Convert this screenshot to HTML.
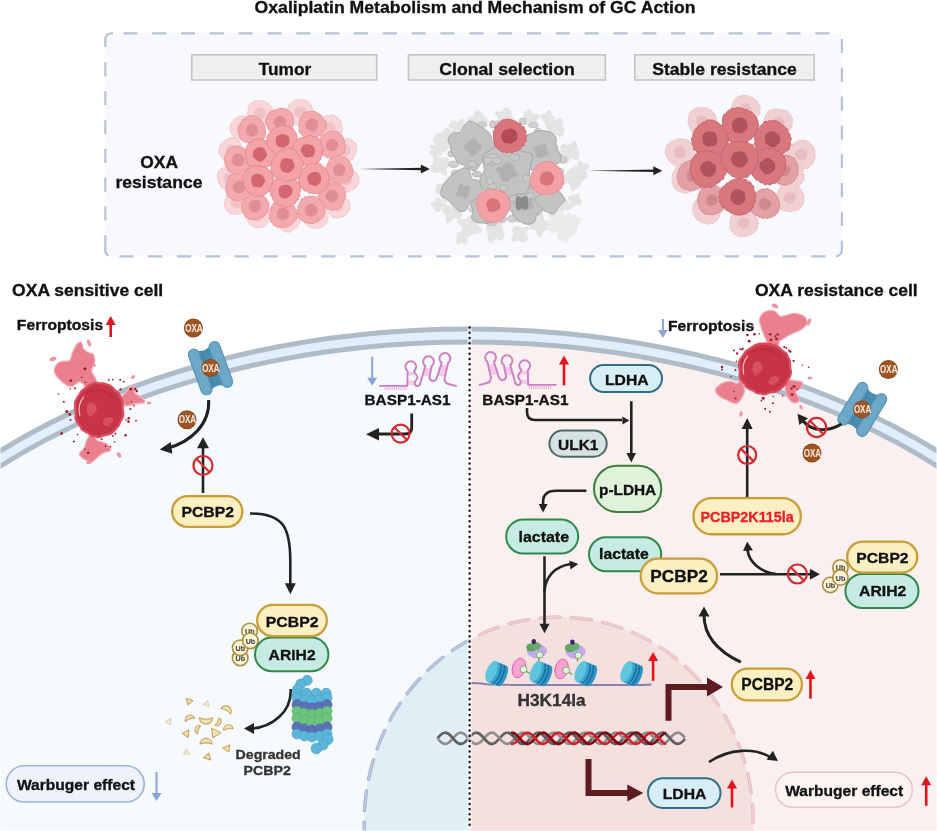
<!DOCTYPE html>
<html><head><meta charset="utf-8"><style>html,body{margin:0;padding:0;background:#fff;overflow:hidden}svg{display:block;filter:blur(0.4px)}</style></head><body>
<svg width="937" height="831" viewBox="0 0 937 831" font-family='"Liberation Sans", sans-serif'>
<defs>
<clipPath id="cell"><ellipse cx="468.7" cy="788.1" rx="683.4" ry="452.6"/></clipPath>
<clipPath id="L"><rect x="0" y="0" width="469.5" height="831"/></clipPath>
<clipPath id="R"><rect x="469.5" y="0" width="470" height="831"/></clipPath>
<linearGradient id="tap" x1="0" x2="1" y1="0" y2="0"><stop offset="0" stop-color="#222" stop-opacity="0"/><stop offset="0.35" stop-color="#222" stop-opacity="1"/></linearGradient>
</defs>
<rect width="937" height="831" fill="#ffffff"/>
<text x="254.60" y="12.7" font-size="17" fill="#111" stroke="#111" stroke-width="0.32" font-weight="bold" textLength="440.90" lengthAdjust="spacingAndGlyphs" >Oxaliplatin Metabolism and Mechanism of GC Action</text>
<rect x="105.3" y="33.3" width="736.6" height="223" rx="6" fill="#f8f9fd"/>
<line x1="123.3" y1="33.3" x2="830" y2="33.3" stroke="#b8c1da" stroke-width="2.2" fill="none" stroke-dasharray="14.1 14.73"/>
<line x1="119.4" y1="256.3" x2="826" y2="256.3" stroke="#b8c1da" stroke-width="2.2" fill="none" stroke-dasharray="14.1 14.73"/>
<line x1="841.9" y1="38.9" x2="841.9" y2="240" stroke="#b8c1da" stroke-width="2.2" fill="none" stroke-dasharray="14.1 14.73" transform=""/>
<line x1="105.3" y1="62.3" x2="105.3" y2="235" stroke="#b8c1da" stroke-width="2.2" fill="none" stroke-dasharray="14.1 14.73"/>
<path d="M105.3,235.3 L105.3,250.3 A6,6 0 0 0 108.5,255.6" stroke="#b8c1da" stroke-width="2.2" fill="none"/>
<path d="M841.9,240.7 L841.9,250.3 A6,6 0 0 1 835.9,256.3" stroke="#b8c1da" stroke-width="2.2" fill="none"/>
<path d="M105.3,47 L105.3,39.3 A6,6 0 0 1 111.3,33.3 L113,33.3" stroke="#b8c1da" stroke-width="2.2" fill="none"/>
<rect x="191.8" y="54.8" width="184.9" height="25.2" fill="#efefef" stroke="#c4c4c4" stroke-width="1.6"/>
<text x="258.83" y="74.6" font-size="17" fill="#111" stroke="#111" stroke-width="0.32" font-weight="bold" textLength="52.37" lengthAdjust="spacingAndGlyphs" >Tumor</text>
<rect x="408.5" y="54.8" width="196.90000000000006" height="25.2" fill="#efefef" stroke="#c4c4c4" stroke-width="1.6"/>
<text x="439.29" y="74.6" font-size="17" fill="#111" stroke="#111" stroke-width="0.32" font-weight="bold" textLength="135.44" lengthAdjust="spacingAndGlyphs" >Clonal selection</text>
<rect x="634.8" y="54.8" width="179.4" height="25.2" fill="#efefef" stroke="#c4c4c4" stroke-width="1.6"/>
<text x="652.27" y="74.6" font-size="17" fill="#111" stroke="#111" stroke-width="0.32" font-weight="bold" textLength="144.57" lengthAdjust="spacingAndGlyphs" >Stable resistance</text>
<text x="140.30" y="167.9" font-size="17" fill="#111" stroke="#111" stroke-width="0.32" font-weight="bold" textLength="37.67" lengthAdjust="spacingAndGlyphs" >OXA</text>
<text x="115.46" y="188.4" font-size="17" fill="#111" stroke="#111" stroke-width="0.32" font-weight="bold" textLength="87.01" lengthAdjust="spacingAndGlyphs" >resistance</text>
<path d="M358.5,169 L422,167.7 L422,170.3 Z" fill="#222"/>
<path d="M429.8,169.0 L420.8,173.5 L420.8,164.5 Z" fill="#222"/>
<path d="M587.6,170.7 L655,169.4 L655,172 Z" fill="#222"/>
<path d="M662.3,170.7 L653.3,175.2 L653.3,166.2 Z" fill="#222"/>
<path d="M273.1,113.0 L272.8,114.8 L272.3,116.6 L271.3,118.2 L270.6,119.8 L268.9,120.7 L268.2,122.5 L266.3,122.8 L265.2,124.5 L263.4,124.5 L261.8,125.6 L260.0,125.6 L258.1,126.5 L256.4,125.1 L254.5,125.0 L253.0,123.9 L251.1,123.3 L250.5,121.2 L249.3,119.9 L248.6,118.2 L248.3,116.4 L247.8,114.8 L247.6,113.0 L248.2,111.3 L247.9,109.5 L248.7,107.8 L248.6,105.7 L250.5,104.7 L251.1,102.8 L253.0,102.0 L254.5,101.0 L256.4,100.8 L258.2,100.5 L260.0,101.1 L261.8,100.7 L263.4,101.3 L265.2,101.6 L266.5,102.9 L268.4,103.3 L269.4,104.9 L270.9,106.0 L271.8,107.6 L273.0,109.2 L272.6,111.2 Z" fill="#f8d6d9" stroke="#f3c4c8" stroke-width="0.9" stroke-linejoin="round" opacity="1.0"/>
<path d="M265.9,113.0 L265.3,115.5 L263.9,117.8 L261.3,118.9 L258.7,118.5 L256.1,117.9 L255.1,115.4 L254.2,113.0 L254.5,110.4 L256.6,108.7 L258.7,107.3 L261.2,107.7 L263.7,108.3 L265.5,110.4 Z" fill="#efc2c6" opacity="1.0"/>
<path d="M313.1,112.0 L311.9,113.7 L312.2,115.6 L311.0,117.0 L310.7,118.9 L309.2,120.0 L308.7,122.0 L307.0,122.9 L305.5,124.1 L303.7,124.5 L301.9,125.0 L300.0,125.0 L298.1,125.3 L296.3,124.5 L294.5,124.0 L293.5,122.1 L291.8,121.5 L290.8,120.0 L289.7,118.6 L289.0,117.0 L287.9,115.5 L287.9,113.7 L287.1,112.0 L287.1,110.1 L287.4,108.3 L288.4,106.7 L288.8,104.8 L290.2,103.5 L291.7,102.4 L293.4,101.7 L294.7,100.4 L296.5,100.1 L298.2,99.3 L300.0,99.6 L301.8,99.6 L303.5,100.2 L305.4,100.2 L307.0,101.0 L309.0,101.6 L309.6,103.7 L311.1,104.9 L311.5,106.8 L312.4,108.3 L312.3,110.2 Z" fill="#f8d6d9" stroke="#f3c4c8" stroke-width="0.9" stroke-linejoin="round" opacity="1.0"/>
<path d="M305.9,112.0 L305.1,114.4 L303.4,116.2 L301.3,117.6 L298.7,117.6 L296.3,116.6 L294.3,114.7 L294.0,112.0 L294.7,109.5 L296.3,107.3 L298.7,106.1 L301.2,106.7 L303.9,107.1 L305.5,109.3 Z" fill="#efc2c6" opacity="1.0"/>
<path d="M342.9,128.0 L342.1,129.7 L342.4,131.6 L341.3,133.1 L341.3,135.3 L339.5,136.2 L338.6,137.9 L336.8,138.6 L335.4,139.8 L333.5,139.9 L331.8,140.4 L330.0,139.8 L328.2,140.2 L326.7,139.2 L324.8,139.4 L323.6,138.0 L321.4,138.0 L320.4,136.3 L319.1,135.0 L318.5,133.3 L317.2,131.8 L317.3,129.8 L317.0,128.0 L317.2,126.2 L317.2,124.2 L318.9,122.9 L319.4,121.2 L321.1,120.3 L322.0,118.7 L323.5,117.9 L324.8,116.5 L326.4,115.8 L328.2,115.2 L330.0,115.6 L332.0,114.4 L333.7,115.6 L335.5,116.1 L336.9,117.2 L338.3,118.4 L339.4,119.9 L341.0,120.9 L341.2,122.9 L342.2,124.4 L341.7,126.3 Z" fill="#f8d6d9" stroke="#f3c4c8" stroke-width="0.9" stroke-linejoin="round" opacity="1.0"/>
<path d="M335.7,128.0 L335.0,130.4 L333.8,132.8 L331.3,133.7 L328.6,134.0 L326.5,132.4 L325.0,130.4 L323.9,128.0 L324.3,125.3 L326.1,123.2 L328.6,122.0 L331.4,122.0 L333.8,123.3 L335.0,125.6 Z" fill="#efc2c6" opacity="1.0"/>
<path d="M356.9,150.0 L355.9,151.6 L355.9,153.2 L355.0,154.5 L354.6,156.2 L353.6,157.4 L353.0,159.2 L351.2,159.6 L350.2,161.3 L348.4,161.7 L346.8,162.6 L345.0,161.8 L343.3,162.0 L341.7,161.1 L340.1,160.8 L338.9,159.4 L337.3,158.9 L336.4,157.5 L335.1,156.4 L334.9,154.6 L333.7,153.3 L333.5,151.7 L333.3,150.0 L333.3,148.3 L332.9,146.4 L334.0,145.0 L334.4,143.2 L336.1,142.3 L337.2,141.0 L338.7,140.1 L340.1,139.3 L341.8,139.0 L343.3,138.2 L345.0,139.0 L346.6,138.5 L348.3,138.9 L350.0,139.0 L351.2,140.4 L352.9,140.9 L353.8,142.4 L355.7,143.1 L356.0,145.0 L356.5,146.6 L356.8,148.3 Z" fill="#f8d6d9" stroke="#f3c4c8" stroke-width="0.9" stroke-linejoin="round" opacity="1.0"/>
<path d="M350.8,150.0 L350.0,152.4 L348.3,154.1 L346.2,155.3 L343.9,155.0 L341.9,153.9 L339.8,152.5 L339.5,150.0 L340.1,147.6 L341.4,145.5 L343.8,144.8 L346.3,144.4 L348.5,145.6 L349.6,147.8 Z" fill="#efc2c6" opacity="1.0"/>
<path d="M359.3,180.0 L358.6,181.7 L358.8,183.5 L357.4,184.8 L357.0,186.4 L355.3,187.2 L354.8,189.0 L352.9,189.3 L351.8,190.5 L350.2,190.8 L348.7,192.0 L347.0,191.5 L345.2,192.4 L343.7,191.4 L341.8,191.3 L340.5,190.1 L339.1,189.1 L338.2,187.7 L337.1,186.4 L337.0,184.6 L335.5,183.4 L336.2,181.6 L335.4,180.0 L335.8,178.4 L335.7,176.7 L336.7,175.3 L336.8,173.5 L338.1,172.3 L338.8,170.5 L340.7,170.2 L341.8,168.7 L343.7,168.8 L345.3,168.1 L347.0,168.3 L348.7,168.3 L350.2,169.2 L351.9,169.3 L353.2,170.4 L354.6,171.2 L355.6,172.5 L357.1,173.5 L357.6,175.2 L358.9,176.5 L358.7,178.3 Z" fill="#f8d6d9" stroke="#f3c4c8" stroke-width="0.9" stroke-linejoin="round" opacity="1.0"/>
<path d="M352.4,180.0 L351.8,182.3 L350.6,184.5 L348.2,185.4 L345.7,185.6 L343.4,184.5 L342.3,182.3 L341.5,180.0 L341.8,177.5 L343.4,175.5 L345.9,175.0 L348.1,175.1 L350.3,175.8 L351.5,177.8 Z" fill="#efc2c6" opacity="1.0"/>
<path d="M350.1,206.0 L349.9,207.7 L350.0,209.5 L348.9,211.0 L347.9,212.3 L346.7,213.5 L345.7,214.9 L343.9,215.1 L342.9,216.8 L341.2,217.1 L339.7,217.5 L338.0,217.8 L336.3,218.0 L334.7,217.3 L332.7,217.6 L331.4,216.2 L330.1,215.2 L329.1,213.7 L327.8,212.5 L327.7,210.7 L326.9,209.2 L327.1,207.6 L326.3,206.0 L327.3,204.5 L326.7,202.7 L327.7,201.3 L328.2,199.7 L329.2,198.4 L329.9,196.6 L331.5,196.0 L333.0,195.0 L334.6,194.3 L336.2,193.7 L338.0,194.1 L339.6,194.6 L341.1,195.4 L342.7,195.7 L344.1,196.5 L345.5,197.3 L346.3,198.8 L348.0,199.6 L348.8,201.1 L350.0,202.5 L349.6,204.3 Z" fill="#f8d6d9" stroke="#f3c4c8" stroke-width="0.9" stroke-linejoin="round" opacity="1.0"/>
<path d="M343.1,206.0 L343.2,208.5 L341.4,210.3 L339.2,211.4 L336.9,210.9 L334.9,209.9 L333.0,208.4 L332.7,206.0 L333.5,203.8 L334.4,201.5 L336.8,200.6 L339.3,200.5 L341.1,202.1 L343.1,203.5 Z" fill="#efc2c6" opacity="1.0"/>
<path d="M328.4,217.0 L327.7,218.7 L327.8,220.5 L326.9,222.0 L326.7,223.8 L324.8,224.6 L323.7,225.9 L322.2,226.6 L320.8,227.5 L319.1,227.4 L317.6,228.2 L316.0,227.8 L314.4,228.4 L312.8,227.8 L311.1,227.8 L309.5,227.0 L308.0,226.2 L307.0,224.8 L305.8,223.6 L305.3,221.9 L304.6,220.3 L304.8,218.6 L304.5,217.0 L304.7,215.4 L304.8,213.7 L306.1,212.5 L306.2,210.7 L307.2,209.4 L308.4,208.2 L309.6,207.0 L310.9,205.9 L312.6,205.6 L314.2,204.5 L316.0,205.2 L317.7,204.8 L319.3,205.7 L321.1,205.8 L322.0,207.6 L323.8,208.0 L324.5,209.6 L325.8,210.7 L326.1,212.4 L327.2,213.7 L327.1,215.4 Z" fill="#f8d6d9" stroke="#f3c4c8" stroke-width="0.9" stroke-linejoin="round" opacity="1.0"/>
<path d="M321.1,217.0 L320.5,219.2 L319.5,221.4 L317.2,222.1 L314.9,222.0 L312.9,220.9 L310.9,219.5 L310.3,217.0 L311.0,214.6 L312.8,212.9 L314.8,212.0 L317.2,211.9 L319.3,212.8 L320.6,214.8 Z" fill="#efc2c6" opacity="1.0"/>
<path d="M300.0,220.0 L299.7,221.7 L299.6,223.4 L298.2,224.7 L297.6,226.2 L296.7,227.5 L295.6,228.7 L294.1,229.4 L292.8,230.6 L291.3,231.1 L289.7,232.2 L288.0,231.9 L286.3,232.1 L284.7,231.4 L283.1,230.8 L281.8,229.6 L280.4,228.8 L279.5,227.3 L278.5,226.1 L278.2,224.5 L277.0,223.2 L277.1,221.6 L276.1,220.0 L276.5,218.4 L276.1,216.5 L277.1,215.0 L277.4,213.2 L278.8,212.0 L280.0,210.7 L281.7,210.2 L282.9,208.7 L284.9,209.3 L286.3,208.3 L288.0,208.8 L289.6,208.9 L291.2,209.1 L293.0,209.1 L294.2,210.3 L296.0,210.7 L297.1,212.1 L298.2,213.5 L298.9,215.0 L299.9,216.5 L299.9,218.3 Z" fill="#f8d6d9" stroke="#f3c4c8" stroke-width="0.9" stroke-linejoin="round" opacity="1.0"/>
<path d="M293.7,220.0 L293.1,222.5 L291.4,224.3 L289.3,225.6 L286.8,225.4 L284.5,224.4 L283.3,222.2 L283.0,220.0 L283.4,217.8 L284.7,215.9 L286.9,215.1 L289.3,214.5 L291.4,215.7 L293.0,217.6 Z" fill="#efc2c6" opacity="1.0"/>
<path d="M269.8,216.0 L269.0,217.6 L268.8,219.2 L268.3,220.7 L268.0,222.4 L266.6,223.5 L265.9,225.2 L264.4,226.0 L263.0,227.0 L261.4,227.6 L259.7,228.1 L258.0,227.5 L256.3,227.9 L254.7,227.2 L253.2,226.5 L251.9,225.6 L250.2,225.0 L249.6,223.3 L248.3,222.3 L247.7,220.7 L246.4,219.4 L246.3,217.7 L245.6,216.0 L246.1,214.3 L246.4,212.6 L247.4,211.2 L247.8,209.5 L249.1,208.3 L250.3,207.1 L251.9,206.5 L253.3,205.7 L255.0,205.7 L256.4,204.7 L258.0,204.7 L259.7,204.1 L261.3,204.8 L263.0,205.0 L264.4,206.0 L266.1,206.6 L267.0,208.2 L268.1,209.5 L268.9,211.0 L269.3,212.7 L269.6,214.3 Z" fill="#f8d6d9" stroke="#f3c4c8" stroke-width="0.9" stroke-linejoin="round" opacity="1.0"/>
<path d="M263.8,216.0 L262.5,218.2 L261.3,220.2 L259.3,221.5 L256.7,221.7 L254.7,220.2 L253.3,218.3 L252.9,216.0 L252.8,213.5 L254.8,212.0 L256.8,210.7 L259.1,211.0 L261.4,211.8 L263.2,213.5 Z" fill="#efc2c6" opacity="1.0"/>
<path d="M248.5,203.0 L247.8,204.7 L248.2,206.6 L246.9,208.0 L246.1,209.5 L245.0,210.8 L243.8,212.0 L241.9,212.2 L240.7,213.2 L239.1,213.6 L237.6,214.5 L236.0,214.1 L234.3,214.5 L232.8,214.0 L231.0,214.0 L229.5,213.2 L228.1,212.1 L226.9,210.9 L225.4,209.8 L225.6,207.7 L224.2,206.5 L224.6,204.6 L224.0,203.0 L225.1,201.4 L225.0,199.8 L225.9,198.4 L225.8,196.4 L227.3,195.5 L228.1,193.9 L229.7,193.1 L230.9,191.9 L232.7,191.9 L234.3,191.0 L236.0,191.0 L237.7,191.1 L239.3,191.7 L240.8,192.4 L241.9,193.7 L243.6,194.2 L244.2,195.9 L245.7,196.7 L246.6,198.2 L247.8,199.5 L247.8,201.3 Z" fill="#f8d6d9" stroke="#f3c4c8" stroke-width="0.9" stroke-linejoin="round" opacity="1.0"/>
<path d="M241.5,203.0 L241.2,205.5 L239.6,207.5 L237.2,208.3 L234.8,208.4 L232.9,206.9 L231.0,205.4 L230.6,203.0 L230.9,200.6 L232.6,198.7 L234.8,197.9 L237.1,198.1 L239.6,198.5 L240.6,200.8 Z" fill="#efc2c6" opacity="1.0"/>
<path d="M241.0,178.0 L240.2,179.6 L240.4,181.4 L239.4,182.8 L238.6,184.2 L237.5,185.4 L236.6,186.7 L235.2,187.6 L234.0,188.9 L232.2,189.0 L230.7,190.0 L229.0,189.7 L227.2,190.6 L225.7,189.4 L224.0,188.9 L222.6,187.9 L221.0,187.2 L220.6,185.3 L219.5,184.1 L219.1,182.5 L218.1,181.2 L217.9,179.6 L217.4,178.0 L217.7,176.4 L217.4,174.6 L218.1,173.0 L218.3,171.1 L219.9,170.1 L221.0,168.8 L222.7,168.3 L224.0,167.1 L225.8,167.2 L227.4,166.6 L229.0,167.2 L230.6,166.7 L232.2,166.9 L233.8,167.5 L235.2,168.3 L237.0,168.7 L238.1,170.1 L239.3,171.4 L239.7,173.1 L240.7,174.6 L240.6,176.3 Z" fill="#f8d6d9" stroke="#f3c4c8" stroke-width="0.9" stroke-linejoin="round" opacity="1.0"/>
<path d="M234.4,178.0 L234.2,180.5 L232.6,182.5 L230.3,183.6 L227.9,182.9 L225.9,181.9 L224.0,180.4 L223.3,178.0 L224.2,175.7 L225.6,173.7 L227.9,173.2 L230.2,172.8 L232.6,173.5 L234.1,175.5 Z" fill="#efc2c6" opacity="1.0"/>
<path d="M243.0,150.0 L242.0,151.6 L242.2,153.3 L241.4,154.7 L241.4,156.7 L240.1,157.9 L239.3,159.6 L237.5,160.1 L236.1,161.2 L234.3,161.3 L232.7,161.8 L231.0,161.3 L229.4,161.2 L227.8,160.8 L226.3,160.4 L224.8,159.7 L223.2,159.0 L222.4,157.5 L221.0,156.5 L220.4,154.9 L219.0,153.5 L219.1,151.7 L218.9,150.0 L219.7,148.4 L219.4,146.6 L220.6,145.3 L221.2,143.7 L222.7,142.8 L223.4,141.2 L225.2,140.9 L226.2,139.4 L227.8,139.1 L229.2,137.7 L231.0,138.1 L232.8,137.5 L234.4,138.6 L236.1,138.9 L237.3,140.2 L239.2,140.6 L239.8,142.4 L240.8,143.7 L240.9,145.5 L242.1,146.7 L242.1,148.4 Z" fill="#f8d6d9" stroke="#f3c4c8" stroke-width="0.9" stroke-linejoin="round" opacity="1.0"/>
<path d="M236.3,150.0 L235.7,152.3 L234.5,154.3 L232.3,155.6 L229.9,155.0 L227.9,153.9 L226.3,152.3 L225.7,150.0 L226.0,147.6 L227.8,146.0 L229.7,144.5 L232.2,144.5 L234.4,145.8 L235.6,147.8 Z" fill="#efc2c6" opacity="1.0"/>
<path d="M253.8,128.0 L253.7,129.7 L253.6,131.4 L252.6,132.9 L252.6,134.8 L250.9,135.7 L250.3,137.5 L248.3,137.8 L246.9,138.7 L245.1,138.7 L243.7,139.5 L242.0,139.2 L240.3,139.8 L238.9,138.5 L237.1,138.7 L235.9,137.5 L233.8,137.4 L233.3,135.6 L231.8,134.5 L231.4,132.8 L230.2,131.5 L230.1,129.7 L229.6,128.0 L230.5,126.4 L230.4,124.6 L231.6,123.2 L232.4,121.8 L233.8,120.9 L234.1,118.9 L235.8,118.3 L237.1,117.4 L238.7,116.6 L240.3,115.9 L242.0,116.2 L243.7,115.8 L245.3,116.9 L246.9,117.2 L248.2,118.4 L249.7,119.1 L250.7,120.4 L251.5,121.9 L252.4,123.2 L253.0,124.8 L253.1,126.4 Z" fill="#f8d6d9" stroke="#f3c4c8" stroke-width="0.9" stroke-linejoin="round" opacity="1.0"/>
<path d="M247.7,128.0 L247.1,130.5 L245.3,132.2 L243.1,132.9 L240.8,133.2 L238.7,132.1 L236.8,130.5 L236.9,128.0 L237.2,125.7 L238.4,123.5 L240.9,123.1 L243.2,122.8 L245.5,123.6 L247.1,125.6 Z" fill="#efc2c6" opacity="1.0"/>
<path d="M265.7,130.0 L265.2,131.9 L266.2,134.2 L264.5,135.7 L264.3,137.9 L262.7,139.2 L261.2,140.6 L259.1,141.1 L257.9,142.9 L255.7,142.6 L253.9,143.2 L252.0,143.1 L250.1,143.3 L248.3,142.5 L246.4,142.3 L244.5,141.6 L242.4,141.1 L241.4,139.2 L239.5,138.0 L239.8,135.6 L238.5,134.0 L238.6,131.9 L237.7,130.0 L238.6,128.1 L239.1,126.2 L240.4,124.7 L240.7,122.7 L242.1,121.4 L242.7,119.3 L244.8,118.9 L246.0,116.8 L248.0,116.5 L249.9,115.4 L252.0,115.9 L254.1,115.7 L255.8,117.0 L257.8,117.4 L259.1,119.0 L261.1,119.5 L261.5,121.7 L263.2,122.8 L264.0,124.5 L265.0,126.2 L264.9,128.2 Z" fill="#f2aaae" stroke="#e89499" stroke-width="0.9" stroke-linejoin="round" opacity="1.0"/>
<path d="M257.8,130.0 L257.7,132.8 L255.8,134.8 L253.5,136.6 L250.5,136.5 L247.8,135.3 L246.5,132.6 L246.1,130.0 L246.7,127.4 L248.1,125.1 L250.6,123.7 L253.4,123.9 L255.8,125.3 L257.6,127.3 Z" fill="#e08e93" opacity="1.0"/>
<path d="M293.8,122.0 L293.1,123.9 L293.2,125.9 L292.0,127.5 L291.3,129.2 L290.3,130.9 L289.1,132.5 L287.4,133.6 L285.9,135.0 L284.0,135.6 L282.0,136.1 L280.0,135.6 L278.0,135.8 L276.3,134.6 L274.1,134.8 L272.9,133.0 L271.2,132.1 L270.3,130.4 L268.2,129.6 L268.0,127.5 L266.8,125.9 L266.3,124.0 L265.5,122.0 L265.8,120.0 L266.4,118.0 L267.4,116.2 L267.7,114.1 L269.5,112.9 L270.7,111.2 L273.1,111.3 L274.4,109.8 L276.4,109.9 L278.1,108.9 L280.0,108.5 L282.0,108.3 L283.9,108.7 L285.9,109.2 L287.6,110.1 L289.5,111.1 L290.4,113.0 L292.3,114.1 L292.8,116.2 L293.2,118.1 L293.2,120.1 Z" fill="#f2aaae" stroke="#e89499" stroke-width="0.9" stroke-linejoin="round" opacity="1.0"/>
<path d="M286.4,122.0 L285.4,124.6 L283.8,126.8 L281.3,127.8 L278.7,127.9 L276.2,126.7 L274.2,124.8 L273.5,122.0 L274.6,119.4 L276.4,117.5 L278.6,116.0 L281.4,115.7 L283.7,117.3 L285.5,119.3 Z" fill="#e08e93" opacity="1.0"/>
<path d="M326.7,125.0 L325.8,127.0 L325.5,129.0 L324.2,130.6 L323.8,132.6 L322.1,133.7 L321.0,135.4 L318.8,135.6 L317.5,137.0 L315.7,137.6 L313.9,138.5 L312.0,138.1 L310.0,138.8 L308.0,138.5 L306.1,138.0 L304.4,136.8 L302.6,135.8 L301.6,134.0 L299.8,132.8 L299.4,130.8 L298.9,128.9 L299.3,126.8 L298.3,125.0 L299.4,123.2 L299.4,121.3 L299.7,119.4 L300.3,117.5 L301.5,115.9 L302.7,114.2 L304.3,113.0 L306.0,111.8 L308.2,111.9 L310.0,111.2 L312.0,111.4 L314.0,111.1 L315.8,112.0 L317.5,113.0 L319.1,114.0 L320.8,114.9 L321.9,116.4 L323.4,117.7 L324.1,119.5 L325.6,121.0 L326.0,123.0 Z" fill="#f2aaae" stroke="#e89499" stroke-width="0.9" stroke-linejoin="round" opacity="1.0"/>
<path d="M317.9,125.0 L317.7,127.7 L316.1,130.2 L313.5,131.6 L310.7,130.8 L308.3,129.6 L305.9,127.9 L305.2,125.0 L306.3,122.3 L308.4,120.4 L310.5,118.4 L313.4,119.0 L316.2,119.8 L317.8,122.2 Z" fill="#e08e93" opacity="1.0"/>
<path d="M345.3,145.0 L345.2,146.9 L345.1,148.8 L344.2,150.6 L344.3,152.9 L342.7,154.3 L341.3,155.7 L339.4,156.5 L337.9,158.0 L335.8,158.1 L334.0,158.7 L332.0,157.9 L330.1,158.3 L328.3,157.6 L326.2,157.6 L325.2,155.6 L323.0,155.4 L321.7,153.9 L320.4,152.4 L319.2,150.8 L318.4,149.0 L318.1,147.0 L317.5,145.0 L318.3,143.0 L318.6,141.1 L319.9,139.5 L320.4,137.5 L322.2,136.5 L323.1,134.7 L325.0,134.1 L326.4,132.6 L328.4,132.7 L330.0,131.0 L332.0,131.3 L334.0,131.0 L336.0,131.4 L338.1,131.6 L339.5,133.4 L341.2,134.4 L342.2,136.2 L343.4,137.7 L343.6,139.7 L344.9,141.2 L344.5,143.2 Z" fill="#f2aaae" stroke="#e89499" stroke-width="0.9" stroke-linejoin="round" opacity="1.0"/>
<path d="M338.2,145.0 L337.7,147.7 L335.6,149.6 L333.4,151.3 L330.7,150.7 L327.9,150.1 L326.1,147.9 L325.7,145.0 L326.7,142.5 L328.1,140.1 L330.6,139.0 L333.5,138.4 L335.7,140.4 L338.0,142.1 Z" fill="#e08e93" opacity="1.0"/>
<path d="M353.2,170.0 L352.8,172.0 L352.5,174.0 L352.0,175.9 L351.2,177.8 L349.8,179.3 L348.6,181.1 L346.2,181.1 L344.9,182.8 L342.8,182.9 L340.9,183.1 L339.0,182.8 L337.0,183.6 L335.4,182.3 L333.1,182.9 L331.8,181.2 L329.5,181.0 L328.8,178.9 L326.8,177.8 L326.0,175.9 L325.4,174.0 L325.7,171.9 L325.0,170.0 L326.0,168.1 L326.3,166.3 L327.4,164.7 L327.9,162.8 L328.9,161.2 L329.9,159.5 L331.6,158.5 L333.2,157.4 L335.1,156.6 L337.0,156.0 L339.0,156.0 L341.1,155.6 L342.8,156.9 L345.0,156.8 L346.3,158.7 L348.0,159.6 L349.1,161.3 L350.1,162.9 L351.2,164.4 L352.2,166.1 L352.0,168.1 Z" fill="#f2aaae" stroke="#e89499" stroke-width="0.9" stroke-linejoin="round" opacity="1.0"/>
<path d="M345.6,170.0 L344.5,172.6 L343.2,175.3 L340.4,176.2 L337.6,176.0 L334.9,175.1 L333.4,172.7 L333.0,170.0 L333.1,167.2 L335.4,165.4 L337.5,163.5 L340.3,164.1 L343.0,165.0 L345.1,167.1 Z" fill="#e08e93" opacity="1.0"/>
<path d="M345.9,196.0 L344.7,197.8 L344.6,199.7 L343.4,201.2 L343.2,203.2 L342.1,204.7 L341.1,206.5 L339.4,207.5 L338.1,209.4 L335.8,209.0 L334.0,210.1 L332.0,210.0 L330.0,209.7 L328.3,208.6 L326.3,208.5 L325.1,206.8 L323.2,206.2 L322.4,204.3 L320.5,203.4 L320.0,201.5 L319.0,199.8 L318.5,197.9 L317.8,196.0 L318.6,194.1 L317.8,191.8 L319.5,190.3 L320.1,188.4 L321.9,187.3 L322.7,185.3 L324.7,184.6 L326.2,183.4 L328.4,183.6 L330.1,182.8 L332.0,183.4 L334.0,182.3 L335.8,183.1 L337.8,183.3 L339.5,184.3 L341.4,185.1 L342.8,186.6 L344.3,188.1 L344.3,190.4 L345.9,191.9 L344.9,194.1 Z" fill="#f2aaae" stroke="#e89499" stroke-width="0.9" stroke-linejoin="round" opacity="1.0"/>
<path d="M338.3,196.0 L337.6,198.7 L335.8,200.7 L333.3,201.7 L330.5,202.4 L328.4,200.5 L326.3,198.8 L325.3,196.0 L326.6,193.4 L328.3,191.3 L330.6,189.8 L333.4,189.9 L336.0,191.0 L338.0,193.1 Z" fill="#e08e93" opacity="1.0"/>
<path d="M325.3,210.0 L324.6,212.0 L324.5,214.0 L323.8,215.9 L323.1,217.8 L321.3,218.9 L319.7,220.1 L318.2,221.2 L316.7,222.5 L314.6,222.4 L313.0,223.7 L311.0,223.2 L309.0,223.6 L307.3,222.8 L305.1,222.9 L303.7,221.4 L301.6,220.8 L300.4,219.2 L298.8,217.8 L298.4,215.7 L297.5,214.0 L298.2,211.8 L297.4,210.0 L298.2,208.2 L297.8,206.1 L299.1,204.5 L299.5,202.6 L300.7,201.1 L301.4,198.9 L303.6,198.6 L304.9,196.5 L307.2,197.0 L309.0,196.0 L311.0,196.6 L313.0,195.9 L314.8,196.9 L316.8,197.4 L317.9,199.2 L320.1,199.5 L320.7,201.6 L322.4,202.7 L323.5,204.3 L324.6,206.0 L324.8,208.0 Z" fill="#f2aaae" stroke="#e89499" stroke-width="0.9" stroke-linejoin="round" opacity="1.0"/>
<path d="M317.5,210.0 L317.1,212.9 L314.9,214.9 L312.5,216.5 L309.6,216.3 L306.8,215.2 L305.4,212.7 L304.5,210.0 L305.3,207.2 L307.2,205.2 L309.7,204.1 L312.4,203.7 L314.7,205.4 L317.0,207.1 Z" fill="#e08e93" opacity="1.0"/>
<path d="M297.0,214.0 L296.4,215.9 L297.2,218.2 L295.5,219.7 L294.7,221.5 L292.9,222.6 L291.8,224.2 L290.2,225.2 L288.7,226.4 L286.7,226.6 L285.0,227.6 L283.0,226.8 L281.0,227.8 L279.2,226.9 L277.0,227.2 L275.4,225.9 L273.3,225.2 L272.8,222.9 L270.7,221.9 L270.3,219.8 L269.2,218.0 L270.2,215.8 L269.6,214.0 L270.5,212.2 L270.4,210.3 L270.9,208.5 L271.2,206.4 L272.8,205.2 L273.5,203.1 L275.5,202.3 L277.1,201.0 L279.2,201.0 L281.0,200.0 L283.0,200.0 L285.0,200.3 L286.7,201.3 L288.7,201.6 L289.8,203.4 L291.7,203.9 L292.7,205.6 L294.6,206.5 L295.0,208.5 L296.3,210.1 L296.9,212.0 Z" fill="#f2aaae" stroke="#e89499" stroke-width="0.9" stroke-linejoin="round" opacity="1.0"/>
<path d="M289.3,214.0 L289.0,216.9 L287.0,219.0 L284.3,219.7 L281.6,220.1 L279.1,218.9 L277.1,216.9 L276.9,214.0 L277.1,211.2 L279.0,209.0 L281.7,208.1 L284.5,207.5 L286.7,209.4 L289.0,211.1 Z" fill="#e08e93" opacity="1.0"/>
<path d="M269.0,206.0 L268.5,207.9 L269.1,210.1 L267.9,211.9 L266.6,213.4 L265.1,214.8 L264.0,216.4 L262.2,217.2 L260.5,218.1 L258.7,218.4 L256.9,219.3 L255.0,219.5 L253.0,219.6 L251.1,219.4 L249.1,218.9 L247.6,217.5 L245.4,217.1 L244.5,215.1 L243.3,213.6 L242.6,211.7 L242.0,209.8 L241.7,207.9 L241.3,206.0 L241.9,204.1 L241.9,202.2 L243.2,200.6 L243.4,198.6 L244.9,197.2 L245.5,195.0 L247.7,194.7 L248.8,192.5 L251.2,193.0 L253.0,192.0 L255.0,192.5 L257.0,191.8 L258.7,193.3 L260.6,193.7 L262.2,194.8 L263.7,196.0 L264.8,197.5 L266.6,198.6 L267.3,200.4 L268.7,202.0 L268.7,204.0 Z" fill="#f2aaae" stroke="#e89499" stroke-width="0.9" stroke-linejoin="round" opacity="1.0"/>
<path d="M261.1,206.0 L260.5,208.7 L258.7,210.7 L256.5,212.5 L253.6,212.3 L250.9,211.1 L249.6,208.6 L248.8,206.0 L249.1,203.1 L251.0,201.0 L253.7,200.2 L256.4,199.9 L259.2,200.8 L260.4,203.4 Z" fill="#e08e93" opacity="1.0"/>
<path d="M253.3,187.0 L253.0,189.0 L253.1,191.1 L251.2,192.6 L250.6,194.5 L248.9,195.6 L247.9,197.3 L246.0,198.0 L244.5,199.0 L242.6,199.3 L240.9,200.3 L239.0,200.7 L237.0,201.1 L235.2,199.8 L232.9,200.4 L231.7,198.4 L229.6,197.9 L228.2,196.3 L226.8,194.8 L226.6,192.7 L225.8,190.9 L226.3,188.8 L225.3,187.0 L226.5,185.2 L226.2,183.2 L227.1,181.6 L227.6,179.7 L228.8,178.2 L229.5,176.0 L231.4,175.2 L233.0,173.8 L235.1,173.6 L237.0,172.8 L239.0,173.7 L241.0,173.1 L242.7,174.4 L244.7,174.4 L246.2,175.8 L247.8,176.8 L248.9,178.4 L250.8,179.4 L251.1,181.5 L252.4,183.1 L252.8,185.0 Z" fill="#f2aaae" stroke="#e89499" stroke-width="0.9" stroke-linejoin="round" opacity="1.0"/>
<path d="M245.7,187.0 L244.9,189.9 L243.1,192.1 L240.5,193.5 L237.6,193.3 L235.0,192.0 L233.4,189.7 L232.9,187.0 L233.2,184.2 L235.3,182.4 L237.6,180.9 L240.5,180.6 L243.1,181.9 L244.8,184.2 Z" fill="#e08e93" opacity="1.0"/>
<path d="M252.4,160.0 L251.7,162.0 L251.8,164.1 L250.3,165.6 L249.8,167.6 L248.2,168.9 L246.7,170.1 L245.1,171.0 L243.7,172.5 L241.7,172.5 L240.0,173.6 L238.0,173.8 L236.0,173.7 L234.1,173.3 L232.1,172.9 L230.3,171.9 L228.3,171.2 L227.6,169.0 L226.4,167.4 L225.8,165.6 L224.8,163.9 L225.0,161.9 L224.5,160.0 L225.0,158.1 L224.6,156.1 L225.9,154.5 L226.2,152.4 L227.4,150.8 L228.7,149.3 L230.4,148.2 L232.0,146.9 L234.0,146.5 L236.0,146.3 L238.0,146.2 L239.9,146.5 L241.6,147.8 L243.5,147.9 L245.0,149.2 L246.6,150.0 L247.9,151.4 L249.7,152.5 L250.5,154.3 L251.6,156.0 L251.5,158.1 Z" fill="#f2aaae" stroke="#e89499" stroke-width="0.9" stroke-linejoin="round" opacity="1.0"/>
<path d="M244.0,160.0 L243.9,162.8 L242.2,165.3 L239.4,166.2 L236.7,165.9 L233.9,165.2 L232.4,162.7 L232.0,160.0 L232.7,157.4 L233.9,154.9 L236.5,153.6 L239.4,153.7 L241.9,155.1 L243.7,157.2 Z" fill="#e08e93" opacity="1.0"/>
<path d="M276.4,154.4 L275.0,156.6 L275.3,158.9 L273.9,160.8 L273.2,162.9 L271.0,164.0 L269.7,165.7 L267.7,166.5 L266.0,167.7 L264.1,168.5 L262.0,169.3 L259.9,169.5 L257.7,169.7 L255.6,168.9 L253.4,168.7 L251.6,167.3 L249.6,166.3 L248.7,164.1 L246.6,163.0 L246.6,160.5 L245.5,158.6 L245.8,156.4 L245.0,154.4 L245.8,152.4 L245.3,150.1 L246.4,148.3 L247.0,146.1 L248.2,144.2 L249.3,142.1 L251.8,141.8 L253.1,139.5 L255.5,139.3 L257.6,138.5 L259.9,139.8 L262.1,138.9 L264.0,140.3 L265.9,141.2 L267.4,142.7 L270.0,142.7 L271.0,144.8 L272.6,146.2 L273.2,148.3 L274.7,150.0 L274.8,152.3 Z" fill="#f4a3a7" stroke="#e3868c" stroke-width="0.9" stroke-linejoin="round" opacity="1.0"/>
<path d="M267.2,154.4 L266.1,157.4 L264.0,159.6 L261.6,161.7 L258.3,161.5 L255.8,159.6 L253.2,157.6 L252.8,154.4 L253.3,151.2 L255.4,148.8 L258.2,147.1 L261.5,147.3 L264.5,148.6 L265.9,151.5 Z" fill="#d2676f" opacity="1.0"/>
<path d="M297.5,140.8 L296.9,142.9 L296.9,145.0 L296.1,147.0 L295.5,149.1 L293.7,150.5 L292.7,152.6 L290.6,153.4 L289.2,155.4 L286.7,155.2 L284.8,156.5 L282.5,155.5 L280.3,156.1 L278.4,154.8 L276.2,154.5 L274.6,153.2 L273.0,151.8 L271.3,150.5 L269.7,149.0 L268.9,147.0 L267.3,145.3 L267.1,143.0 L266.6,140.8 L267.3,138.6 L266.8,136.2 L269.0,134.6 L269.3,132.3 L271.2,131.0 L272.8,129.7 L274.7,128.6 L276.2,127.0 L278.3,126.6 L280.4,126.0 L282.5,125.7 L284.7,125.4 L286.8,126.3 L289.3,126.0 L290.6,128.2 L293.1,128.5 L294.2,130.7 L295.6,132.4 L296.4,134.5 L297.1,136.5 L296.8,138.7 Z" fill="#f4a3a7" stroke="#e3868c" stroke-width="0.9" stroke-linejoin="round" opacity="1.0"/>
<path d="M289.5,140.8 L289.1,144.0 L286.7,146.0 L284.0,147.6 L281.0,147.5 L278.1,146.3 L275.9,144.0 L275.7,140.8 L275.9,137.6 L278.2,135.4 L280.9,134.0 L284.0,134.2 L286.9,135.3 L289.3,137.5 Z" fill="#d2676f" opacity="1.0"/>
<path d="M323.3,150.8 L322.0,152.8 L322.2,155.0 L321.0,156.7 L320.9,159.1 L319.3,160.6 L318.5,162.9 L316.0,163.3 L314.7,165.6 L312.4,165.9 L310.3,166.6 L308.0,165.6 L305.8,166.1 L304.0,164.5 L301.8,164.3 L300.0,163.2 L298.1,162.2 L297.0,160.3 L295.0,159.1 L294.3,157.1 L293.0,155.2 L292.9,153.0 L291.9,150.8 L292.6,148.6 L292.5,146.3 L293.9,144.4 L295.0,142.4 L296.6,140.9 L298.0,139.3 L300.0,138.4 L301.9,137.5 L304.0,137.3 L305.9,136.3 L308.0,136.0 L310.2,135.2 L312.3,136.3 L314.5,136.5 L316.5,137.6 L318.7,138.5 L319.7,140.7 L321.2,142.3 L321.5,144.6 L322.7,146.5 L322.3,148.7 Z" fill="#f4a3a7" stroke="#e3868c" stroke-width="0.9" stroke-linejoin="round" opacity="1.0"/>
<path d="M314.9,150.8 L314.4,153.9 L312.7,156.7 L309.4,157.1 L306.4,157.7 L304.0,155.9 L302.1,153.7 L300.7,150.8 L301.6,147.7 L303.3,145.0 L306.5,144.0 L309.4,144.5 L312.3,145.4 L314.4,147.7 Z" fill="#d2676f" opacity="1.0"/>
<path d="M330.0,178.9 L329.0,181.0 L329.3,183.3 L327.9,185.1 L327.9,187.6 L325.7,188.8 L324.5,190.7 L322.3,191.3 L320.6,192.6 L318.5,193.2 L316.4,193.5 L314.3,193.7 L312.2,193.3 L310.1,193.0 L308.1,192.4 L306.6,190.9 L304.0,190.8 L303.0,188.7 L300.7,187.6 L300.5,185.2 L299.3,183.3 L298.9,181.1 L298.4,178.9 L299.3,176.7 L299.5,174.5 L301.5,173.1 L301.6,170.7 L303.3,169.4 L304.5,167.6 L306.2,166.3 L308.0,165.1 L309.9,164.0 L312.0,163.0 L314.3,164.0 L316.5,163.5 L318.7,164.0 L321.0,164.2 L322.2,166.6 L324.3,167.4 L325.5,169.2 L326.7,170.9 L327.7,172.8 L328.7,174.7 L328.2,176.9 Z" fill="#f4a3a7" stroke="#e3868c" stroke-width="0.9" stroke-linejoin="round" opacity="1.0"/>
<path d="M321.2,178.9 L320.7,182.0 L318.6,184.3 L315.9,185.9 L312.8,185.3 L309.7,184.6 L308.1,181.9 L307.1,178.9 L307.9,175.8 L310.0,173.5 L312.8,172.2 L315.9,171.8 L319.0,173.0 L320.9,175.7 Z" fill="#d2676f" opacity="1.0"/>
<path d="M300.4,191.6 L299.2,193.6 L300.1,195.9 L298.5,197.6 L298.2,199.9 L296.2,201.0 L295.5,203.3 L293.7,204.6 L292.0,206.3 L289.7,206.4 L287.6,207.3 L285.3,206.9 L283.0,207.7 L281.1,205.9 L278.8,205.8 L277.4,204.0 L275.2,203.2 L274.2,201.2 L272.9,199.6 L272.6,197.4 L270.9,195.8 L270.6,193.7 L269.5,191.6 L269.9,189.4 L269.6,187.0 L271.7,185.4 L271.6,182.8 L273.6,181.5 L274.9,179.6 L277.3,179.1 L279.1,178.0 L281.2,177.5 L283.1,176.5 L285.3,177.0 L287.5,176.2 L289.4,177.6 L291.6,177.8 L293.5,178.8 L295.9,179.3 L296.7,181.7 L299.0,182.8 L299.6,185.1 L300.2,187.2 L300.1,189.5 Z" fill="#f4a3a7" stroke="#e3868c" stroke-width="0.9" stroke-linejoin="round" opacity="1.0"/>
<path d="M292.5,191.6 L291.6,194.6 L289.5,196.8 L286.8,198.2 L283.7,198.7 L280.7,197.3 L279.0,194.6 L278.8,191.6 L278.7,188.4 L280.7,185.9 L283.8,185.1 L286.9,184.7 L289.9,185.8 L292.0,188.4 Z" fill="#d2676f" opacity="1.0"/>
<path d="M273.4,180.7 L272.5,182.8 L272.2,184.9 L270.8,186.5 L270.4,188.6 L269.1,190.3 L267.9,192.1 L266.1,193.3 L264.5,194.9 L262.3,195.4 L260.2,196.2 L258.0,195.7 L255.7,197.0 L253.8,195.1 L251.7,194.5 L250.0,193.2 L247.9,192.3 L247.4,189.9 L245.3,188.8 L245.0,186.6 L243.5,185.0 L243.9,182.7 L242.9,180.7 L242.5,178.5 L242.4,176.1 L244.0,174.3 L244.5,172.0 L246.6,170.8 L247.5,168.6 L250.0,168.2 L251.5,166.4 L253.9,166.6 L255.8,165.6 L258.0,165.9 L260.1,166.0 L262.0,167.1 L264.3,166.9 L266.0,168.3 L268.1,169.0 L269.3,170.9 L271.5,172.0 L272.3,174.2 L273.2,176.2 L273.3,178.5 Z" fill="#f4a3a7" stroke="#e3868c" stroke-width="0.9" stroke-linejoin="round" opacity="1.0"/>
<path d="M265.5,180.7 L263.9,183.5 L262.4,186.3 L259.5,187.4 L256.5,187.1 L253.3,186.6 L251.9,183.6 L250.9,180.7 L251.6,177.6 L253.3,174.8 L256.4,173.7 L259.5,174.0 L262.3,175.3 L264.0,177.8 Z" fill="#d2676f" opacity="1.0"/>
<path d="M303.9,165.3 L302.5,167.5 L302.7,169.9 L301.6,172.0 L301.2,174.5 L299.7,176.3 L298.3,178.4 L295.9,179.1 L293.7,179.9 L291.5,180.5 L289.3,181.4 L287.0,180.7 L284.7,181.5 L282.8,179.6 L280.4,179.7 L278.3,178.8 L275.8,178.2 L274.6,176.1 L272.8,174.4 L272.0,172.2 L270.4,170.2 L271.4,167.5 L270.5,165.3 L271.7,163.1 L271.9,160.9 L273.1,158.9 L273.9,156.9 L275.6,155.5 L276.7,153.4 L278.5,152.0 L280.3,150.7 L282.4,149.6 L284.6,148.8 L287.0,149.4 L289.5,148.0 L291.5,149.9 L294.1,149.6 L295.8,151.6 L297.9,152.7 L298.4,155.4 L300.4,156.7 L300.5,159.1 L302.8,160.7 L302.7,163.0 Z" fill="#f4a3a7" stroke="#e3868c" stroke-width="0.9" stroke-linejoin="round" opacity="1.0"/>
<path d="M294.7,165.3 L293.7,168.5 L291.6,171.0 L288.8,173.0 L285.3,172.6 L282.2,171.3 L280.6,168.4 L279.8,165.3 L280.7,162.3 L282.2,159.2 L285.3,157.9 L288.6,158.4 L292.0,159.1 L293.5,162.2 Z" fill="#d2676f" opacity="1.0"/>
<path d="M457.8,140.0 C457.8,141.1 456.7,142.3 456.1,143.3 C455.5,144.2 454.8,145.1 454.0,145.8 C453.2,146.4 452.1,146.8 451.2,147.2 C450.4,147.6 449.6,147.8 448.8,148.3 C448.0,148.8 447.4,149.5 446.5,150.2 C445.5,150.9 444.3,152.3 443.2,152.5 C442.1,152.7 440.5,152.2 439.9,151.2 C439.3,150.1 440.2,147.1 439.8,146.0 C439.5,144.9 438.9,145.0 437.9,144.6 C436.9,144.1 434.8,144.0 433.9,143.3 C433.1,142.5 432.7,141.1 432.7,140.0 C432.8,138.9 433.8,137.8 434.4,136.9 C434.9,135.9 435.2,134.8 436.0,134.2 C436.8,133.6 438.0,133.3 439.0,133.0 C439.9,132.7 440.8,132.9 441.6,132.5 C442.3,132.0 442.7,131.1 443.6,130.2 C444.5,129.4 445.7,127.4 446.8,127.2 C447.9,126.9 449.5,127.6 450.2,128.6 C450.9,129.6 450.7,131.9 450.9,133.2 C451.1,134.4 450.5,135.3 451.3,135.9 C452.2,136.5 455.0,136.1 456.1,136.7 C457.2,137.4 457.8,138.9 457.8,140.0 Z" fill="#e4e4e4" opacity="1.0"/>
<path d="M449.9,165.0 C449.7,165.9 448.5,166.6 447.9,167.3 C447.3,168.0 446.7,168.2 446.6,169.2 C446.5,170.2 447.5,172.3 447.2,173.4 C447.0,174.4 445.9,175.7 444.9,175.7 C443.9,175.8 442.2,174.5 441.3,173.8 C440.3,173.1 439.9,171.8 439.0,171.7 C438.2,171.5 437.3,172.8 436.4,172.9 C435.4,173.1 434.3,173.0 433.3,172.7 C432.4,172.4 431.1,171.8 430.7,171.0 C430.3,170.2 430.7,168.7 430.8,167.7 C430.8,166.7 430.6,165.8 430.9,165.0 C431.3,164.2 432.6,163.7 433.0,162.9 C433.4,162.2 433.1,161.6 433.1,160.6 C433.1,159.6 432.7,158.0 433.0,156.9 C433.3,155.8 434.0,154.1 435.0,154.0 C435.9,153.8 437.7,155.4 438.7,156.1 C439.7,156.7 440.2,157.7 441.0,158.0 C441.8,158.2 442.5,157.5 443.5,157.3 C444.4,157.2 445.8,157.0 446.7,157.3 C447.6,157.6 448.3,158.5 448.8,159.3 C449.3,160.2 449.3,161.3 449.5,162.2 C449.7,163.2 450.2,164.1 449.9,165.0 Z" fill="#e4e4e4" opacity="1.0"/>
<path d="M458.1,190.0 C458.2,191.1 458.7,192.3 458.4,193.4 C458.2,194.4 457.5,195.6 456.6,196.1 C455.6,196.7 453.8,196.4 452.8,196.7 C451.7,196.9 451.1,196.7 450.4,197.4 C449.7,198.2 449.5,200.2 448.6,201.1 C447.7,202.0 446.2,203.1 445.1,202.9 C444.1,202.8 442.9,201.4 442.3,200.3 C441.7,199.2 442.0,197.3 441.5,196.3 C441.0,195.4 440.4,195.3 439.5,194.8 C438.6,194.3 436.8,194.0 436.0,193.2 C435.3,192.4 435.2,191.1 435.2,190.0 C435.2,188.9 435.5,187.7 436.0,186.8 C436.4,185.8 436.9,184.6 437.8,184.1 C438.8,183.6 440.5,183.9 441.4,183.6 C442.4,183.3 442.9,183.2 443.5,182.4 C444.2,181.6 444.5,179.8 445.4,178.8 C446.3,177.8 447.9,176.2 449.0,176.4 C450.0,176.5 451.1,178.5 451.7,179.8 C452.3,181.0 452.0,182.8 452.4,183.8 C452.8,184.7 453.3,184.9 454.2,185.4 C455.0,185.9 456.9,186.1 457.5,186.9 C458.2,187.7 457.9,188.9 458.1,190.0 Z" fill="#e4e4e4" opacity="1.0"/>
<path d="M461.7,212.0 C462.0,212.9 462.1,214.0 462.0,214.9 C461.8,215.9 461.6,217.1 461.0,217.8 C460.4,218.5 459.3,219.1 458.3,219.3 C457.3,219.4 456.0,218.9 455.1,218.8 C454.2,218.7 453.8,218.2 453.0,218.9 C452.2,219.5 451.5,221.8 450.5,222.5 C449.5,223.3 447.6,223.9 446.8,223.4 C446.0,222.9 445.7,220.7 445.5,219.5 C445.3,218.3 446.1,216.8 445.9,215.9 C445.7,215.1 444.8,214.9 444.3,214.3 C443.8,213.6 443.3,212.9 442.9,212.0 C442.5,211.1 441.9,210.0 441.9,209.0 C442.0,208.1 442.6,207.1 443.2,206.3 C443.8,205.6 444.6,204.7 445.6,204.6 C446.6,204.5 448.2,205.6 449.1,205.7 C450.0,205.8 450.3,205.9 451.0,205.1 C451.7,204.4 452.6,201.9 453.5,201.3 C454.5,200.7 456.1,200.8 456.9,201.4 C457.6,202.0 457.8,203.8 458.2,204.9 C458.5,206.0 458.3,206.9 458.7,207.7 C459.1,208.5 459.9,208.8 460.4,209.5 C460.9,210.3 461.4,211.1 461.7,212.0 Z" fill="#e4e4e4" opacity="1.0"/>
<path d="M479.5,226.0 C480.3,226.9 481.9,228.4 482.1,229.6 C482.3,230.7 481.6,232.2 480.7,232.9 C479.7,233.5 477.5,233.2 476.4,233.4 C475.2,233.5 474.5,233.6 473.6,233.9 C472.8,234.2 472.2,234.9 471.3,235.3 C470.5,235.7 469.5,236.3 468.5,236.6 C467.4,236.9 466.0,237.3 465.0,237.0 C464.0,236.6 463.1,235.5 462.5,234.6 C461.9,233.8 461.2,232.7 461.2,231.6 C461.3,230.6 462.8,229.1 462.7,228.1 C462.6,227.2 461.5,227.0 460.6,226.0 C459.7,225.0 457.4,223.4 457.1,222.2 C456.9,221.0 457.9,219.5 459.1,219.0 C460.2,218.4 462.6,219.0 463.9,219.0 C465.2,218.9 465.9,219.1 466.6,218.6 C467.4,218.1 467.7,216.6 468.6,215.9 C469.4,215.3 470.6,214.9 471.6,214.9 C472.6,214.8 473.7,215.2 474.8,215.6 C475.8,216.0 477.1,216.2 477.8,217.0 C478.4,217.8 478.8,219.3 478.7,220.4 C478.6,221.6 477.1,223.0 477.2,223.9 C477.4,224.8 478.7,225.1 479.5,226.0 Z" fill="#e4e4e4" opacity="1.0"/>
<path d="M504.2,232.0 C504.5,232.9 504.7,233.9 504.6,234.8 C504.5,235.8 504.2,236.7 503.9,237.7 C503.5,238.7 503.4,240.3 502.5,240.7 C501.6,241.0 499.6,240.1 498.5,239.7 C497.4,239.3 496.7,238.1 495.9,238.2 C495.1,238.4 494.7,239.9 493.7,240.7 C492.7,241.5 490.9,243.2 489.9,243.1 C489.0,243.0 488.5,241.0 488.1,239.9 C487.8,238.9 487.9,237.6 487.8,236.6 C487.7,235.7 487.6,235.0 487.4,234.2 C487.2,233.5 486.7,232.8 486.5,232.0 C486.2,231.2 486.0,230.3 486.0,229.3 C485.9,228.4 485.8,227.2 486.1,226.3 C486.4,225.3 486.9,224.0 487.7,223.6 C488.6,223.2 490.2,223.5 491.2,223.7 C492.3,224.0 493.1,225.0 494.0,224.9 C494.8,224.8 495.2,224.1 496.2,223.4 C497.3,222.7 499.2,220.6 500.2,220.6 C501.2,220.7 501.8,222.6 502.2,223.7 C502.6,224.7 502.3,226.2 502.5,227.2 C502.6,228.2 502.8,228.8 503.1,229.6 C503.4,230.4 504.0,231.1 504.2,232.0 Z" fill="#e4e4e4" opacity="1.0"/>
<path d="M525.8,234.0 C526.0,234.7 527.8,235.5 528.2,236.4 C528.6,237.3 528.6,238.6 528.2,239.3 C527.8,240.0 526.5,240.1 525.8,240.7 C525.0,241.2 524.6,242.2 523.9,242.5 C523.1,242.7 522.0,242.7 521.2,242.3 C520.4,241.9 519.9,240.4 519.1,240.2 C518.4,240.0 517.7,241.0 516.7,241.2 C515.8,241.4 514.3,241.9 513.4,241.7 C512.5,241.4 511.4,240.5 511.3,239.6 C511.1,238.7 512.3,237.1 512.7,236.2 C513.0,235.2 513.6,234.8 513.5,234.0 C513.4,233.2 512.2,232.5 512.0,231.7 C511.8,230.8 511.9,229.8 512.3,229.0 C512.6,228.2 513.3,227.5 513.9,227.0 C514.6,226.5 515.6,226.3 516.4,226.1 C517.2,226.0 518.1,226.0 518.9,226.2 C519.6,226.4 520.3,227.2 520.9,227.5 C521.6,227.7 522.0,227.8 522.9,227.6 C523.9,227.4 525.6,226.3 526.6,226.4 C527.6,226.5 529.0,227.2 529.1,228.2 C529.1,229.1 527.4,231.0 526.9,232.0 C526.3,232.9 525.6,233.3 525.8,234.0 Z" fill="#e4e4e4" opacity="1.0"/>
<path d="M551.4,225.0 C551.2,226.0 550.0,226.9 549.3,227.7 C548.7,228.5 548.2,229.3 547.5,229.8 C546.8,230.4 545.9,230.6 545.2,231.0 C544.5,231.4 543.9,231.3 543.3,232.2 C542.7,233.0 542.4,235.3 541.6,236.1 C540.8,237.0 539.1,237.6 538.3,237.2 C537.4,236.7 536.7,234.4 536.3,233.2 C535.8,232.0 536.1,230.7 535.5,230.1 C535.0,229.6 533.8,230.0 532.7,229.7 C531.6,229.3 529.5,229.0 528.9,228.3 C528.4,227.5 529.0,226.0 529.4,225.0 C529.7,224.0 530.5,223.1 531.1,222.4 C531.6,221.6 532.2,221.0 532.8,220.4 C533.4,219.8 534.0,219.3 534.6,218.7 C535.2,218.2 535.7,217.8 536.4,217.0 C537.0,216.2 537.6,214.7 538.4,214.2 C539.3,213.6 540.8,213.1 541.6,213.5 C542.5,214.0 543.4,215.6 543.8,216.7 C544.2,217.8 543.6,219.6 544.1,220.3 C544.6,221.0 545.6,220.4 546.7,220.7 C547.8,220.9 549.8,221.2 550.6,221.9 C551.4,222.6 551.6,224.0 551.4,225.0 Z" fill="#e4e4e4" opacity="1.0"/>
<path d="M570.4,205.0 C570.8,206.0 571.4,207.4 571.1,208.3 C570.8,209.2 569.5,210.1 568.4,210.4 C567.3,210.7 565.3,209.9 564.4,210.1 C563.5,210.2 563.4,210.5 562.9,211.3 C562.4,212.2 562.2,214.5 561.5,215.3 C560.7,216.1 559.3,216.3 558.4,216.1 C557.5,215.9 556.5,214.9 555.8,214.1 C555.2,213.3 555.1,211.9 554.7,211.1 C554.2,210.4 553.7,210.0 553.1,209.4 C552.6,208.8 551.9,208.3 551.3,207.6 C550.7,206.8 549.9,206.0 549.6,205.0 C549.2,204.0 548.9,202.7 549.2,201.8 C549.5,200.9 550.6,200.0 551.5,199.6 C552.5,199.1 554.1,199.5 555.0,199.2 C555.9,199.0 556.4,199.2 557.0,198.3 C557.5,197.5 557.7,195.0 558.4,194.2 C559.2,193.4 560.7,193.0 561.7,193.3 C562.6,193.6 563.5,195.2 564.1,196.1 C564.6,197.1 564.7,198.3 565.2,199.0 C565.8,199.7 566.8,199.7 567.4,200.3 C567.9,200.8 568.1,201.7 568.6,202.5 C569.1,203.3 570.0,204.0 570.4,205.0 Z" fill="#e4e4e4" opacity="1.0"/>
<path d="M586.9,178.0 C586.3,179.1 584.0,179.9 583.1,180.7 C582.2,181.5 581.9,182.0 581.5,182.8 C581.1,183.7 581.2,185.0 580.7,185.7 C580.2,186.5 579.1,186.8 578.3,187.4 C577.5,188.0 576.7,188.8 575.6,189.4 C574.6,190.0 573.2,191.2 572.2,190.9 C571.1,190.5 570.1,188.8 569.6,187.6 C569.1,186.4 569.8,184.3 569.2,183.5 C568.6,182.8 567.3,183.4 566.2,183.0 C565.0,182.7 563.2,182.3 562.2,181.5 C561.3,180.6 560.4,179.1 560.7,178.0 C561.0,176.9 563.0,175.9 564.0,175.1 C564.9,174.3 565.9,173.9 566.5,173.2 C567.1,172.4 567.1,171.3 567.7,170.7 C568.2,170.0 569.2,169.8 570.0,169.2 C570.8,168.6 571.4,167.7 572.4,167.0 C573.4,166.4 574.8,165.0 575.8,165.2 C576.9,165.3 578.0,166.9 578.5,168.1 C579.1,169.3 578.6,171.3 579.1,172.1 C579.5,173.0 579.9,173.1 581.1,173.4 C582.3,173.8 585.5,173.6 586.4,174.3 C587.4,175.1 587.5,176.9 586.9,178.0 Z" fill="#e4e4e4" opacity="1.0"/>
<path d="M579.7,152.0 C579.8,152.9 579.3,153.7 579.2,154.7 C579.1,155.7 579.5,157.0 579.1,157.9 C578.7,158.7 577.7,159.6 576.8,159.8 C575.8,160.1 574.3,159.5 573.3,159.3 C572.4,159.1 571.7,158.0 570.9,158.4 C570.1,158.8 569.6,160.9 568.6,161.7 C567.6,162.4 565.9,163.3 565.0,162.9 C564.2,162.5 563.9,160.4 563.6,159.4 C563.3,158.3 563.4,157.3 563.1,156.4 C562.8,155.6 562.0,155.2 561.7,154.4 C561.4,153.7 561.3,152.9 561.1,152.0 C560.9,151.1 560.4,150.1 560.4,149.2 C560.3,148.2 560.4,147.0 560.8,146.1 C561.3,145.3 562.1,144.3 563.1,144.0 C564.1,143.8 565.7,144.5 566.6,144.7 C567.6,144.8 568.2,145.3 569.0,145.0 C569.8,144.6 570.4,143.1 571.4,142.5 C572.4,141.8 574.1,140.8 575.0,141.1 C575.9,141.4 576.4,143.2 576.7,144.2 C577.1,145.3 576.8,146.6 577.1,147.5 C577.3,148.3 577.9,148.8 578.3,149.6 C578.8,150.3 579.5,151.1 579.7,152.0 Z" fill="#e4e4e4" opacity="1.0"/>
<path d="M564.2,128.0 C564.5,128.8 564.4,129.8 564.2,130.7 C564.1,131.6 563.9,132.5 563.5,133.5 C563.2,134.4 563.1,135.9 562.3,136.4 C561.5,136.9 559.9,136.8 558.9,136.5 C557.8,136.2 556.8,134.9 556.0,134.7 C555.1,134.6 554.8,135.0 553.9,135.6 C553.0,136.1 551.6,137.7 550.5,137.9 C549.3,138.2 547.6,138.0 547.1,137.1 C546.6,136.3 547.3,134.0 547.5,132.8 C547.6,131.7 548.0,130.9 547.8,130.1 C547.7,129.3 546.9,128.8 546.6,128.0 C546.3,127.2 546.1,126.3 546.1,125.4 C546.0,124.4 545.9,123.3 546.2,122.3 C546.4,121.3 546.7,119.8 547.5,119.3 C548.3,118.8 550.0,119.1 551.0,119.3 C552.1,119.5 553.1,120.4 553.9,120.6 C554.8,120.8 555.1,121.1 556.1,120.5 C557.0,120.0 558.7,117.8 559.8,117.5 C560.9,117.3 562.1,118.3 562.6,119.2 C563.1,120.2 562.8,122.0 562.7,123.1 C562.6,124.2 561.9,125.1 562.2,125.9 C562.5,126.7 563.9,127.2 564.2,128.0 Z" fill="#e4e4e4" opacity="1.0"/>
<path d="M538.0,119.0 C537.4,119.8 536.8,120.2 536.6,120.9 C536.4,121.7 537.0,122.6 536.9,123.4 C536.8,124.3 536.4,125.2 535.9,125.8 C535.4,126.4 534.4,126.6 533.7,127.0 C532.9,127.4 532.1,128.2 531.3,128.2 C530.5,128.3 529.5,127.9 528.8,127.3 C528.1,126.7 528.0,125.1 527.4,124.7 C526.8,124.2 526.1,124.7 525.1,124.7 C524.1,124.7 522.2,125.0 521.3,124.6 C520.4,124.1 519.8,122.9 519.9,122.0 C520.1,121.0 521.6,119.8 522.3,119.0 C522.9,118.2 523.7,117.9 523.9,117.2 C524.1,116.5 523.3,115.6 523.3,114.7 C523.3,113.9 523.5,112.7 524.0,112.1 C524.5,111.4 525.5,111.4 526.3,111.0 C527.1,110.5 527.8,109.5 528.6,109.5 C529.4,109.5 530.5,110.2 531.2,110.8 C531.9,111.4 532.1,112.6 532.7,113.1 C533.2,113.6 533.5,113.8 534.5,113.9 C535.4,114.0 537.2,113.4 538.1,113.8 C539.1,114.1 540.3,115.1 540.3,116.0 C540.2,116.9 538.6,118.2 538.0,119.0 Z" fill="#e4e4e4" opacity="1.0"/>
<path d="M513.3,117.0 C513.9,117.8 514.8,119.0 514.8,119.9 C514.8,120.8 514.3,122.0 513.3,122.4 C512.4,122.7 510.2,121.8 509.3,122.0 C508.4,122.1 508.4,122.6 507.9,123.3 C507.4,123.9 507.0,125.4 506.3,125.9 C505.6,126.4 504.5,126.3 503.7,126.2 C502.8,126.2 501.9,125.9 501.2,125.4 C500.4,125.0 499.6,124.4 499.2,123.7 C498.8,122.9 498.8,121.8 498.7,121.0 C498.6,120.2 499.1,119.5 498.8,118.8 C498.5,118.2 497.7,117.8 497.0,117.0 C496.3,116.2 494.9,114.9 494.8,114.0 C494.7,113.1 495.4,111.8 496.3,111.4 C497.2,111.0 499.3,111.6 500.4,111.6 C501.4,111.7 501.9,112.0 502.5,111.5 C503.1,111.0 503.1,109.4 503.8,108.6 C504.5,107.9 505.6,107.1 506.4,107.1 C507.3,107.1 508.2,107.9 508.9,108.4 C509.6,109.0 510.4,109.5 510.8,110.3 C511.3,111.0 511.5,112.0 511.6,112.8 C511.7,113.6 511.2,114.4 511.5,115.1 C511.8,115.8 512.8,116.2 513.3,117.0 Z" fill="#e4e4e4" opacity="1.0"/>
<path d="M488.7,120.0 C488.9,120.8 488.0,122.1 487.2,122.7 C486.3,123.3 484.6,123.4 483.8,123.7 C482.9,124.0 482.2,123.7 481.9,124.5 C481.6,125.3 482.3,127.6 481.9,128.5 C481.5,129.4 480.3,130.0 479.4,130.0 C478.6,130.1 477.5,129.2 476.7,128.7 C476.0,128.2 475.4,127.6 474.7,127.1 C474.1,126.7 473.3,126.6 472.8,126.0 C472.3,125.5 472.2,124.6 471.8,124.0 C471.4,123.4 470.9,122.9 470.2,122.3 C469.6,121.6 468.2,120.9 467.8,120.0 C467.5,119.1 467.4,117.7 468.1,117.1 C468.8,116.5 471.1,116.5 472.0,116.2 C473.0,115.8 473.5,115.9 473.9,115.2 C474.3,114.6 474.0,113.2 474.5,112.3 C474.9,111.4 475.7,110.2 476.5,109.9 C477.4,109.6 478.5,110.1 479.4,110.6 C480.2,111.1 480.8,112.0 481.4,112.6 C482.0,113.3 482.5,113.8 482.9,114.3 C483.4,114.9 483.6,115.5 484.2,116.0 C484.7,116.6 485.4,116.9 486.2,117.6 C486.9,118.3 488.6,119.2 488.7,120.0 Z" fill="#e4e4e4" opacity="1.0"/>
<path d="M465.8,128.0 C466.1,128.7 466.6,129.7 466.6,130.5 C466.6,131.4 466.4,132.4 466.0,133.1 C465.6,133.9 464.9,134.7 464.2,135.1 C463.4,135.6 462.4,135.9 461.5,135.8 C460.7,135.7 459.7,134.6 459.0,134.6 C458.2,134.6 457.8,135.1 456.9,135.6 C456.0,136.1 454.6,137.6 453.6,137.6 C452.7,137.7 451.6,136.7 451.2,135.8 C450.9,134.9 451.6,133.0 451.7,132.0 C451.9,131.0 452.5,130.4 452.2,129.7 C452.0,129.0 450.9,128.7 450.3,128.0 C449.7,127.3 448.7,126.1 448.7,125.3 C448.6,124.4 449.5,123.6 450.0,122.8 C450.5,122.1 451.0,121.2 451.7,120.8 C452.5,120.4 453.7,120.3 454.6,120.5 C455.4,120.6 456.3,121.4 457.1,121.5 C457.8,121.5 458.1,121.4 459.0,120.9 C459.9,120.3 461.5,118.3 462.5,118.2 C463.4,118.1 464.4,119.2 464.8,120.2 C465.1,121.1 464.6,122.8 464.5,123.8 C464.5,124.8 464.2,125.4 464.4,126.1 C464.6,126.8 465.4,127.3 465.8,128.0 Z" fill="#e4e4e4" opacity="1.0"/>
<path d="M441.0,150.0 C440.9,150.5 441.0,150.8 441.3,151.5 C441.6,152.3 442.8,153.6 442.8,154.4 C442.7,155.1 441.8,155.8 441.1,155.8 C440.3,155.9 438.9,155.0 438.2,154.8 C437.5,154.7 437.2,154.6 436.7,154.8 C436.2,155.0 435.7,155.8 435.1,156.0 C434.5,156.2 433.8,156.4 433.1,156.3 C432.5,156.2 431.9,155.7 431.4,155.3 C430.9,154.9 430.2,154.5 430.0,153.8 C429.8,153.2 430.1,152.3 430.3,151.7 C430.5,151.0 431.2,150.5 431.2,150.0 C431.3,149.5 430.9,149.1 430.5,148.4 C430.2,147.7 429.0,146.3 429.1,145.6 C429.3,144.9 430.3,144.4 431.1,144.4 C431.9,144.4 433.2,145.3 433.9,145.4 C434.6,145.6 434.8,145.4 435.3,145.1 C435.8,144.8 436.3,144.1 436.9,143.8 C437.5,143.5 438.4,143.3 439.0,143.4 C439.6,143.6 440.0,144.3 440.5,144.8 C441.0,145.3 441.7,145.6 441.9,146.2 C442.0,146.8 441.7,147.7 441.6,148.4 C441.4,149.0 441.0,149.5 441.0,150.0 Z" fill="#e4e4e4" opacity="1.0"/>
<path d="M446.0,205.0 C446.1,205.6 445.3,206.5 444.6,206.9 C443.9,207.4 442.7,207.4 442.1,207.6 C441.5,207.9 441.3,208.0 441.1,208.6 C440.9,209.1 441.1,210.5 440.8,211.1 C440.4,211.7 439.7,212.1 439.0,212.2 C438.4,212.3 437.7,211.8 437.0,211.6 C436.4,211.4 435.6,211.5 435.2,211.1 C434.8,210.7 434.8,209.5 434.5,209.0 C434.3,208.5 433.9,208.3 433.5,207.9 C433.1,207.5 432.5,207.3 432.0,206.8 C431.4,206.3 430.3,205.6 430.2,205.0 C430.0,204.4 430.6,203.5 431.2,203.0 C431.9,202.6 433.3,202.6 433.9,202.4 C434.5,202.1 434.8,202.1 435.0,201.5 C435.2,200.9 434.8,199.4 435.2,198.8 C435.5,198.2 436.3,197.9 437.0,197.8 C437.6,197.7 438.3,198.0 439.0,198.2 C439.6,198.4 440.2,198.6 440.7,199.0 C441.2,199.4 441.6,200.0 441.9,200.5 C442.1,201.1 441.8,201.9 442.2,202.3 C442.6,202.8 443.5,202.8 444.1,203.2 C444.8,203.6 445.9,204.4 446.0,205.0 Z" fill="#e4e4e4" opacity="1.0"/>
<path d="M467.3,238.0 C467.3,238.5 467.3,239.0 467.4,239.6 C467.4,240.2 467.5,240.8 467.4,241.5 C467.3,242.2 467.2,243.0 466.9,243.6 C466.5,244.2 465.9,245.1 465.2,245.0 C464.5,244.9 463.4,243.7 462.8,243.3 C462.1,242.9 461.9,242.4 461.4,242.5 C460.8,242.6 460.0,243.7 459.3,244.0 C458.5,244.2 457.3,244.4 456.8,244.0 C456.3,243.6 456.3,242.4 456.2,241.7 C456.1,241.0 456.3,240.3 456.3,239.7 C456.3,239.1 456.2,238.5 456.2,238.0 C456.3,237.5 456.4,236.9 456.5,236.4 C456.7,235.9 457.0,235.5 457.1,234.8 C457.2,234.2 456.9,233.0 457.2,232.5 C457.5,231.9 458.4,231.5 459.0,231.5 C459.7,231.5 460.6,232.2 461.2,232.5 C461.8,232.8 462.1,233.2 462.7,233.2 C463.3,233.1 463.9,232.4 464.7,232.2 C465.4,232.0 466.8,231.5 467.3,231.9 C467.7,232.3 467.4,233.7 467.5,234.5 C467.6,235.2 467.8,235.7 467.8,236.3 C467.7,236.9 467.4,237.5 467.3,238.0 Z" fill="#e4e4e4" opacity="1.0"/>
<path d="M581.5,200.0 C581.9,200.6 582.1,201.4 582.0,202.1 C581.9,202.7 581.6,203.4 581.1,203.9 C580.7,204.4 579.9,204.7 579.3,205.0 C578.7,205.2 578.0,205.4 577.4,205.3 C576.8,205.3 576.2,204.6 575.7,204.7 C575.1,204.8 574.9,205.3 574.2,205.7 C573.5,206.2 572.3,207.4 571.6,207.4 C570.9,207.5 569.9,206.8 569.8,206.1 C569.6,205.3 570.6,203.6 570.7,202.8 C570.7,202.0 570.6,201.9 570.3,201.4 C570.0,200.9 569.3,200.6 568.9,200.0 C568.5,199.4 567.9,198.5 568.0,197.9 C568.0,197.3 568.8,196.8 569.3,196.3 C569.7,195.9 570.3,195.5 570.9,195.2 C571.4,194.9 572.0,194.8 572.6,194.7 C573.1,194.6 573.7,194.9 574.3,194.8 C574.8,194.7 575.2,194.4 575.9,194.1 C576.5,193.8 577.5,192.9 578.2,193.0 C578.9,193.1 579.7,193.7 579.8,194.4 C580.0,195.2 579.2,196.6 579.2,197.3 C579.2,198.0 579.4,198.1 579.8,198.6 C580.2,199.0 581.2,199.4 581.5,200.0 Z" fill="#e4e4e4" opacity="1.0"/>
<path d="M589.1,168.0 C588.8,168.6 587.6,169.1 587.1,169.5 C586.6,170.0 586.2,170.0 586.1,170.6 C586.0,171.3 586.8,172.6 586.7,173.4 C586.5,174.1 585.9,174.9 585.3,175.2 C584.7,175.4 583.6,175.2 583.0,174.8 C582.3,174.4 581.9,173.0 581.3,172.7 C580.8,172.4 580.4,172.8 579.8,172.8 C579.2,172.8 578.4,173.0 577.8,172.8 C577.2,172.7 576.6,172.2 576.1,171.8 C575.6,171.3 575.1,170.7 574.9,170.1 C574.7,169.5 574.7,168.6 575.1,168.0 C575.4,167.4 576.6,167.0 577.1,166.6 C577.6,166.1 578.1,166.2 578.2,165.6 C578.3,165.0 577.6,163.8 577.7,163.0 C577.7,162.2 578.1,161.0 578.7,160.8 C579.3,160.5 580.4,161.0 581.0,161.4 C581.7,161.8 582.2,162.8 582.7,163.1 C583.2,163.4 583.6,163.3 584.1,163.3 C584.7,163.3 585.5,163.1 586.1,163.2 C586.8,163.4 587.5,163.7 588.0,164.2 C588.5,164.6 588.7,165.3 588.9,166.0 C589.1,166.6 589.4,167.4 589.1,168.0 Z" fill="#e4e4e4" opacity="1.0"/>
<path d="M554.6,118.0 C554.8,118.6 555.2,119.4 555.1,120.1 C555.0,120.7 554.6,121.5 554.1,121.9 C553.5,122.3 552.4,122.3 551.8,122.3 C551.1,122.4 550.5,122.2 550.0,122.5 C549.6,122.7 549.4,123.2 548.8,123.8 C548.3,124.5 547.5,126.1 546.8,126.2 C546.2,126.4 545.4,125.3 545.0,124.6 C544.6,123.9 544.7,122.7 544.4,122.1 C544.1,121.5 543.7,121.4 543.3,121.0 C542.9,120.6 542.2,120.3 541.8,119.8 C541.5,119.3 541.4,118.6 541.3,118.0 C541.1,117.4 540.8,116.6 541.0,115.9 C541.2,115.3 541.8,114.7 542.3,114.3 C542.8,114.0 543.7,113.8 544.3,113.7 C544.9,113.6 545.5,113.9 546.0,113.6 C546.5,113.3 546.6,112.4 547.1,111.8 C547.6,111.2 548.5,110.1 549.1,110.1 C549.8,110.0 550.6,110.9 550.9,111.5 C551.3,112.2 551.2,113.4 551.4,114.0 C551.7,114.7 552.0,114.8 552.3,115.2 C552.7,115.6 553.3,115.9 553.7,116.3 C554.0,116.8 554.3,117.4 554.6,118.0 Z" fill="#e4e4e4" opacity="1.0"/>
<path d="M579.6,221.7 C580.1,222.3 579.6,223.3 579.3,224.0 C579.0,224.6 578.2,225.1 577.6,225.5 C577.0,225.8 576.1,225.9 575.5,226.1 C574.9,226.3 574.5,226.5 574.0,226.7 C573.6,227.0 573.1,227.2 572.6,227.5 C572.1,227.8 571.5,228.2 570.8,228.5 C570.1,228.7 569.0,229.3 568.4,229.0 C567.9,228.8 567.4,227.8 567.3,227.0 C567.2,226.2 567.9,224.9 567.9,224.3 C567.8,223.6 567.7,223.6 567.0,223.1 C566.3,222.7 564.3,222.4 563.8,221.7 C563.3,221.1 563.7,220.1 564.1,219.5 C564.5,218.9 565.4,218.4 566.0,218.1 C566.7,217.7 567.4,217.6 568.0,217.4 C568.6,217.1 569.0,216.9 569.5,216.7 C570.0,216.5 570.4,216.3 570.9,216.0 C571.5,215.6 572.1,214.9 572.8,214.6 C573.5,214.3 574.6,213.8 575.2,214.1 C575.9,214.4 576.4,215.4 576.5,216.3 C576.5,217.2 575.4,218.7 575.4,219.4 C575.4,220.1 575.8,220.0 576.5,220.4 C577.2,220.8 579.2,221.1 579.6,221.7 Z" fill="#ebebeb" opacity="1.0"/>
<path d="M576.9,229.7 C577.2,230.4 576.9,231.4 576.6,232.1 C576.3,232.8 575.6,233.4 575.0,233.9 C574.5,234.5 573.8,235.0 573.2,235.2 C572.5,235.5 571.7,235.3 571.0,235.5 C570.4,235.7 570.0,235.9 569.3,236.4 C568.7,236.9 568.0,237.9 567.1,238.3 C566.3,238.7 564.8,239.4 564.2,238.9 C563.6,238.4 563.5,236.4 563.5,235.3 C563.5,234.2 564.6,232.9 564.3,232.3 C564.0,231.7 562.7,232.0 561.8,231.6 C561.0,231.1 559.7,230.4 559.4,229.7 C559.1,228.9 559.5,227.9 559.9,227.2 C560.4,226.5 561.5,226.2 562.1,225.7 C562.7,225.1 563.0,224.4 563.6,224.1 C564.2,223.9 565.2,224.2 565.8,224.1 C566.5,224.0 566.8,223.8 567.5,223.4 C568.1,222.9 568.8,221.6 569.6,221.2 C570.4,220.8 571.8,220.4 572.4,220.9 C572.9,221.4 572.9,223.4 573.0,224.4 C573.1,225.3 572.6,226.2 572.9,226.7 C573.2,227.3 574.3,227.2 575.0,227.7 C575.7,228.2 576.7,228.9 576.9,229.7 Z" fill="#ebebeb" opacity="1.0"/>
<path d="M574.9,226.4 C574.8,226.9 575.2,227.0 575.5,227.7 C575.9,228.3 576.9,229.4 577.0,230.0 C577.0,230.7 576.4,231.4 575.8,231.5 C575.1,231.6 573.9,230.8 573.3,230.7 C572.7,230.6 572.4,230.8 572.0,230.8 C571.5,230.9 571.2,230.9 570.7,231.0 C570.2,231.0 569.6,231.3 569.1,231.3 C568.6,231.2 568.1,230.9 567.6,230.7 C567.1,230.5 566.3,230.3 566.1,229.8 C565.9,229.3 566.2,228.4 566.4,227.9 C566.6,227.3 567.4,226.9 567.5,226.4 C567.6,226.0 567.3,225.7 567.0,225.1 C566.6,224.5 565.6,223.3 565.6,222.7 C565.6,222.1 566.6,221.7 567.2,221.6 C567.8,221.6 568.9,222.2 569.5,222.3 C570.1,222.4 570.3,222.4 570.7,222.2 C571.2,222.1 571.6,221.6 572.1,221.5 C572.5,221.3 573.1,221.3 573.6,221.5 C574.1,221.6 574.5,221.9 575.0,222.2 C575.5,222.5 576.3,222.7 576.5,223.1 C576.6,223.6 576.3,224.5 576.1,225.0 C575.8,225.6 575.0,226.0 574.9,226.4 Z" fill="#ebebeb" opacity="1.0"/>
<path d="M559.0,227.0 C559.4,227.6 560.0,228.4 560.0,229.0 C559.9,229.7 559.4,230.5 558.7,230.7 C558.0,230.9 556.5,230.2 555.8,230.3 C555.2,230.4 555.2,230.7 554.9,231.2 C554.6,231.7 554.4,232.9 553.9,233.4 C553.4,233.9 552.5,234.2 551.9,234.1 C551.4,234.0 550.8,233.3 550.3,232.8 C549.9,232.2 549.7,231.6 549.4,231.1 C549.2,230.6 549.1,230.1 548.9,229.6 C548.6,229.2 548.3,228.9 548.1,228.4 C547.8,228.0 547.7,227.6 547.3,227.0 C546.9,226.4 545.8,225.5 545.7,224.9 C545.7,224.2 546.4,223.4 547.1,223.2 C547.9,223.1 549.5,223.8 550.2,223.8 C550.9,223.8 550.9,223.7 551.2,223.2 C551.5,222.6 551.6,221.2 552.1,220.7 C552.5,220.2 553.4,220.1 554.0,220.2 C554.5,220.3 555.2,220.8 555.6,221.2 C556.0,221.7 556.3,222.4 556.5,222.9 C556.8,223.4 556.9,223.9 557.1,224.4 C557.3,224.8 557.4,225.2 557.7,225.6 C558.0,226.0 558.6,226.4 559.0,227.0 Z" fill="#ebebeb" opacity="1.0"/>
<path d="M569.9,227.3 C569.8,227.8 568.9,228.3 568.4,228.7 C567.9,229.0 567.1,228.9 566.8,229.2 C566.5,229.5 566.7,229.9 566.6,230.5 C566.6,231.2 566.9,232.7 566.5,233.2 C566.2,233.7 565.3,233.5 564.7,233.3 C564.2,233.1 563.6,232.6 563.2,232.1 C562.8,231.7 562.7,231.0 562.3,230.8 C561.9,230.5 561.4,230.8 561.0,230.7 C560.5,230.6 559.9,230.4 559.5,230.2 C559.0,229.9 558.5,229.5 558.2,229.0 C557.9,228.5 557.5,227.8 557.6,227.3 C557.8,226.8 558.3,226.2 558.9,225.9 C559.5,225.6 560.7,225.8 561.1,225.5 C561.4,225.2 561.1,224.8 561.1,224.2 C561.2,223.5 561.0,222.2 561.3,221.7 C561.6,221.2 562.5,221.1 563.0,221.3 C563.5,221.5 564.1,222.6 564.5,223.0 C564.9,223.4 565.1,223.6 565.5,223.7 C565.9,223.9 566.5,223.7 566.9,223.8 C567.3,224.0 567.7,224.3 568.1,224.6 C568.5,224.9 569.1,225.2 569.4,225.7 C569.7,226.1 570.1,226.8 569.9,227.3 Z" fill="#ebebeb" opacity="1.0"/>
<path d="M571.3,223.5 C570.9,224.1 570.5,224.5 570.2,225.1 C570.0,225.6 570.3,226.3 570.1,226.8 C569.8,227.3 569.1,227.4 568.8,228.0 C568.4,228.6 568.5,229.7 568.0,230.3 C567.5,230.9 566.7,231.6 566.0,231.6 C565.4,231.5 564.5,230.6 563.9,230.0 C563.4,229.4 563.3,228.3 562.9,227.9 C562.5,227.4 562.4,227.3 561.6,227.3 C560.8,227.3 558.8,228.2 558.0,227.9 C557.2,227.7 556.7,226.6 556.8,225.9 C557.0,225.1 558.3,224.2 558.7,223.5 C559.1,222.8 558.9,222.3 559.2,221.8 C559.4,221.3 559.8,220.9 560.0,220.4 C560.3,219.8 560.3,219.0 560.6,218.5 C560.9,218.0 561.6,217.9 562.1,217.4 C562.6,216.9 563.1,215.7 563.7,215.6 C564.4,215.5 565.4,215.9 565.9,216.6 C566.4,217.2 566.3,218.9 566.7,219.4 C567.1,219.9 567.5,219.6 568.2,219.6 C569.0,219.6 570.4,219.2 571.2,219.4 C572.0,219.7 572.8,220.5 572.9,221.2 C572.9,221.8 571.8,222.8 571.3,223.5 Z" fill="#ebebeb" opacity="1.0"/>
<path d="M574.3,221.7 C574.8,222.4 574.5,223.4 574.3,224.1 C574.1,224.8 573.4,225.4 572.9,226.0 C572.3,226.5 571.8,227.2 571.1,227.4 C570.4,227.5 569.3,227.0 568.6,226.9 C567.9,226.9 567.6,226.7 567.0,227.1 C566.5,227.5 566.0,228.8 565.2,229.3 C564.4,229.9 563.0,230.7 562.4,230.3 C561.8,229.9 561.6,228.1 561.6,227.2 C561.5,226.2 562.0,225.2 561.9,224.6 C561.8,223.9 561.5,223.8 560.9,223.3 C560.3,222.9 558.7,222.4 558.3,221.7 C557.9,221.1 558.1,220.1 558.4,219.4 C558.7,218.8 559.5,218.3 560.1,217.8 C560.6,217.3 561.1,216.7 561.7,216.5 C562.3,216.2 563.1,216.2 563.7,216.2 C564.4,216.1 564.9,216.5 565.5,216.2 C566.1,215.9 566.5,214.9 567.3,214.3 C568.1,213.8 569.7,212.7 570.3,213.0 C570.9,213.3 571.0,215.2 571.0,216.2 C571.1,217.3 570.3,218.5 570.4,219.1 C570.4,219.8 570.9,219.8 571.5,220.2 C572.2,220.6 573.8,221.1 574.3,221.7 Z" fill="#ebebeb" opacity="1.0"/>
<path d="M579.1,222.1 C578.5,222.8 577.6,223.0 577.4,223.5 C577.2,224.1 577.9,224.8 577.9,225.5 C577.9,226.3 578.0,227.3 577.6,227.9 C577.3,228.5 576.4,228.7 575.7,229.1 C575.1,229.4 574.4,230.1 573.7,230.1 C573.0,230.2 572.1,229.8 571.6,229.2 C571.0,228.6 571.1,226.9 570.6,226.4 C570.1,226.0 569.6,226.5 568.7,226.6 C567.9,226.6 566.2,227.0 565.5,226.7 C564.7,226.4 564.2,225.3 564.2,224.6 C564.3,223.8 565.4,222.8 565.9,222.1 C566.5,221.5 567.5,221.3 567.7,220.7 C567.9,220.1 567.1,219.3 567.1,218.6 C567.1,217.9 567.4,217.1 567.8,216.6 C568.2,216.1 568.9,215.7 569.5,215.3 C570.1,215.0 570.8,214.5 571.5,214.6 C572.2,214.6 572.9,215.3 573.5,215.7 C574.0,216.2 574.3,216.9 574.8,217.2 C575.3,217.5 575.8,217.4 576.6,217.5 C577.4,217.5 579.0,217.1 579.8,217.5 C580.6,217.8 581.4,218.8 581.3,219.6 C581.2,220.3 579.8,221.4 579.1,222.1 Z" fill="#ebebeb" opacity="1.0"/>
<path d="M574.3,223.5 C574.3,224.2 574.8,225.1 574.5,225.7 C574.1,226.2 572.9,226.6 572.2,226.9 C571.5,227.1 570.8,227.0 570.4,227.4 C569.9,227.9 570.1,228.8 569.7,229.6 C569.4,230.4 568.9,231.8 568.2,232.2 C567.5,232.6 566.4,232.5 565.7,232.0 C565.1,231.5 564.8,229.8 564.4,229.1 C564.0,228.3 564.0,227.9 563.4,227.5 C562.9,227.2 561.8,227.5 561.2,227.2 C560.6,226.8 560.1,226.2 559.7,225.6 C559.3,225.0 558.8,224.2 558.8,223.5 C558.8,222.8 559.4,222.0 559.8,221.4 C560.2,220.8 560.6,220.1 561.3,219.8 C561.9,219.5 563.0,219.9 563.5,219.5 C564.1,219.2 564.0,218.7 564.4,217.9 C564.7,217.0 565.1,215.1 565.7,214.7 C566.3,214.2 567.5,214.6 568.1,215.2 C568.7,215.8 569.0,217.4 569.4,218.1 C569.7,218.9 569.7,219.4 570.2,219.7 C570.8,219.9 572.1,219.4 572.8,219.7 C573.5,220.0 574.2,220.6 574.5,221.3 C574.7,221.9 574.3,222.7 574.3,223.5 Z" fill="#ebebeb" opacity="1.0"/>
<path d="M570.5,235.9 C570.3,236.5 569.7,236.9 569.4,237.4 C569.1,237.9 568.9,238.3 568.8,238.9 C568.6,239.4 568.5,240.0 568.3,240.8 C568.1,241.5 568.0,242.9 567.5,243.3 C566.9,243.7 565.8,243.6 565.1,243.2 C564.4,242.8 563.8,241.4 563.3,240.9 C562.8,240.4 562.7,240.2 562.1,240.2 C561.4,240.3 560.2,241.2 559.5,241.2 C558.7,241.1 558.0,240.5 557.7,240.0 C557.4,239.4 557.5,238.5 557.6,237.8 C557.7,237.1 557.9,236.4 558.1,235.9 C558.4,235.3 558.7,234.8 558.9,234.4 C559.2,233.9 559.6,233.7 559.7,233.1 C559.8,232.5 559.5,231.6 559.6,230.8 C559.8,230.0 560.0,228.6 560.6,228.2 C561.1,227.8 562.3,228.1 563.0,228.6 C563.7,229.1 564.3,230.5 564.8,231.0 C565.3,231.5 565.4,231.6 566.0,231.6 C566.7,231.5 567.8,230.6 568.6,230.6 C569.4,230.6 570.5,231.0 570.8,231.5 C571.2,232.1 570.7,233.2 570.6,233.9 C570.6,234.7 570.7,235.3 570.5,235.9 Z" fill="#ebebeb" opacity="1.0"/>
<path d="M569.3,224.7 C568.9,225.2 568.3,225.6 568.0,226.0 C567.7,226.4 567.6,226.8 567.3,227.1 C567.1,227.5 566.8,227.7 566.5,228.1 C566.2,228.5 566.1,229.1 565.8,229.6 C565.4,230.0 565.0,230.8 564.5,230.9 C563.9,231.1 563.2,230.9 562.7,230.4 C562.3,230.0 562.2,228.8 561.9,228.4 C561.6,227.9 561.6,227.7 561.0,227.6 C560.4,227.6 559.0,228.2 558.4,228.0 C557.8,227.8 557.3,227.1 557.3,226.5 C557.3,226.0 557.9,225.2 558.3,224.7 C558.6,224.2 559.1,223.9 559.3,223.5 C559.5,223.0 559.4,222.5 559.6,222.2 C559.8,221.8 560.3,221.7 560.6,221.2 C560.8,220.8 560.9,220.1 561.2,219.6 C561.5,219.0 562.1,218.3 562.6,218.1 C563.2,217.9 564.0,217.9 564.5,218.4 C564.9,218.9 564.9,220.6 565.2,221.2 C565.5,221.7 565.7,221.5 566.3,221.6 C566.8,221.6 567.8,221.4 568.4,221.6 C569.1,221.8 570.1,222.2 570.2,222.7 C570.3,223.3 569.6,224.2 569.3,224.7 Z" fill="#ebebeb" opacity="1.0"/>
<path d="M570.5,221.8 C570.2,222.4 570.7,222.6 570.8,223.2 C571.0,223.7 571.3,224.5 571.2,225.1 C571.2,225.7 570.8,226.3 570.4,226.8 C570.1,227.3 569.5,227.8 568.9,228.1 C568.4,228.3 567.6,228.3 567.0,228.2 C566.4,228.0 565.7,227.7 565.3,227.3 C564.8,226.9 564.7,226.0 564.2,225.8 C563.8,225.6 563.3,225.9 562.5,226.0 C561.6,226.0 559.9,226.5 559.4,226.1 C558.9,225.7 559.0,224.5 559.3,223.8 C559.6,223.0 560.7,222.3 561.1,221.8 C561.4,221.2 561.4,220.9 561.3,220.4 C561.3,219.8 560.9,219.1 560.9,218.5 C561.0,217.9 561.4,217.3 561.7,216.8 C562.1,216.3 562.6,215.7 563.2,215.5 C563.8,215.3 564.6,215.3 565.2,215.5 C565.8,215.7 566.3,216.4 566.8,216.8 C567.3,217.1 567.4,217.7 567.9,217.8 C568.4,217.9 569.1,217.4 570.0,217.3 C570.8,217.2 572.4,217.0 572.9,217.4 C573.4,217.8 573.3,219.0 572.9,219.8 C572.5,220.5 570.9,221.2 570.5,221.8 Z" fill="#ebebeb" opacity="1.0"/>
<path d="M558.8,222.1 C558.7,222.6 558.0,223.2 557.6,223.6 C557.1,223.9 556.5,224.1 556.1,224.4 C555.8,224.6 555.5,224.7 555.4,225.3 C555.2,225.8 555.5,227.1 555.2,227.7 C554.9,228.4 554.2,229.3 553.7,229.2 C553.1,229.2 552.3,228.0 551.9,227.5 C551.4,226.9 551.4,226.0 551.0,225.7 C550.6,225.5 549.9,226.0 549.3,225.9 C548.8,225.8 548.3,225.5 547.9,225.2 C547.5,224.8 547.4,224.2 547.2,223.7 C547.0,223.2 546.6,222.6 546.7,222.1 C546.8,221.6 547.3,221.1 547.7,220.7 C548.1,220.3 548.7,220.1 549.0,219.8 C549.4,219.5 549.7,219.6 549.9,219.0 C550.1,218.4 549.7,216.8 550.0,216.2 C550.3,215.7 551.1,215.3 551.7,215.5 C552.2,215.7 552.9,216.8 553.3,217.3 C553.8,217.8 553.8,218.4 554.2,218.6 C554.7,218.8 555.3,218.3 555.9,218.4 C556.4,218.5 557.0,218.7 557.5,219.0 C557.9,219.4 558.2,219.9 558.4,220.4 C558.6,220.9 558.9,221.6 558.8,222.1 Z" fill="#ebebeb" opacity="1.0"/>
<path d="M570.5,223.7 C570.8,224.4 570.5,225.4 569.9,226.0 C569.4,226.5 567.9,226.6 567.2,226.9 C566.5,227.2 566.2,227.3 565.8,227.7 C565.4,228.2 565.3,228.9 564.9,229.4 C564.5,229.9 563.9,230.3 563.3,230.5 C562.7,230.8 562.0,231.0 561.3,231.0 C560.6,231.0 559.6,231.2 559.1,230.8 C558.6,230.4 558.4,229.2 558.3,228.4 C558.2,227.7 558.8,226.7 558.5,226.2 C558.1,225.7 557.0,225.9 556.2,225.5 C555.4,225.1 553.8,224.4 553.5,223.7 C553.2,223.0 553.9,222.0 554.5,221.4 C555.2,220.9 556.7,220.8 557.4,220.6 C558.1,220.3 558.5,220.2 558.9,219.7 C559.2,219.3 559.2,218.3 559.6,217.8 C560.0,217.3 560.7,217.0 561.3,216.8 C562.0,216.5 562.7,216.4 563.4,216.4 C564.1,216.4 565.0,216.3 565.5,216.8 C566.0,217.2 566.3,218.3 566.4,219.1 C566.5,219.8 565.8,220.8 566.1,221.3 C566.4,221.8 567.4,221.6 568.1,222.0 C568.9,222.4 570.3,223.1 570.5,223.7 Z" fill="#ebebeb" opacity="1.0"/>
<path d="M566.2,228.8 C565.8,229.2 564.7,229.4 564.4,229.8 C564.1,230.1 564.2,230.3 564.2,230.9 C564.3,231.5 564.8,232.6 564.7,233.2 C564.6,233.7 563.9,234.2 563.4,234.3 C562.9,234.4 562.1,233.7 561.6,233.6 C561.0,233.4 560.7,233.4 560.2,233.3 C559.8,233.2 559.3,233.3 558.9,233.1 C558.5,233.0 558.1,232.7 557.7,232.4 C557.3,232.2 556.9,232.0 556.4,231.6 C555.9,231.3 555.0,231.0 554.8,230.5 C554.6,230.1 554.9,229.2 555.3,228.8 C555.7,228.3 556.8,228.0 557.2,227.7 C557.7,227.4 557.8,227.4 557.8,226.7 C557.7,226.1 556.7,224.7 556.8,224.0 C556.8,223.3 557.6,222.8 558.2,222.8 C558.7,222.7 559.6,223.5 560.2,223.7 C560.7,223.9 561.1,224.0 561.5,224.2 C562.0,224.4 562.3,224.7 562.7,224.9 C563.1,225.0 563.4,225.2 563.9,225.3 C564.4,225.5 565.1,225.5 565.6,225.7 C566.1,226.0 566.8,226.5 566.9,227.0 C567.0,227.5 566.6,228.3 566.2,228.8 Z" fill="#ebebeb" opacity="1.0"/>
<path d="M565.1,218.4 C565.8,219.1 567.3,220.4 567.3,221.1 C567.2,221.9 565.8,222.7 564.8,222.9 C563.9,223.1 562.2,222.4 561.4,222.5 C560.6,222.6 560.7,223.1 560.3,223.7 C559.9,224.4 559.6,225.8 559.0,226.4 C558.4,227.0 557.3,227.2 556.6,227.2 C555.8,227.1 555.0,226.5 554.3,226.1 C553.6,225.7 552.6,225.4 552.3,224.7 C552.0,224.0 552.3,222.7 552.4,221.9 C552.4,221.1 553.1,220.5 552.7,219.9 C552.3,219.3 550.7,219.1 549.9,218.4 C549.1,217.6 547.8,216.2 547.9,215.4 C548.0,214.7 549.5,213.9 550.5,213.7 C551.6,213.5 553.4,214.3 554.2,214.1 C555.0,214.0 554.9,213.6 555.3,212.9 C555.8,212.3 556.1,210.9 556.7,210.4 C557.3,209.9 558.3,209.9 559.0,209.9 C559.8,210.0 560.6,210.4 561.3,210.8 C562.0,211.1 562.8,211.5 563.2,212.1 C563.6,212.7 563.7,213.8 563.7,214.6 C563.7,215.4 563.0,216.1 563.3,216.8 C563.5,217.4 564.5,217.6 565.1,218.4 Z" fill="#ebebeb" opacity="1.0"/>
<path d="M568.8,225.7 C569.0,226.3 569.7,226.8 570.1,227.6 C570.5,228.4 571.3,229.8 571.1,230.4 C570.8,231.1 569.7,231.6 568.8,231.6 C567.9,231.6 566.5,230.3 565.8,230.3 C565.0,230.2 565.0,230.9 564.5,231.3 C563.9,231.7 563.3,232.4 562.6,232.7 C562.0,232.9 561.0,233.1 560.4,232.9 C559.7,232.6 559.3,231.8 558.8,231.3 C558.3,230.8 557.5,230.4 557.3,229.7 C557.2,229.1 557.7,228.0 557.9,227.4 C558.2,226.7 559.1,226.3 559.0,225.7 C558.8,225.1 557.5,224.6 557.0,223.7 C556.5,222.9 555.6,221.3 555.8,220.7 C556.1,220.0 557.6,219.7 558.5,219.7 C559.4,219.7 560.7,220.6 561.4,220.7 C562.1,220.9 562.4,220.8 562.9,220.5 C563.4,220.2 564.0,219.2 564.6,218.9 C565.3,218.6 566.1,218.7 566.7,218.9 C567.4,219.1 568.1,219.5 568.6,219.9 C569.2,220.4 570.0,220.9 570.1,221.6 C570.1,222.2 569.3,223.4 569.1,224.1 C568.9,224.8 568.7,225.1 568.8,225.7 Z" fill="#ebebeb" opacity="1.0"/>
<path d="M570.7,227.6 C571.2,228.2 571.4,229.3 571.2,230.0 C571.1,230.8 570.3,231.5 569.8,232.0 C569.2,232.6 568.6,233.1 567.9,233.4 C567.2,233.7 566.3,233.7 565.6,233.7 C564.9,233.8 564.3,233.5 563.7,233.7 C563.1,234.0 562.6,234.6 561.7,235.1 C560.9,235.6 559.4,236.9 558.6,236.8 C557.8,236.7 556.9,235.6 556.8,234.5 C556.7,233.5 557.9,231.6 558.0,230.7 C558.2,229.8 558.2,229.6 557.6,229.1 C557.0,228.6 554.9,228.2 554.4,227.6 C553.9,226.9 554.1,225.8 554.4,225.1 C554.6,224.4 555.5,223.8 556.1,223.2 C556.6,222.6 556.9,221.9 557.6,221.5 C558.2,221.2 559.1,221.0 559.8,221.0 C560.5,221.0 561.2,221.4 561.9,221.3 C562.6,221.2 563.0,220.9 563.8,220.4 C564.7,220.0 566.1,218.5 566.9,218.6 C567.7,218.7 568.4,220.0 568.6,220.9 C568.8,221.8 568.2,223.3 568.1,224.2 C568.0,225.0 567.7,225.4 568.1,226.0 C568.6,226.6 570.2,226.9 570.7,227.6 Z" fill="#ebebeb" opacity="1.0"/>
<ellipse cx="559.1" cy="171.9" rx="4.9" ry="3.8" fill="#d0d0d0" stroke="#b7b7b7" stroke-width="0.7"/>
<ellipse cx="559.6" cy="181.5" rx="3.8" ry="3.4" fill="#d0d0d0" stroke="#b7b7b7" stroke-width="0.7"/>
<ellipse cx="553.6" cy="189.5" rx="4.6" ry="2.5" fill="#d0d0d0" stroke="#b7b7b7" stroke-width="0.7"/>
<ellipse cx="552.2" cy="200.8" rx="3.3" ry="2.5" fill="#d0d0d0" stroke="#b7b7b7" stroke-width="0.7"/>
<ellipse cx="545.2" cy="203.2" rx="4.0" ry="3.1" fill="#d0d0d0" stroke="#b7b7b7" stroke-width="0.7"/>
<ellipse cx="537.4" cy="211.6" rx="4.8" ry="3.6" fill="#d0d0d0" stroke="#b7b7b7" stroke-width="0.7"/>
<ellipse cx="528.6" cy="210.9" rx="4.5" ry="3.7" fill="#d0d0d0" stroke="#b7b7b7" stroke-width="0.7"/>
<ellipse cx="518.9" cy="219.3" rx="3.6" ry="2.7" fill="#d0d0d0" stroke="#b7b7b7" stroke-width="0.7"/>
<ellipse cx="512.1" cy="218.8" rx="4.6" ry="3.3" fill="#d0d0d0" stroke="#b7b7b7" stroke-width="0.7"/>
<ellipse cx="502.7" cy="219.4" rx="3.7" ry="3.1" fill="#d0d0d0" stroke="#b7b7b7" stroke-width="0.7"/>
<ellipse cx="491.7" cy="223.1" rx="5.0" ry="2.6" fill="#d0d0d0" stroke="#b7b7b7" stroke-width="0.7"/>
<ellipse cx="482.8" cy="216.2" rx="4.0" ry="3.4" fill="#d0d0d0" stroke="#b7b7b7" stroke-width="0.7"/>
<ellipse cx="473.3" cy="209.2" rx="4.3" ry="2.8" fill="#d0d0d0" stroke="#b7b7b7" stroke-width="0.7"/>
<ellipse cx="462.5" cy="207.2" rx="4.9" ry="3.6" fill="#d0d0d0" stroke="#b7b7b7" stroke-width="0.7"/>
<ellipse cx="461.6" cy="198.7" rx="4.2" ry="2.6" fill="#d0d0d0" stroke="#b7b7b7" stroke-width="0.7"/>
<ellipse cx="455.7" cy="190.7" rx="4.7" ry="3.9" fill="#d0d0d0" stroke="#b7b7b7" stroke-width="0.7"/>
<ellipse cx="455.4" cy="180.7" rx="4.1" ry="3.1" fill="#d0d0d0" stroke="#b7b7b7" stroke-width="0.7"/>
<ellipse cx="455.1" cy="173.4" rx="3.6" ry="3.5" fill="#d0d0d0" stroke="#b7b7b7" stroke-width="0.7"/>
<ellipse cx="453.6" cy="164.3" rx="4.8" ry="3.2" fill="#d0d0d0" stroke="#b7b7b7" stroke-width="0.7"/>
<ellipse cx="451.8" cy="153.7" rx="4.0" ry="3.2" fill="#d0d0d0" stroke="#b7b7b7" stroke-width="0.7"/>
<ellipse cx="463.7" cy="149.8" rx="4.2" ry="3.5" fill="#d0d0d0" stroke="#b7b7b7" stroke-width="0.7"/>
<ellipse cx="467.0" cy="141.2" rx="3.2" ry="3.5" fill="#d0d0d0" stroke="#b7b7b7" stroke-width="0.7"/>
<ellipse cx="474.6" cy="135.8" rx="4.3" ry="3.2" fill="#d0d0d0" stroke="#b7b7b7" stroke-width="0.7"/>
<ellipse cx="482.0" cy="124.7" rx="4.8" ry="2.6" fill="#d0d0d0" stroke="#b7b7b7" stroke-width="0.7"/>
<ellipse cx="492.7" cy="124.3" rx="3.2" ry="3.6" fill="#d0d0d0" stroke="#b7b7b7" stroke-width="0.7"/>
<ellipse cx="498.4" cy="123.4" rx="3.8" ry="2.7" fill="#d0d0d0" stroke="#b7b7b7" stroke-width="0.7"/>
<ellipse cx="511.2" cy="126.2" rx="4.8" ry="3.2" fill="#d0d0d0" stroke="#b7b7b7" stroke-width="0.7"/>
<ellipse cx="522.7" cy="121.3" rx="3.6" ry="3.4" fill="#d0d0d0" stroke="#b7b7b7" stroke-width="0.7"/>
<ellipse cx="533.5" cy="125.1" rx="4.7" ry="2.6" fill="#d0d0d0" stroke="#b7b7b7" stroke-width="0.7"/>
<ellipse cx="538.0" cy="131.9" rx="3.4" ry="3.8" fill="#d0d0d0" stroke="#b7b7b7" stroke-width="0.7"/>
<ellipse cx="546.0" cy="142.2" rx="4.8" ry="3.0" fill="#d0d0d0" stroke="#b7b7b7" stroke-width="0.7"/>
<ellipse cx="553.8" cy="147.5" rx="4.0" ry="3.2" fill="#d0d0d0" stroke="#b7b7b7" stroke-width="0.7"/>
<ellipse cx="557.4" cy="155.7" rx="4.2" ry="2.8" fill="#d0d0d0" stroke="#b7b7b7" stroke-width="0.7"/>
<ellipse cx="563.1" cy="159.8" rx="3.9" ry="3.6" fill="#d0d0d0" stroke="#b7b7b7" stroke-width="0.7"/>
<path d="M495.5,146.0 C496.1,148.1 496.1,150.8 495.4,152.9 C494.7,154.9 493.0,157.1 491.2,158.3 C489.3,159.5 486.0,159.1 484.2,160.1 C482.4,161.1 481.8,162.6 480.3,164.3 C478.9,166.0 477.4,169.5 475.5,170.3 C473.6,171.2 470.7,170.1 468.7,169.2 C466.6,168.3 465.2,166.1 463.3,165.0 C461.5,163.9 459.1,163.8 457.7,162.5 C456.3,161.2 455.7,158.9 454.7,157.1 C453.6,155.4 452.1,153.9 451.4,152.0 C450.7,150.2 451.1,148.2 450.5,146.0 C449.9,143.8 447.8,141.1 448.1,139.0 C448.4,136.9 450.3,134.5 452.3,133.4 C454.3,132.3 458.3,133.4 460.2,132.4 C462.0,131.3 462.0,128.9 463.3,127.0 C464.7,125.2 466.5,122.0 468.5,121.4 C470.5,120.7 473.3,122.0 475.3,123.0 C477.3,123.9 478.9,125.8 480.7,127.0 C482.4,128.2 484.2,128.9 485.8,130.1 C487.4,131.3 489.5,132.5 490.4,134.2 C491.4,135.8 490.8,138.3 491.6,140.2 C492.4,142.2 494.9,143.9 495.5,146.0 Z" fill="#c3c3c3" stroke="#a6a6a6" stroke-width="1.0" opacity="1.0"/>
<path d="M558.0,150.0 C558.8,151.8 560.7,154.1 560.9,156.1 C561.1,158.2 560.6,160.9 559.2,162.4 C557.9,163.8 554.7,163.9 552.7,164.7 C550.8,165.5 549.4,166.3 547.8,167.0 C546.1,167.6 544.5,168.2 542.7,168.7 C540.9,169.2 539.0,170.0 537.1,170.1 C535.2,170.3 533.0,170.2 531.0,169.6 C529.1,169.1 526.6,168.3 525.5,166.8 C524.4,165.2 524.6,162.1 524.3,160.1 C524.1,158.1 524.5,156.4 524.0,154.7 C523.5,153.0 522.3,151.9 521.2,150.0 C520.2,148.1 517.8,145.5 517.7,143.4 C517.5,141.3 518.9,138.9 520.5,137.4 C522.0,136.0 524.9,135.6 526.9,134.9 C528.9,134.2 530.6,134.0 532.4,133.3 C534.1,132.6 535.5,131.4 537.3,131.0 C539.0,130.5 540.9,130.6 542.8,130.7 C544.6,130.8 546.6,131.0 548.4,131.6 C550.2,132.2 552.3,132.9 553.6,134.2 C555.0,135.6 555.9,137.7 556.3,139.5 C556.6,141.4 555.5,143.6 555.7,145.4 C556.0,147.1 557.1,148.2 558.0,150.0 Z" fill="#c3c3c3" stroke="#a6a6a6" stroke-width="1.0" opacity="1.0"/>
<path d="M482.5,190.0 C482.2,191.9 481.3,193.8 480.5,195.4 C479.7,197.1 478.9,198.9 477.6,200.1 C476.4,201.3 474.4,201.8 473.0,202.7 C471.5,203.5 470.3,203.8 468.9,205.1 C467.6,206.5 466.6,209.7 465.0,210.7 C463.3,211.6 460.8,211.6 459.0,211.0 C457.2,210.4 455.7,208.2 454.3,206.9 C452.9,205.5 451.9,204.2 450.8,203.0 C449.6,201.7 448.9,200.6 447.3,199.4 C445.8,198.3 442.4,197.6 441.3,196.1 C440.3,194.5 440.9,191.9 441.3,190.0 C441.6,188.1 442.4,186.1 443.4,184.5 C444.4,183.0 446.1,181.9 447.3,180.5 C448.4,179.2 449.0,177.6 450.2,176.4 C451.3,175.1 452.8,174.1 454.3,173.1 C455.8,172.0 457.3,170.9 459.1,170.1 C461.0,169.2 463.3,167.5 465.2,167.9 C467.0,168.3 469.0,170.4 470.1,172.2 C471.2,174.0 470.7,177.3 471.8,178.6 C473.0,180.0 475.5,179.3 477.2,180.2 C478.9,181.1 481.2,182.5 482.1,184.1 C483.0,185.7 482.8,188.1 482.5,190.0 Z" fill="#c3c3c3" stroke="#a6a6a6" stroke-width="1.0" opacity="1.0"/>
<path d="M547.5,203.0 C547.5,204.9 546.5,207.2 545.2,208.6 C543.8,210.1 540.8,210.5 539.4,211.6 C538.0,212.7 537.4,213.6 536.6,215.3 C535.8,216.9 535.8,220.1 534.5,221.6 C533.2,223.1 531.0,224.1 529.1,224.3 C527.2,224.6 524.9,224.0 523.1,223.2 C521.3,222.4 519.9,220.8 518.4,219.7 C516.9,218.6 515.2,218.0 514.1,216.7 C513.0,215.4 512.9,213.4 512.0,212.0 C511.1,210.5 509.8,209.6 508.7,208.1 C507.6,206.6 505.5,204.8 505.2,203.0 C504.9,201.2 505.7,198.9 506.7,197.3 C507.7,195.7 509.6,194.5 510.9,193.3 C512.3,192.1 513.6,191.4 514.7,190.0 C515.8,188.5 516.2,186.0 517.6,184.6 C519.0,183.2 521.1,181.8 522.9,181.7 C524.8,181.6 526.9,183.3 528.7,184.1 C530.5,184.8 532.1,185.3 533.7,186.1 C535.2,187.0 536.8,187.9 538.0,189.1 C539.2,190.3 539.7,192.1 540.9,193.5 C542.0,194.8 543.7,195.9 544.8,197.5 C545.9,199.1 547.4,201.1 547.5,203.0 Z" fill="#c3c3c3" stroke="#a6a6a6" stroke-width="1.0" opacity="1.0"/>
<path d="M529.5,171.0 C529.3,173.4 529.8,175.5 529.8,178.0 C529.8,180.5 530.2,183.6 529.5,186.1 C528.7,188.6 527.3,191.8 525.2,193.1 C523.0,194.5 519.2,193.7 516.6,194.3 C514.1,194.9 512.1,196.6 509.7,196.9 C507.3,197.3 504.6,197.1 502.4,196.3 C500.1,195.6 498.7,193.1 496.2,192.4 C493.8,191.7 490.2,193.1 487.7,192.1 C485.3,191.1 482.9,188.9 481.6,186.7 C480.3,184.4 479.4,181.3 479.9,178.7 C480.3,176.1 483.6,173.4 484.2,171.0 C484.8,168.6 483.6,166.8 483.4,164.4 C483.2,161.9 482.1,158.4 483.0,156.2 C483.9,154.0 486.7,152.5 488.7,151.0 C490.7,149.5 492.8,148.1 495.1,147.2 C497.4,146.3 499.9,145.9 502.4,145.6 C504.8,145.4 507.4,145.2 509.6,145.8 C511.9,146.4 513.7,148.3 515.9,149.2 C518.1,150.2 520.1,150.8 522.8,151.6 C525.5,152.5 530.8,152.2 532.2,154.2 C533.6,156.2 531.6,160.8 531.1,163.6 C530.7,166.4 529.7,168.6 529.5,171.0 Z" fill="#c3c3c3" stroke="#a6a6a6" stroke-width="1.0" opacity="1.0"/>
<path d="M496.8,210.0 C497.0,211.2 498.1,212.5 498.2,213.9 C498.4,215.2 498.2,216.9 497.6,218.1 C497.1,219.4 496.0,220.7 494.8,221.3 C493.6,222.0 491.9,221.8 490.5,222.1 C489.2,222.5 488.2,223.4 486.9,223.5 C485.7,223.6 484.5,222.9 483.2,222.8 C481.8,222.7 480.4,223.2 479.1,223.0 C477.7,222.8 476.3,222.2 475.1,221.5 C473.8,220.7 472.0,219.9 471.6,218.6 C471.2,217.3 472.1,215.1 472.4,213.7 C472.7,212.3 473.5,211.3 473.3,210.0 C473.1,208.7 471.6,207.4 471.3,206.0 C471.0,204.5 470.7,202.4 471.4,201.3 C472.1,200.1 474.4,199.9 475.7,199.3 C477.0,198.7 478.2,198.2 479.4,197.7 C480.6,197.2 481.8,196.5 483.0,196.4 C484.3,196.3 485.5,197.3 486.8,197.3 C488.1,197.4 489.5,196.8 491.0,196.9 C492.4,197.0 494.1,197.3 495.4,198.0 C496.6,198.7 498.2,199.9 498.5,201.3 C498.7,202.8 497.3,205.0 497.0,206.5 C496.7,207.9 496.6,208.8 496.8,210.0 Z" fill="#c3c3c3" stroke="#a6a6a6" stroke-width="1.0" opacity="1.0"/>
<path d="M565.1,200.0 C565.0,201.2 563.1,202.6 562.1,203.6 C561.1,204.6 560.1,205.1 559.3,206.0 C558.6,206.8 558.2,207.7 557.6,208.8 C557.0,209.8 556.5,211.3 555.6,212.3 C554.7,213.2 553.3,214.2 552.0,214.2 C550.8,214.2 549.4,212.7 548.2,212.2 C547.1,211.7 545.8,211.8 544.9,211.2 C543.9,210.7 543.2,209.6 542.4,208.7 C541.7,207.9 541.2,207.1 540.3,206.3 C539.4,205.4 538.0,204.8 537.0,203.8 C536.1,202.8 534.5,201.2 534.6,200.0 C534.8,198.8 536.7,197.4 537.8,196.4 C538.9,195.5 540.4,195.2 541.1,194.3 C541.8,193.4 541.7,192.2 542.1,190.9 C542.6,189.6 542.9,187.4 543.8,186.5 C544.8,185.6 546.6,185.5 547.9,185.7 C549.3,185.8 550.6,186.9 551.8,187.3 C553.1,187.6 554.5,187.3 555.5,188.0 C556.4,188.7 556.7,190.5 557.5,191.3 C558.4,192.2 559.9,192.3 560.7,193.1 C561.6,193.9 562.0,195.1 562.8,196.3 C563.5,197.4 565.2,198.8 565.1,200.0 Z" fill="#c3c3c3" stroke="#a6a6a6" stroke-width="1.0" opacity="1.0"/>
<path d="M481.5,147.0 C481.4,147.8 481.1,148.6 480.6,149.2 C480.2,149.9 479.3,150.2 478.8,150.7 C478.3,151.3 478.1,151.9 477.7,152.4 C477.2,152.9 476.7,153.4 476.1,153.9 C475.6,154.3 474.9,154.6 474.2,155.0 C473.4,155.5 472.4,156.6 471.6,156.5 C470.9,156.4 470.1,155.2 469.6,154.4 C469.2,153.6 469.4,152.2 469.0,151.6 C468.6,151.0 468.0,151.1 467.2,150.7 C466.5,150.4 465.1,150.1 464.6,149.5 C464.1,148.9 464.2,147.8 464.3,147.0 C464.4,146.2 464.8,145.4 465.2,144.7 C465.7,144.1 466.6,143.8 467.1,143.2 C467.5,142.6 467.6,141.8 468.1,141.3 C468.5,140.8 469.2,140.5 469.9,140.2 C470.5,139.8 471.2,139.6 471.9,139.3 C472.6,139.0 473.5,138.1 474.3,138.2 C475.0,138.3 475.8,139.2 476.3,139.8 C476.8,140.5 476.8,141.6 477.2,142.2 C477.5,142.8 477.7,143.1 478.4,143.5 C479.1,143.9 480.9,143.9 481.5,144.5 C482.0,145.1 481.7,146.2 481.5,147.0 Z" fill="#b1b1b1" opacity="1.0"/>
<path d="M548.2,151.0 C548.6,151.7 549.1,152.6 549.0,153.3 C548.9,154.1 548.3,154.9 547.7,155.3 C547.0,155.7 545.8,155.5 545.2,155.8 C544.5,156.1 544.4,156.9 543.8,157.1 C543.3,157.4 542.5,157.0 541.9,157.2 C541.3,157.4 540.6,158.1 540.0,158.3 C539.3,158.4 538.4,158.4 537.7,158.1 C537.1,157.9 536.3,157.4 536.0,156.8 C535.6,156.2 535.9,155.0 535.8,154.3 C535.8,153.6 535.9,153.1 535.6,152.6 C535.4,152.0 534.8,151.7 534.4,151.0 C533.9,150.3 533.0,149.3 533.1,148.7 C533.2,148.0 534.3,147.5 535.0,147.1 C535.6,146.7 536.4,146.7 537.0,146.4 C537.6,146.1 537.9,145.7 538.5,145.4 C539.0,145.1 539.5,144.9 540.1,144.7 C540.7,144.5 541.2,144.5 542.0,144.3 C542.7,144.1 543.7,143.5 544.4,143.6 C545.1,143.7 545.8,144.4 546.2,145.0 C546.5,145.7 546.5,146.7 546.5,147.4 C546.6,148.2 546.3,148.8 546.6,149.4 C546.9,150.0 547.8,150.3 548.2,151.0 Z" fill="#b1b1b1" opacity="1.0"/>
<path d="M468.6,191.0 C468.5,191.6 469.0,192.1 469.0,192.8 C469.1,193.4 469.2,194.2 469.0,194.8 C468.7,195.4 468.1,195.8 467.6,196.3 C467.1,196.8 466.8,197.6 466.2,197.9 C465.6,198.2 464.7,198.3 464.0,198.1 C463.4,197.9 462.7,197.2 462.2,196.8 C461.6,196.4 461.5,195.8 460.9,195.7 C460.2,195.6 459.2,196.3 458.4,196.3 C457.6,196.3 456.2,196.1 455.9,195.6 C455.5,195.0 456.1,193.7 456.4,192.9 C456.6,192.2 457.4,191.6 457.5,191.0 C457.6,190.4 456.9,189.8 456.9,189.2 C456.9,188.6 457.3,188.1 457.6,187.5 C457.8,186.9 458.1,186.3 458.5,185.8 C458.9,185.2 459.3,184.5 459.9,184.3 C460.5,184.0 461.4,184.1 462.0,184.3 C462.7,184.5 463.2,185.5 463.8,185.7 C464.3,186.0 464.6,186.0 465.3,186.0 C466.0,185.9 467.1,185.3 467.9,185.4 C468.6,185.5 469.4,186.1 469.7,186.7 C469.9,187.3 469.7,188.4 469.6,189.1 C469.4,189.8 468.7,190.4 468.6,191.0 Z" fill="#b1b1b1" opacity="1.0"/>
<path d="M533.6,204.0 C533.9,204.6 534.2,205.4 534.2,206.1 C534.1,206.8 533.8,207.6 533.3,208.1 C532.9,208.6 532.0,208.8 531.4,209.0 C530.8,209.3 530.2,209.6 529.6,209.8 C529.0,209.9 528.4,209.7 527.8,209.8 C527.2,209.8 526.8,209.8 526.1,210.0 C525.4,210.3 524.4,211.3 523.7,211.3 C522.9,211.3 522.0,210.8 521.7,210.2 C521.3,209.5 521.6,208.2 521.7,207.4 C521.8,206.6 522.5,206.0 522.3,205.4 C522.0,204.8 520.5,204.6 520.1,204.0 C519.7,203.4 519.7,202.5 519.8,201.9 C519.9,201.2 520.4,200.6 520.9,200.1 C521.4,199.6 522.0,199.2 522.5,198.9 C523.1,198.5 523.7,198.3 524.3,198.2 C524.9,198.0 525.5,198.0 526.1,198.0 C526.7,197.9 527.2,198.2 527.9,198.1 C528.5,197.9 529.3,197.3 530.1,197.2 C530.8,197.2 532.1,197.2 532.4,197.8 C532.7,198.4 532.0,200.0 531.9,200.8 C531.9,201.6 531.6,202.0 531.9,202.6 C532.2,203.1 533.2,203.4 533.6,204.0 Z" fill="#b1b1b1" opacity="1.0"/>
<path d="M516.2,172.0 C516.8,172.9 518.1,174.3 517.9,175.2 C517.8,176.1 516.3,176.9 515.3,177.3 C514.3,177.8 512.9,177.5 512.0,177.8 C511.2,178.1 510.9,178.5 510.2,179.1 C509.6,179.7 509.1,181.0 508.4,181.5 C507.6,182.0 506.5,182.2 505.5,182.1 C504.6,182.1 503.6,181.7 502.8,181.2 C502.0,180.7 501.3,179.9 500.8,179.1 C500.4,178.3 500.3,177.2 500.1,176.4 C499.9,175.6 500.1,174.9 499.7,174.1 C499.2,173.4 498.1,172.9 497.5,172.0 C496.9,171.1 495.8,169.6 496.1,168.8 C496.4,167.9 498.1,167.3 499.1,166.9 C500.1,166.5 501.4,166.8 502.1,166.4 C502.9,166.0 503.0,165.3 503.6,164.6 C504.2,163.9 504.8,162.6 505.6,162.2 C506.4,161.9 507.5,162.4 508.3,162.6 C509.2,162.8 510.1,163.2 510.9,163.5 C511.7,163.9 512.7,164.2 513.2,164.9 C513.7,165.5 513.6,166.8 513.9,167.6 C514.2,168.4 514.4,169.0 514.8,169.7 C515.2,170.5 515.7,171.1 516.2,172.0 Z" fill="#b1b1b1" opacity="1.0"/>
<ellipse cx="526.8" cy="178.5" rx="4.3" ry="3.6" fill="#c9c9c9" stroke="#a8a8a8" stroke-width="0.7"/>
<ellipse cx="518.6" cy="203.9" rx="4.0" ry="3.0" fill="#c9c9c9" stroke="#a8a8a8" stroke-width="0.7"/>
<ellipse cx="514.8" cy="157.3" rx="5.3" ry="3.0" fill="#c9c9c9" stroke="#a8a8a8" stroke-width="0.7"/>
<ellipse cx="492.2" cy="186.7" rx="4.2" ry="3.8" fill="#c9c9c9" stroke="#a8a8a8" stroke-width="0.7"/>
<ellipse cx="511.6" cy="199.9" rx="4.1" ry="3.0" fill="#c9c9c9" stroke="#a8a8a8" stroke-width="0.7"/>
<ellipse cx="530.2" cy="195.5" rx="4.0" ry="3.2" fill="#c9c9c9" stroke="#a8a8a8" stroke-width="0.7"/>
<ellipse cx="491.3" cy="161.9" rx="5.0" ry="3.8" fill="#c9c9c9" stroke="#a8a8a8" stroke-width="0.7"/>
<ellipse cx="505.0" cy="207.2" rx="4.7" ry="2.9" fill="#c9c9c9" stroke="#a8a8a8" stroke-width="0.7"/>
<ellipse cx="503.8" cy="188.1" rx="4.0" ry="3.2" fill="#c9c9c9" stroke="#a8a8a8" stroke-width="0.7"/>
<ellipse cx="476.9" cy="174.2" rx="4.4" ry="2.7" fill="#c9c9c9" stroke="#a8a8a8" stroke-width="0.7"/>
<ellipse cx="511.0" cy="200.2" rx="4.2" ry="2.8" fill="#c9c9c9" stroke="#a8a8a8" stroke-width="0.7"/>
<ellipse cx="498.7" cy="210.9" rx="5.0" ry="3.6" fill="#c9c9c9" stroke="#a8a8a8" stroke-width="0.7"/>
<ellipse cx="489.2" cy="191.6" rx="4.8" ry="3.3" fill="#c9c9c9" stroke="#a8a8a8" stroke-width="0.7"/>
<ellipse cx="495.6" cy="160.5" rx="4.8" ry="2.8" fill="#c9c9c9" stroke="#a8a8a8" stroke-width="0.7"/>
<ellipse cx="491.7" cy="196.6" rx="5.4" ry="3.1" fill="#c9c9c9" stroke="#a8a8a8" stroke-width="0.7"/>
<ellipse cx="493.0" cy="156.6" rx="5.3" ry="2.9" fill="#c9c9c9" stroke="#a8a8a8" stroke-width="0.7"/>
<ellipse cx="472.3" cy="164.0" rx="4.7" ry="3.2" fill="#c9c9c9" stroke="#a8a8a8" stroke-width="0.7"/>
<ellipse cx="496.5" cy="160.6" rx="5.5" ry="3.3" fill="#c9c9c9" stroke="#a8a8a8" stroke-width="0.7"/>
<ellipse cx="487.3" cy="160.4" rx="4.2" ry="3.5" fill="#c9c9c9" stroke="#a8a8a8" stroke-width="0.7"/>
<ellipse cx="489.9" cy="181.0" rx="3.5" ry="3.8" fill="#c9c9c9" stroke="#a8a8a8" stroke-width="0.7"/>
<ellipse cx="514.3" cy="198.3" rx="4.8" ry="2.8" fill="#c9c9c9" stroke="#a8a8a8" stroke-width="0.7"/>
<ellipse cx="516.3" cy="147.3" rx="5.4" ry="2.8" fill="#c9c9c9" stroke="#a8a8a8" stroke-width="0.7"/>
<path d="M528.2,203.0 C528.3,203.6 528.6,204.3 528.6,204.9 C528.5,205.6 528.2,206.2 528.0,206.9 C527.9,207.6 527.9,208.8 527.4,209.2 C526.9,209.7 525.7,209.6 525.0,209.5 C524.2,209.4 523.4,208.6 522.8,208.5 C522.2,208.4 521.9,208.5 521.2,208.8 C520.5,209.2 519.4,210.3 518.6,210.4 C517.9,210.4 517.2,209.6 516.7,209.1 C516.3,208.5 516.0,207.6 515.9,206.9 C515.9,206.2 516.3,205.4 516.2,204.7 C516.0,204.1 515.2,203.6 515.2,203.0 C515.1,202.4 515.9,201.9 516.0,201.2 C516.0,200.5 515.4,199.5 515.5,198.8 C515.6,198.0 516.0,197.2 516.6,196.7 C517.2,196.3 518.2,196.1 518.9,196.3 C519.7,196.5 520.6,197.7 521.3,197.8 C521.9,197.9 522.2,197.3 522.9,197.0 C523.5,196.7 524.4,196.1 525.2,196.1 C525.9,196.0 527.0,196.2 527.4,196.8 C527.9,197.3 527.7,198.5 527.8,199.3 C527.9,200.0 527.9,200.6 528.0,201.2 C528.0,201.9 528.1,202.4 528.2,203.0 Z" fill="#8a8a8a" opacity="1.0"/>
<path d="M526.6,136.2 L525.9,138.6 L526.4,141.2 L524.6,143.1 L524.1,145.6 L521.4,146.5 L520.6,149.0 L518.3,149.9 L516.4,151.3 L514.0,151.6 L511.9,153.0 L509.5,151.9 L507.1,153.0 L504.9,151.7 L502.1,152.4 L500.3,150.4 L498.2,149.2 L496.8,147.2 L494.7,145.7 L494.6,143.0 L493.8,140.8 L493.3,138.5 L493.5,136.2 L493.6,133.9 L493.2,131.4 L494.8,129.5 L494.9,126.8 L497.1,125.4 L498.3,123.3 L500.4,122.1 L502.1,120.0 L504.7,119.7 L507.0,119.1 L509.5,119.2 L511.8,119.9 L514.0,120.8 L516.2,121.6 L517.9,123.1 L520.6,123.4 L521.2,126.1 L524.0,126.9 L524.7,129.3 L526.2,131.3 L525.6,133.9 Z" fill="#d9767c" stroke="#c9626a" stroke-width="0.9" stroke-linejoin="round" opacity="1.0"/>
<path d="M517.5,136.2 L516.9,139.8 L514.2,142.0 L511.2,143.7 L507.8,143.5 L504.2,142.8 L501.8,139.9 L501.0,136.2 L502.0,132.6 L504.5,129.9 L507.8,128.9 L511.3,128.4 L514.7,129.7 L517.0,132.6 Z" fill="#b44a55" opacity="1.0"/>
<path d="M563.6,178.6 L563.1,180.9 L564.2,183.7 L562.0,185.5 L561.7,188.0 L559.6,189.6 L558.5,191.9 L555.6,192.0 L553.9,193.6 L551.5,194.1 L549.3,194.4 L547.0,194.0 L544.7,194.5 L542.4,194.4 L540.1,193.8 L538.1,192.5 L535.7,191.7 L533.9,190.0 L532.0,188.2 L531.6,185.6 L530.3,183.5 L530.9,180.9 L529.8,178.6 L531.6,176.4 L531.1,173.9 L532.9,172.2 L533.4,169.8 L535.0,168.2 L536.2,166.2 L538.1,164.8 L540.0,163.3 L542.4,163.0 L544.6,161.6 L547.0,162.1 L549.5,160.9 L551.7,162.6 L554.2,162.9 L555.9,164.8 L557.6,166.3 L559.3,168.0 L560.7,169.8 L561.3,172.1 L562.9,173.9 L563.2,176.3 Z" fill="#f4a1a5" stroke="#e58a90" stroke-width="0.9" stroke-linejoin="round" opacity="1.0"/>
<path d="M554.3,178.6 L553.0,181.5 L551.6,184.4 L548.5,185.3 L545.5,185.2 L542.4,184.4 L540.3,181.8 L539.6,178.6 L540.9,175.6 L542.3,172.8 L545.4,171.5 L548.7,171.3 L551.5,172.9 L553.8,175.3 Z" fill="#d8747a" opacity="1.0"/>
<path d="M510.5,205.5 L509.5,207.8 L509.2,210.2 L507.6,212.1 L506.9,214.3 L505.4,216.1 L504.0,218.0 L502.1,219.3 L500.3,221.1 L497.9,221.7 L495.7,222.6 L493.2,222.0 L490.7,223.1 L488.6,221.2 L486.1,221.1 L484.2,219.5 L482.5,217.8 L480.9,216.2 L479.3,214.4 L478.8,212.1 L477.2,210.2 L477.8,207.7 L476.8,205.5 L476.7,203.1 L476.4,200.6 L477.7,198.4 L478.1,195.8 L480.6,194.6 L482.0,192.6 L484.0,191.2 L486.4,190.5 L488.7,190.1 L490.8,189.0 L493.2,189.3 L495.5,189.7 L497.7,190.1 L500.0,190.7 L502.0,191.8 L504.6,192.4 L506.1,194.3 L507.6,196.2 L508.8,198.4 L509.6,200.7 L509.6,203.1 Z" fill="#f4a1a5" stroke="#e58a90" stroke-width="0.9" stroke-linejoin="round" opacity="1.0"/>
<path d="M500.7,205.5 L499.9,208.7 L497.3,210.6 L494.6,211.8 L491.8,211.8 L488.6,211.2 L487.4,208.3 L485.9,205.5 L486.6,202.3 L488.6,199.7 L491.5,198.2 L494.8,198.5 L497.8,199.7 L499.6,202.4 Z" fill="#d8747a" opacity="1.0"/>
<path d="M716.7,121.5 L716.1,123.5 L715.6,125.5 L714.3,127.1 L713.8,129.1 L711.9,130.1 L711.2,132.2 L709.5,133.1 L708.1,134.9 L705.9,134.7 L704.1,136.1 L702.0,135.5 L699.8,136.6 L697.9,135.4 L696.0,134.6 L694.2,133.6 L692.3,132.7 L691.6,130.5 L690.1,129.1 L690.1,126.9 L688.9,125.3 L688.5,123.4 L688.0,121.5 L688.4,119.5 L688.0,117.4 L689.3,115.7 L689.4,113.4 L691.1,112.1 L692.1,110.0 L694.3,109.6 L695.9,108.2 L698.1,108.3 L700.0,107.4 L702.0,108.1 L704.0,107.8 L705.9,108.1 L708.1,108.2 L709.6,109.6 L711.7,110.3 L712.6,112.3 L714.4,113.5 L715.0,115.6 L716.0,117.4 L716.3,119.4 Z" fill="#f1d0d3" stroke="#ecc2c6" stroke-width="0.9" stroke-linejoin="round" opacity="1.0"/>
<path d="M707.9,121.5 L707.7,124.2 L705.7,126.1 L703.4,127.8 L700.6,127.7 L698.6,125.8 L696.8,124.0 L695.6,121.5 L696.6,118.9 L698.0,116.4 L700.7,115.7 L703.2,116.1 L705.8,116.7 L707.6,118.8 Z" fill="#e7bdc1" opacity="1.0"/>
<path d="M760.1,109.5 L759.6,111.5 L760.1,113.8 L758.4,115.4 L757.3,117.1 L755.6,118.3 L754.5,119.9 L752.5,120.5 L751.4,122.5 L749.2,122.3 L747.5,123.8 L745.5,123.4 L743.4,123.8 L741.4,123.5 L739.4,122.9 L737.6,121.7 L736.0,120.5 L734.9,118.7 L733.5,117.2 L733.2,115.1 L731.6,113.6 L731.9,111.4 L731.7,109.5 L731.8,107.5 L732.1,105.6 L733.0,103.8 L732.9,101.4 L734.6,100.1 L735.9,98.5 L737.5,97.0 L739.4,96.1 L741.5,96.0 L743.4,94.8 L745.5,95.8 L747.5,95.6 L749.2,96.9 L751.2,97.1 L752.8,98.1 L754.6,99.0 L755.9,100.5 L757.6,101.7 L758.3,103.7 L760.2,105.2 L759.7,107.5 Z" fill="#f1d0d3" stroke="#ecc2c6" stroke-width="0.9" stroke-linejoin="round" opacity="1.0"/>
<path d="M751.6,109.5 L751.2,112.3 L749.1,114.0 L746.8,115.0 L744.1,115.7 L741.6,114.4 L740.3,112.0 L739.8,109.5 L739.9,106.8 L741.5,104.5 L744.2,103.9 L746.9,103.2 L749.5,104.5 L751.0,106.9 Z" fill="#e7bdc1" opacity="1.0"/>
<path d="M792.6,122.7 L791.6,124.6 L792.3,126.8 L790.3,128.2 L790.1,130.4 L788.2,131.3 L787.6,133.5 L785.6,134.2 L784.1,135.6 L782.1,135.9 L780.3,137.5 L778.2,136.7 L776.1,137.3 L774.1,136.6 L771.9,136.5 L770.5,134.6 L768.9,133.5 L767.6,131.9 L766.6,130.2 L766.4,128.1 L765.0,126.6 L764.9,124.6 L764.3,122.7 L764.7,120.8 L764.2,118.6 L765.2,116.7 L765.9,114.8 L767.4,113.3 L768.2,111.1 L770.3,110.4 L772.1,109.3 L774.3,109.3 L776.2,108.6 L778.2,109.5 L780.1,109.2 L781.9,110.2 L784.2,109.5 L785.7,111.0 L788.0,111.4 L788.6,113.7 L790.8,114.6 L791.3,116.7 L792.8,118.4 L792.2,120.7 Z" fill="#f1d0d3" stroke="#ecc2c6" stroke-width="0.9" stroke-linejoin="round" opacity="1.0"/>
<path d="M784.7,122.7 L783.2,125.1 L782.0,127.4 L779.6,128.8 L776.8,128.9 L774.3,127.6 L772.6,125.4 L771.9,122.7 L772.4,119.9 L774.5,118.1 L776.8,116.7 L779.6,116.5 L782.2,117.7 L783.5,120.1 Z" fill="#e7bdc1" opacity="1.0"/>
<path d="M815.6,154.5 L814.8,156.4 L815.1,158.6 L813.9,160.2 L813.7,162.5 L812.2,163.9 L810.9,165.5 L809.2,166.7 L807.7,168.5 L805.4,168.4 L803.4,169.1 L801.3,168.2 L799.3,168.7 L797.5,167.5 L795.5,167.2 L793.9,166.1 L792.3,164.9 L790.7,163.7 L789.4,162.1 L788.3,160.4 L787.0,158.7 L787.3,156.5 L786.1,154.5 L787.1,152.5 L787.1,150.3 L788.3,148.6 L789.4,146.9 L791.4,145.9 L792.2,144.0 L794.0,143.1 L795.6,141.9 L797.5,141.7 L799.2,139.9 L801.3,140.3 L803.4,139.9 L805.4,140.4 L807.5,141.0 L809.2,142.3 L810.8,143.5 L811.9,145.3 L813.7,146.5 L814.1,148.7 L815.1,150.4 L814.5,152.6 Z" fill="#f1d0d3" stroke="#ecc2c6" stroke-width="0.9" stroke-linejoin="round" opacity="1.0"/>
<path d="M807.4,154.5 L806.5,157.0 L804.8,158.9 L802.6,160.3 L799.9,160.7 L797.4,159.5 L795.7,157.2 L794.9,154.5 L796.1,152.0 L797.8,150.1 L800.0,148.7 L802.6,148.9 L804.9,150.0 L806.6,151.9 Z" fill="#e7bdc1" opacity="1.0"/>
<path d="M694.1,152.6 L693.1,154.5 L693.7,156.6 L692.6,158.4 L691.9,160.3 L690.2,161.4 L689.3,163.3 L687.9,164.8 L686.0,165.8 L684.1,166.6 L682.1,167.5 L680.0,166.7 L677.9,167.4 L676.2,165.5 L674.2,165.3 L672.7,163.9 L671.1,162.9 L669.6,161.6 L668.3,160.1 L667.8,158.2 L666.5,156.6 L665.9,154.6 L665.2,152.6 L665.6,150.5 L665.5,148.3 L666.7,146.5 L667.2,144.4 L669.3,143.3 L670.7,141.9 L672.7,141.2 L674.3,140.1 L676.3,140.1 L678.0,138.7 L680.0,138.9 L682.0,138.7 L683.9,139.4 L686.1,139.3 L687.8,140.4 L689.8,141.3 L691.0,143.1 L692.7,144.4 L692.8,146.8 L694.2,148.4 L694.0,150.6 Z" fill="#f1d0d3" stroke="#ecc2c6" stroke-width="0.9" stroke-linejoin="round" opacity="1.0"/>
<path d="M685.6,152.6 L685.8,155.4 L683.9,157.5 L681.3,158.1 L678.7,158.4 L676.2,157.4 L674.2,155.4 L674.1,152.6 L674.5,150.0 L676.0,147.6 L678.6,146.5 L681.4,146.3 L683.7,147.9 L685.5,149.9 Z" fill="#e7bdc1" opacity="1.0"/>
<path d="M701.0,178.6 L700.3,180.7 L700.2,182.8 L698.9,184.6 L697.8,186.3 L696.5,187.8 L695.4,189.6 L693.3,190.3 L691.6,191.4 L689.7,191.8 L687.8,192.5 L685.8,192.7 L683.7,193.3 L681.8,192.1 L679.7,191.8 L678.0,190.7 L676.0,190.0 L674.8,188.1 L673.4,186.5 L673.5,184.2 L671.8,182.7 L672.8,180.5 L671.5,178.6 L672.8,176.7 L672.4,174.7 L673.2,172.8 L673.9,171.0 L675.4,169.6 L676.1,167.4 L677.9,166.3 L679.4,164.7 L681.7,164.6 L683.6,163.5 L685.8,164.5 L687.9,163.9 L689.5,165.9 L691.5,166.0 L693.1,167.3 L694.9,168.1 L696.2,169.6 L697.9,170.8 L698.5,172.8 L700.2,174.4 L700.0,176.6 Z" fill="#f1d0d3" stroke="#ecc2c6" stroke-width="0.9" stroke-linejoin="round" opacity="1.0"/>
<path d="M691.6,178.6 L691.1,181.2 L689.7,183.6 L687.2,184.8 L684.5,184.2 L681.8,183.6 L680.0,181.4 L679.8,178.6 L680.3,176.0 L682.2,174.1 L684.5,172.7 L687.1,172.7 L689.6,173.8 L690.8,176.2 Z" fill="#e7bdc1" opacity="1.0"/>
<path d="M804.2,174.7 L803.6,176.7 L804.3,178.9 L802.9,180.7 L802.4,182.8 L800.8,184.2 L799.3,185.6 L797.4,186.6 L795.8,187.8 L793.8,188.2 L791.9,189.0 L789.8,187.9 L787.8,188.5 L786.1,187.4 L783.9,187.6 L782.1,186.6 L780.0,186.1 L779.0,184.0 L777.3,182.7 L776.9,180.6 L775.4,178.9 L775.4,176.8 L775.5,174.7 L775.9,172.7 L776.6,170.8 L777.8,169.2 L778.2,167.3 L779.5,165.8 L780.6,164.1 L782.4,163.2 L783.7,161.4 L785.9,161.4 L787.6,159.7 L789.8,160.6 L791.9,159.8 L793.8,161.2 L795.8,161.5 L797.4,162.9 L799.1,163.9 L800.0,165.9 L801.5,167.2 L802.0,169.1 L803.0,170.8 L803.0,172.8 Z" fill="#f1d0d3" stroke="#ecc2c6" stroke-width="0.9" stroke-linejoin="round" opacity="1.0"/>
<path d="M795.9,174.7 L795.3,177.4 L793.6,179.4 L791.2,180.9 L788.4,180.7 L785.8,179.7 L784.6,177.2 L783.6,174.7 L784.1,172.0 L785.8,169.7 L788.5,169.0 L791.1,169.0 L793.8,169.7 L795.0,172.2 Z" fill="#e7bdc1" opacity="1.0"/>
<path d="M804.6,197.8 L803.5,199.8 L803.9,201.9 L803.1,203.9 L802.2,205.8 L800.4,207.0 L799.7,209.2 L797.3,209.5 L795.9,211.1 L793.5,210.5 L791.8,211.6 L789.8,211.4 L787.9,211.3 L786.0,210.6 L783.8,211.0 L782.0,209.9 L779.9,209.3 L779.2,207.0 L777.2,205.9 L776.5,203.9 L775.5,202.0 L775.6,199.8 L775.6,197.8 L776.6,195.9 L776.6,193.9 L777.9,192.4 L778.0,190.2 L779.6,189.0 L780.4,187.0 L782.5,186.4 L783.8,184.7 L785.9,184.4 L787.6,182.7 L789.8,182.9 L792.0,182.6 L793.7,184.5 L795.7,184.8 L797.5,185.8 L799.1,187.1 L800.2,188.8 L801.4,190.3 L802.0,192.2 L803.4,193.8 L803.3,195.9 Z" fill="#f1d0d3" stroke="#ecc2c6" stroke-width="0.9" stroke-linejoin="round" opacity="1.0"/>
<path d="M795.9,197.8 L794.8,200.2 L793.7,202.6 L791.2,204.0 L788.5,203.4 L786.1,202.5 L784.2,200.5 L783.9,197.8 L784.7,195.3 L786.3,193.4 L788.5,191.9 L791.0,192.4 L793.8,192.8 L795.5,195.1 Z" fill="#e7bdc1" opacity="1.0"/>
<path d="M721.3,209.4 L720.4,211.3 L720.4,213.3 L719.5,215.1 L719.1,217.2 L717.9,218.9 L716.9,220.8 L714.7,221.3 L713.4,223.4 L711.1,223.4 L709.1,224.3 L707.0,223.7 L705.0,223.6 L703.1,222.8 L701.0,222.5 L699.7,220.8 L697.7,220.2 L696.6,218.4 L695.0,217.1 L694.2,215.3 L693.2,213.4 L693.0,211.4 L692.0,209.4 L693.1,207.4 L692.8,205.2 L694.0,203.5 L694.6,201.5 L696.8,200.5 L697.5,198.4 L699.6,198.0 L701.2,196.8 L703.2,196.4 L705.0,195.3 L707.0,195.6 L709.1,195.1 L711.1,195.4 L713.3,195.7 L714.9,197.1 L717.0,197.9 L718.1,199.8 L719.0,201.7 L719.8,203.6 L720.9,205.3 L720.2,207.5 Z" fill="#f1d0d3" stroke="#ecc2c6" stroke-width="0.9" stroke-linejoin="round" opacity="1.0"/>
<path d="M712.9,209.4 L712.0,211.8 L710.6,213.9 L708.3,215.1 L705.8,214.9 L703.4,213.9 L701.2,212.2 L701.0,209.4 L701.6,206.8 L703.0,204.4 L705.7,203.5 L708.4,203.1 L710.8,204.6 L712.7,206.7 Z" fill="#e7bdc1" opacity="1.0"/>
<path d="M758.4,222.8 L758.0,224.9 L757.6,226.9 L757.1,228.9 L755.9,230.7 L754.3,232.1 L752.9,233.6 L751.0,234.4 L749.5,235.8 L747.3,235.3 L745.6,237.0 L743.6,236.2 L741.6,236.9 L739.7,236.1 L737.6,236.0 L736.0,234.6 L733.7,234.2 L732.7,232.3 L731.2,230.8 L730.4,228.8 L729.7,226.9 L730.3,224.7 L729.6,222.8 L730.6,220.9 L730.4,218.9 L731.2,217.1 L731.8,215.2 L733.0,213.6 L734.0,211.7 L736.2,211.3 L737.3,208.9 L739.4,208.6 L741.5,208.3 L743.6,208.1 L745.7,208.2 L747.5,209.3 L749.8,209.3 L750.8,211.5 L752.8,212.2 L754.0,213.8 L755.6,215.1 L755.9,217.2 L757.7,218.7 L757.7,220.8 Z" fill="#f1d0d3" stroke="#ecc2c6" stroke-width="0.9" stroke-linejoin="round" opacity="1.0"/>
<path d="M749.7,222.8 L748.7,225.2 L747.4,227.6 L744.9,228.6 L742.3,228.4 L740.1,227.2 L738.2,225.4 L738.0,222.8 L738.2,220.2 L739.8,218.0 L742.3,217.0 L744.9,217.2 L747.4,218.0 L748.9,220.2 Z" fill="#e7bdc1" opacity="1.0"/>
<path d="M778.7,203.6 L778.5,205.6 L778.7,207.7 L777.5,209.4 L776.8,211.4 L775.2,212.7 L774.7,215.2 L772.6,215.9 L771.0,217.3 L768.7,217.1 L766.8,217.9 L764.7,217.6 L762.7,217.7 L760.9,216.6 L758.8,216.4 L757.3,215.1 L755.6,214.1 L754.5,212.4 L752.1,211.7 L751.5,209.6 L750.1,207.9 L750.8,205.6 L750.1,203.6 L750.7,201.6 L750.6,199.5 L751.9,197.7 L752.9,196.0 L754.4,194.7 L755.8,193.3 L757.6,192.6 L758.8,190.7 L760.9,190.5 L762.6,189.3 L764.7,189.7 L766.8,189.0 L768.7,190.1 L770.9,190.1 L772.6,191.3 L774.6,192.1 L775.1,194.6 L776.6,195.9 L777.4,197.8 L778.3,199.6 L778.2,201.7 Z" fill="#f1d0d3" stroke="#ecc2c6" stroke-width="0.9" stroke-linejoin="round" opacity="1.0"/>
<path d="M770.4,203.6 L770.0,206.2 L768.3,208.1 L766.1,209.7 L763.4,209.3 L760.9,208.4 L758.9,206.4 L758.9,203.6 L759.3,201.0 L760.8,198.7 L763.3,197.4 L766.0,197.8 L768.4,199.0 L769.8,201.2 Z" fill="#e7bdc1" opacity="1.0"/>
<path d="M726.6,199.7 L726.0,201.6 L726.8,203.8 L725.7,205.6 L725.5,207.8 L723.6,209.0 L722.8,211.2 L720.3,211.4 L718.8,212.9 L716.8,213.2 L714.8,213.5 L712.8,213.1 L710.8,213.8 L709.0,212.7 L707.0,212.3 L705.6,210.9 L703.5,210.5 L702.1,209.0 L700.4,207.6 L700.0,205.5 L698.2,204.0 L698.5,201.8 L697.6,199.7 L698.5,197.6 L698.6,195.5 L700.4,194.0 L700.7,191.9 L702.8,191.0 L703.7,189.2 L705.5,188.4 L706.7,186.4 L708.8,186.0 L710.7,185.4 L712.8,185.5 L714.9,185.0 L716.8,186.0 L719.0,186.2 L720.4,187.8 L722.2,188.9 L723.3,190.6 L725.0,191.9 L725.1,194.1 L726.5,195.7 L726.2,197.8 Z" fill="#f1d0d3" stroke="#ecc2c6" stroke-width="0.9" stroke-linejoin="round" opacity="1.0"/>
<path d="M718.5,199.7 L718.4,202.4 L716.8,204.7 L714.1,205.3 L711.6,205.1 L709.0,204.4 L707.4,202.3 L706.7,199.7 L707.0,196.9 L709.0,194.9 L711.4,193.6 L714.0,194.3 L716.6,195.0 L718.5,197.0 Z" fill="#e7bdc1" opacity="1.0"/>
<path d="M706.9,176.0 L706.9,178.1 L707.2,180.5 L705.2,182.0 L705.1,184.4 L702.8,185.4 L702.0,187.5 L699.8,188.1 L698.0,189.1 L695.8,189.1 L694.1,190.6 L692.0,190.0 L689.9,190.8 L688.0,189.6 L685.8,189.6 L683.8,188.7 L681.8,187.8 L680.7,185.8 L678.9,184.4 L678.4,182.2 L677.3,180.3 L677.4,178.1 L677.3,176.0 L677.9,174.0 L678.0,171.9 L679.1,170.1 L679.5,168.0 L681.1,166.5 L682.0,164.4 L683.9,163.4 L685.6,161.9 L687.8,161.7 L689.8,160.4 L692.0,160.9 L694.2,160.9 L696.1,162.2 L698.0,162.8 L699.7,164.0 L701.8,164.7 L702.4,167.0 L704.0,168.3 L704.5,170.3 L706.2,171.8 L706.1,174.0 Z" fill="#e3a0a5" stroke="#d58b91" stroke-width="0.9" stroke-linejoin="round" opacity="1.0"/>
<path d="M698.5,176.0 L697.0,178.4 L695.6,180.5 L693.3,181.5 L690.6,182.0 L688.1,180.9 L686.9,178.5 L686.4,176.0 L686.6,173.4 L688.2,171.2 L690.6,169.8 L693.2,170.6 L695.5,171.6 L697.1,173.5 Z" fill="#d0888e" opacity="1.0"/>
<path d="M727.3,200.0 L727.0,202.2 L726.9,204.4 L725.1,206.0 L724.4,208.0 L722.6,209.2 L721.4,210.8 L719.6,211.9 L717.9,213.0 L715.9,213.4 L714.1,214.8 L712.0,214.3 L709.9,214.7 L707.8,214.5 L705.4,214.4 L704.0,212.4 L701.8,211.7 L700.5,209.9 L699.2,208.2 L699.2,205.9 L698.2,204.0 L697.8,202.0 L697.2,200.0 L698.4,198.0 L698.0,195.9 L699.1,194.1 L699.6,192.0 L700.6,190.2 L701.8,188.3 L704.1,187.7 L705.7,186.3 L707.8,185.8 L709.8,185.0 L712.0,185.2 L714.1,185.1 L716.0,186.4 L717.9,187.1 L719.3,188.6 L721.4,189.2 L722.4,191.0 L724.7,191.8 L725.1,194.0 L726.8,195.7 L727.1,197.8 Z" fill="#e3a0a5" stroke="#d58b91" stroke-width="0.9" stroke-linejoin="round" opacity="1.0"/>
<path d="M717.8,200.0 L717.4,202.6 L715.5,204.4 L713.4,206.1 L710.8,205.4 L708.1,204.9 L706.3,202.7 L705.7,200.0 L707.0,197.6 L708.4,195.5 L710.6,193.9 L713.2,194.5 L715.7,195.3 L717.4,197.4 Z" fill="#d0888e" opacity="1.0"/>
<path d="M779.9,204.0 L779.6,206.1 L779.5,208.3 L778.7,210.3 L778.0,212.4 L776.5,214.0 L774.8,215.4 L773.1,216.5 L771.1,217.4 L769.0,217.6 L767.1,218.5 L765.0,217.6 L762.9,218.6 L761.1,217.2 L759.0,217.2 L757.5,215.7 L755.2,215.3 L753.9,213.6 L751.8,212.5 L751.5,210.1 L750.0,208.4 L750.8,206.0 L749.9,204.0 L750.9,202.0 L750.5,199.7 L752.0,198.1 L752.7,196.1 L754.8,195.2 L755.5,193.0 L757.2,191.9 L758.9,190.6 L760.9,189.9 L762.8,188.8 L765.0,189.5 L767.3,188.2 L769.3,189.5 L771.2,190.3 L772.9,191.7 L774.6,192.9 L775.5,194.9 L777.2,196.1 L777.5,198.3 L778.8,199.9 L778.8,202.0 Z" fill="#e3a0a5" stroke="#d58b91" stroke-width="0.9" stroke-linejoin="round" opacity="1.0"/>
<path d="M771.2,204.0 L770.2,206.5 L768.6,208.5 L766.4,210.1 L763.7,209.7 L761.0,209.0 L759.5,206.6 L758.8,204.0 L759.7,201.5 L761.1,199.1 L763.8,198.5 L766.3,198.5 L768.5,199.6 L770.6,201.3 Z" fill="#d0888e" opacity="1.0"/>
<path d="M798.2,170.0 L797.7,172.0 L798.3,174.2 L796.9,175.9 L796.3,177.9 L794.8,179.4 L793.9,181.4 L791.9,182.2 L790.4,184.0 L788.1,183.9 L786.2,185.6 L784.0,184.5 L781.9,184.8 L780.0,183.7 L777.9,183.5 L776.3,181.9 L774.6,180.9 L773.5,179.1 L771.6,178.0 L771.3,175.8 L769.5,174.3 L769.2,172.1 L768.1,170.0 L769.0,167.8 L769.1,165.6 L770.6,163.9 L771.7,162.1 L773.4,160.8 L774.5,159.0 L776.4,158.2 L778.1,157.2 L780.1,156.7 L781.9,155.5 L784.0,155.5 L786.2,154.8 L788.2,155.8 L790.3,156.2 L792.2,157.2 L794.4,158.0 L795.2,160.3 L796.7,161.8 L797.1,164.0 L797.9,165.9 L798.0,168.0 Z" fill="#e3a0a5" stroke="#d58b91" stroke-width="0.9" stroke-linejoin="round" opacity="1.0"/>
<path d="M790.5,170.0 L789.4,172.6 L787.9,174.9 L785.4,176.2 L782.7,175.6 L780.0,175.0 L778.5,172.7 L778.3,170.0 L779.0,167.6 L780.4,165.5 L782.6,164.1 L785.4,164.0 L787.6,165.4 L789.8,167.2 Z" fill="#d0888e" opacity="1.0"/>
<path d="M758.7,125.6 L757.1,128.1 L758.0,131.0 L755.3,132.7 L755.2,135.6 L752.7,136.9 L751.4,139.1 L749.0,140.1 L747.1,141.9 L744.8,143.0 L742.4,144.6 L739.7,144.1 L737.0,144.6 L734.6,142.9 L731.6,143.3 L730.0,140.7 L727.2,140.1 L726.6,137.0 L724.4,135.5 L723.7,132.9 L722.9,130.5 L722.7,128.0 L722.2,125.6 L722.9,123.2 L722.3,120.5 L722.8,117.9 L723.3,115.1 L725.7,113.4 L727.3,111.3 L729.7,110.0 L731.8,108.2 L734.7,108.6 L737.1,107.4 L739.7,107.9 L742.2,108.4 L744.4,109.5 L747.1,109.3 L748.9,111.4 L751.6,111.9 L753.2,113.9 L755.2,115.6 L756.4,118.0 L757.8,120.3 L758.0,123.0 Z" fill="#d8787d" stroke="#c2616a" stroke-width="0.9" stroke-linejoin="round" opacity="1.0"/>
<path d="M747.5,125.6 L747.1,129.1 L744.3,131.4 L741.5,133.6 L738.0,133.0 L734.3,132.3 L732.4,129.1 L731.7,125.6 L732.6,122.2 L734.6,119.2 L737.9,117.6 L741.6,117.5 L744.9,119.1 L746.9,122.1 Z" fill="#b0535d" opacity="1.0"/>
<path d="M728.8,139.1 L728.1,141.7 L728.0,144.4 L726.5,146.7 L726.1,149.5 L724.1,151.4 L722.3,153.4 L719.6,154.2 L717.5,155.7 L714.9,156.2 L712.4,156.6 L709.9,155.7 L707.3,157.1 L704.9,156.1 L702.2,156.0 L700.2,154.2 L697.4,153.5 L696.2,150.9 L693.7,149.5 L693.6,146.5 L692.1,144.3 L692.1,141.7 L691.4,139.1 L692.7,136.6 L693.1,134.2 L694.1,131.9 L694.9,129.4 L697.1,128.0 L698.2,125.6 L700.4,124.4 L702.3,122.4 L704.9,122.1 L707.1,119.8 L709.9,120.2 L712.6,120.0 L715.1,121.2 L717.6,122.2 L719.6,123.9 L721.6,125.6 L723.1,127.6 L725.0,129.4 L725.9,131.8 L726.7,134.2 L727.5,136.6 Z" fill="#d8787d" stroke="#c2616a" stroke-width="0.9" stroke-linejoin="round" opacity="1.0"/>
<path d="M717.4,139.1 L717.2,142.6 L715.2,145.8 L711.5,146.3 L708.2,146.6 L705.1,145.2 L702.9,142.5 L702.5,139.1 L702.2,135.4 L704.7,132.5 L708.1,131.4 L711.6,131.5 L715.0,132.8 L716.6,135.9 Z" fill="#b0535d" opacity="1.0"/>
<path d="M791.5,139.1 L790.1,141.7 L790.7,144.5 L789.6,146.9 L788.9,149.7 L786.2,151.0 L784.5,153.0 L781.9,153.8 L780.2,156.1 L777.4,156.1 L774.9,156.5 L772.4,156.6 L769.9,156.7 L767.5,155.8 L764.9,155.5 L762.5,154.6 L759.6,153.8 L758.8,150.9 L756.2,149.5 L756.0,146.6 L753.9,144.5 L755.2,141.6 L754.5,139.1 L754.9,136.6 L755.4,134.1 L756.4,131.8 L757.0,129.2 L759.2,127.6 L760.7,125.6 L762.7,123.9 L764.4,121.6 L767.3,121.6 L769.7,120.6 L772.4,121.0 L775.1,120.5 L777.6,121.5 L780.0,122.5 L781.7,124.6 L784.0,125.7 L785.5,127.7 L787.7,129.3 L787.9,132.0 L789.9,133.9 L790.3,136.5 Z" fill="#d8787d" stroke="#c2616a" stroke-width="0.9" stroke-linejoin="round" opacity="1.0"/>
<path d="M780.5,139.1 L779.3,142.4 L777.2,145.2 L774.3,147.4 L770.6,147.1 L767.6,145.1 L765.0,142.6 L764.9,139.1 L764.6,135.4 L767.5,132.9 L770.6,131.3 L774.2,131.3 L777.0,133.3 L779.7,135.6 Z" fill="#b0535d" opacity="1.0"/>
<path d="M726.9,169.0 L726.4,171.6 L725.6,174.2 L724.0,176.3 L723.6,179.0 L720.9,180.1 L719.6,182.3 L717.3,183.4 L715.3,185.0 L713.0,186.1 L710.7,187.7 L708.0,186.4 L705.3,187.7 L702.8,186.9 L700.1,186.3 L697.8,184.9 L695.6,183.3 L694.7,180.5 L692.4,179.0 L692.0,176.3 L690.9,174.0 L690.9,171.5 L689.8,169.0 L690.9,166.5 L690.5,163.9 L691.5,161.5 L692.1,158.8 L694.2,157.1 L695.2,154.2 L698.2,153.8 L700.0,151.4 L703.0,151.9 L705.3,150.4 L708.0,151.7 L710.6,151.1 L712.9,152.2 L715.5,152.5 L717.4,154.3 L719.6,155.6 L721.2,157.5 L723.3,159.1 L724.5,161.5 L726.2,163.6 L725.7,166.5 Z" fill="#d8787d" stroke="#c2616a" stroke-width="0.9" stroke-linejoin="round" opacity="1.0"/>
<path d="M716.1,169.0 L715.5,172.6 L713.0,175.3 L709.9,177.3 L706.3,176.4 L703.3,174.9 L701.3,172.2 L700.0,169.0 L700.9,165.6 L703.1,162.8 L706.3,161.5 L709.9,160.8 L712.6,163.2 L715.7,165.3 Z" fill="#b0535d" opacity="1.0"/>
<path d="M785.9,166.0 L785.0,168.5 L784.5,171.0 L782.8,172.9 L782.5,175.6 L780.4,177.1 L779.5,179.8 L777.4,181.2 L775.5,183.2 L772.7,183.4 L770.3,185.1 L767.6,183.9 L764.9,185.1 L762.6,182.9 L760.1,182.5 L758.4,180.3 L755.7,179.7 L754.4,177.5 L752.3,175.8 L752.3,173.0 L750.2,171.1 L750.2,168.5 L749.1,166.0 L749.0,163.3 L749.7,160.8 L750.9,158.4 L751.3,155.5 L753.5,153.8 L755.7,152.2 L758.1,151.3 L760.0,149.3 L762.9,150.0 L765.1,148.6 L767.6,148.4 L770.1,148.5 L772.5,149.2 L775.2,149.3 L777.3,150.8 L779.8,152.0 L781.1,154.3 L784.1,155.4 L784.5,158.3 L785.9,160.6 L784.9,163.5 Z" fill="#d8787d" stroke="#c2616a" stroke-width="0.9" stroke-linejoin="round" opacity="1.0"/>
<path d="M775.3,166.0 L774.9,169.5 L772.4,172.0 L769.4,173.8 L765.7,174.3 L762.7,172.1 L760.6,169.4 L759.0,166.0 L760.3,162.5 L763.0,160.2 L765.8,158.3 L769.4,158.0 L772.2,160.2 L774.6,162.6 Z" fill="#b0535d" opacity="1.0"/>
<path d="M756.1,196.9 L754.8,199.3 L755.4,202.1 L753.6,204.1 L753.2,206.8 L751.6,208.9 L750.1,211.1 L747.9,212.6 L745.6,214.0 L742.9,214.4 L740.4,215.3 L737.8,214.9 L735.2,214.8 L733.0,213.3 L730.5,213.0 L728.6,211.3 L726.2,210.2 L724.8,208.2 L722.0,207.0 L721.5,204.3 L719.4,202.3 L720.1,199.4 L718.8,196.9 L720.1,194.3 L719.3,191.5 L721.4,189.4 L722.3,187.0 L724.9,185.7 L726.2,183.5 L728.6,182.7 L730.4,180.8 L732.8,180.0 L735.2,178.8 L737.8,179.6 L740.4,178.7 L742.8,179.9 L745.9,179.2 L747.7,181.6 L750.5,182.2 L751.8,184.8 L754.0,186.5 L753.5,189.7 L755.1,191.8 L754.8,194.5 Z" fill="#d8787d" stroke="#c2616a" stroke-width="0.9" stroke-linejoin="round" opacity="1.0"/>
<path d="M745.3,196.9 L745.4,200.6 L742.6,203.0 L739.7,205.0 L736.0,204.7 L733.2,202.7 L730.7,200.3 L730.1,196.9 L731.1,193.7 L733.1,191.0 L736.0,189.0 L739.4,189.7 L742.6,190.8 L744.9,193.5 Z" fill="#b0535d" opacity="1.0"/>
<path d="M758.1,159.3 L757.6,161.9 L757.1,164.4 L755.9,166.7 L755.3,169.3 L752.8,170.7 L751.8,173.3 L749.5,174.5 L747.8,177.1 L745.0,177.2 L742.5,178.6 L739.7,178.6 L737.0,178.3 L734.5,176.8 L731.9,176.4 L730.2,174.1 L727.9,172.9 L726.8,170.5 L724.1,169.3 L723.6,166.7 L721.5,164.6 L721.2,162.0 L720.7,159.3 L721.0,156.6 L720.4,153.6 L722.8,151.6 L723.0,148.6 L725.4,146.9 L726.8,144.4 L729.7,143.7 L732.1,142.6 L734.7,142.2 L737.2,141.6 L739.7,141.8 L742.3,141.1 L744.6,142.6 L747.5,142.1 L749.6,143.9 L752.5,144.6 L753.8,147.1 L755.9,148.9 L756.7,151.5 L758.3,153.9 L757.5,156.7 Z" fill="#d8787d" stroke="#c2616a" stroke-width="0.9" stroke-linejoin="round" opacity="1.0"/>
<path d="M748.4,159.3 L747.0,162.8 L744.7,165.5 L741.5,167.4 L737.8,167.5 L734.7,165.6 L731.9,163.0 L730.9,159.3 L732.0,155.6 L734.2,152.4 L738.0,151.6 L741.6,151.2 L744.9,152.8 L746.8,155.9 Z" fill="#b0535d" opacity="1.0"/>
<g clip-path="url(#cell)">
<rect x="0" y="300" width="469.5" height="531" fill="#f6fafd"/>
<rect x="469.5" y="300" width="470" height="531" fill="#faf0ef"/>
</g>
<ellipse cx="468.7" cy="788.1" rx="683.4" ry="452.6" fill="none" stroke="#afbcc8" stroke-width="18"/>
<ellipse cx="468.7" cy="788.1" rx="683.4" ry="452.6" fill="none" stroke="#e0effb" stroke-width="8"/>
<g clip-path="url(#L)">
<ellipse cx="558.7" cy="822.2" rx="194.5" ry="205.2" fill="#e1eef6"/>
<ellipse cx="558.7" cy="822.2" rx="194.5" ry="205.2" fill="none" stroke="#a7b5d1" stroke-width="3.4" stroke-dasharray="20 11.5" stroke-dashoffset="22.09" stroke-linecap="round"/>
<ellipse cx="558.7" cy="822.2" rx="194.5" ry="205.2" fill="none" stroke="#c3cde2" stroke-width="1.3" stroke-dasharray="20 11.5" stroke-dashoffset="22.09" stroke-linecap="round"/>
</g>
<g clip-path="url(#R)">
<ellipse cx="558.7" cy="822.2" rx="194.5" ry="205.2" fill="#f4e0de"/>
<ellipse cx="558.7" cy="822.2" rx="194.5" ry="205.2" fill="none" stroke="#e6bcc0" stroke-width="3.4" stroke-dasharray="20 11.5" stroke-dashoffset="22.09" stroke-linecap="round"/>
<ellipse cx="558.7" cy="822.2" rx="194.5" ry="205.2" fill="none" stroke="#f1d3d5" stroke-width="1.3" stroke-dasharray="20 11.5" stroke-dashoffset="22.09" stroke-linecap="round"/>
</g>
<text x="12.10" y="296" font-size="16.5" fill="#111" stroke="#111" stroke-width="0.32" font-weight="bold" textLength="151.09" lengthAdjust="spacingAndGlyphs" >OXA sensitive cell</text>
<text x="755.00" y="296" font-size="16.5" fill="#111" stroke="#111" stroke-width="0.32" font-weight="bold" textLength="162.75" lengthAdjust="spacingAndGlyphs" >OXA resistance cell</text>
<text x="16.88" y="330" font-size="15.3" fill="#111" stroke="#111" stroke-width="0.32" font-weight="bold" textLength="86.26" lengthAdjust="spacingAndGlyphs" >Ferroptosis</text>
<line x1="110.7" y1="337" x2="110.7" y2="323" stroke="#e4121b" stroke-width="2.6"/>
<path d="M110.7,316.0 L115.7,325.0 L105.7,325.0 Z" fill="#e4121b"/>
<text x="667.98" y="331.3" font-size="15.3" fill="#111" stroke="#111" stroke-width="0.32" font-weight="bold" textLength="86.16" lengthAdjust="spacingAndGlyphs" >Ferroptosis</text>
<line x1="662.9" y1="319" x2="662.9" y2="332" stroke="#8aa5d5" stroke-width="2"/>
<path d="M662.9,338.0 L657.9,330.0 L667.9,330.0 Z" fill="#8aa5d5"/>
<path d="M88.0,388.0 C85.3,387.8 82.8,381.3 80.0,381.0 C77.2,380.7 74.0,386.0 71.0,386.0 C68.0,386.0 64.7,383.3 62.0,381.0 C59.3,378.7 55.8,374.7 55.0,372.0 C54.2,369.3 55.8,366.7 57.0,365.0 C58.2,363.3 59.8,362.7 62.0,362.0 C64.2,361.3 68.2,362.5 70.0,361.0 C71.8,359.5 71.8,355.7 73.0,353.0 C74.2,350.3 75.7,346.7 77.0,345.0 C78.3,343.3 80.0,342.3 81.0,343.0 C82.0,343.7 81.8,347.3 83.0,349.0 C84.2,350.7 86.3,352.0 88.0,353.0 C89.7,354.0 92.0,353.3 93.0,355.0 C94.0,356.7 94.3,360.3 94.0,363.0 C93.7,365.7 90.7,367.8 91.0,371.0 C91.3,374.2 96.5,379.2 96.0,382.0 C95.5,384.8 90.7,388.2 88.0,388.0 Z" fill="#f4b3bc" stroke="#f4b3bc" stroke-width="2.5" stroke-linejoin="round"/>
<path d="M88.0,388.0 C85.3,387.8 82.8,381.3 80.0,381.0 C77.2,380.7 74.0,386.0 71.0,386.0 C68.0,386.0 64.7,383.3 62.0,381.0 C59.3,378.7 55.8,374.7 55.0,372.0 C54.2,369.3 55.8,366.7 57.0,365.0 C58.2,363.3 59.8,362.7 62.0,362.0 C64.2,361.3 68.2,362.5 70.0,361.0 C71.8,359.5 71.8,355.7 73.0,353.0 C74.2,350.3 75.7,346.7 77.0,345.0 C78.3,343.3 80.0,342.3 81.0,343.0 C82.0,343.7 81.8,347.3 83.0,349.0 C84.2,350.7 86.3,352.0 88.0,353.0 C89.7,354.0 92.0,353.3 93.0,355.0 C94.0,356.7 94.3,360.3 94.0,363.0 C93.7,365.7 90.7,367.8 91.0,371.0 C91.3,374.2 96.5,379.2 96.0,382.0 C95.5,384.8 90.7,388.2 88.0,388.0 Z" fill="#ea7f8e"/>
<path d="M92.0,434.0 C93.7,434.0 94.7,439.3 97.0,441.0 C99.3,442.7 103.8,442.5 106.0,444.0 C108.2,445.5 110.3,448.7 110.0,450.0 C109.7,451.3 106.0,451.0 104.0,452.0 C102.0,453.0 100.0,454.5 98.0,456.0 C96.0,457.5 94.2,460.5 92.0,461.0 C89.8,461.5 87.0,460.2 85.0,459.0 C83.0,457.8 80.0,455.8 80.0,454.0 C80.0,452.2 83.8,450.2 85.0,448.0 C86.2,445.8 85.8,443.3 87.0,441.0 C88.2,438.7 90.3,434.0 92.0,434.0 Z" fill="#f4b3bc" stroke="#f4b3bc" stroke-width="2.5" stroke-linejoin="round"/>
<path d="M92.0,434.0 C93.7,434.0 94.7,439.3 97.0,441.0 C99.3,442.7 103.8,442.5 106.0,444.0 C108.2,445.5 110.3,448.7 110.0,450.0 C109.7,451.3 106.0,451.0 104.0,452.0 C102.0,453.0 100.0,454.5 98.0,456.0 C96.0,457.5 94.2,460.5 92.0,461.0 C89.8,461.5 87.0,460.2 85.0,459.0 C83.0,457.8 80.0,455.8 80.0,454.0 C80.0,452.2 83.8,450.2 85.0,448.0 C86.2,445.8 85.8,443.3 87.0,441.0 C88.2,438.7 90.3,434.0 92.0,434.0 Z" fill="#ea7f8e"/>
<path d="M121.0,399.0 C121.2,396.8 125.0,394.2 127.0,392.0 C129.0,389.8 131.8,385.8 133.0,386.0 C134.2,386.2 132.7,391.0 134.0,393.0 C135.3,395.0 139.3,396.5 141.0,398.0 C142.7,399.5 144.8,401.2 144.0,402.0 C143.2,402.8 139.0,402.5 136.0,403.0 C133.0,403.5 128.5,405.7 126.0,405.0 C123.5,404.3 120.8,401.2 121.0,399.0 Z" fill="#f4b3bc" stroke="#f4b3bc" stroke-width="2.5" stroke-linejoin="round"/>
<path d="M121.0,399.0 C121.2,396.8 125.0,394.2 127.0,392.0 C129.0,389.8 131.8,385.8 133.0,386.0 C134.2,386.2 132.7,391.0 134.0,393.0 C135.3,395.0 139.3,396.5 141.0,398.0 C142.7,399.5 144.8,401.2 144.0,402.0 C143.2,402.8 139.0,402.5 136.0,403.0 C133.0,403.5 128.5,405.7 126.0,405.0 C123.5,404.3 120.8,401.2 121.0,399.0 Z" fill="#ea7f8e"/>
<ellipse cx="53" cy="359" rx="3.5" ry="2" transform="rotate(-20 53 359)" fill="#ee95a1"/>
<ellipse cx="89" cy="343" rx="1.8" ry="3.5" transform="rotate(-20 89 343)" fill="#ee95a1"/>
<ellipse cx="89" cy="462.5" rx="3" ry="1.5" transform="rotate(-10 89 462.5)" fill="#ee95a1"/>
<ellipse cx="119" cy="455" rx="1.8" ry="3" transform="rotate(-30 119 455)" fill="#ee95a1"/>
<ellipse cx="133" cy="377" rx="2.5" ry="1.5" transform="rotate(-40 133 377)" fill="#ee95a1"/>
<ellipse cx="149" cy="403" rx="2.5" ry="1.3" transform="rotate(0 149 403)" fill="#ee95a1"/>
<path d="M122.8,409.6 C122.9,411.0 123.4,412.5 123.3,413.9 C123.2,415.3 122.8,416.8 122.3,418.1 C121.8,419.4 120.9,420.5 120.3,421.7 C119.7,422.9 119.3,424.3 118.6,425.5 C117.9,426.6 116.9,427.6 116.1,428.6 C115.2,429.7 114.3,430.7 113.3,431.6 C112.3,432.5 111.3,433.5 110.1,434.0 C109.0,434.5 107.6,434.5 106.3,434.8 C105.1,435.0 103.9,435.3 102.7,435.6 C101.5,436.0 100.2,437.0 99.0,437.1 C97.8,437.1 96.5,436.4 95.2,436.2 C94.0,435.9 92.6,436.1 91.4,435.6 C90.3,435.1 89.4,433.8 88.3,433.1 C87.2,432.4 85.9,432.1 84.8,431.4 C83.7,430.7 82.6,429.9 81.7,428.9 C80.8,427.9 80.5,426.4 79.7,425.3 C78.9,424.1 77.7,423.3 77.0,422.1 C76.3,420.9 75.7,419.5 75.5,418.1 C75.3,416.7 75.7,415.1 75.7,413.7 C75.6,412.3 75.5,411.0 75.4,409.6 C75.3,408.2 75.0,406.8 75.0,405.4 C75.1,403.9 75.1,402.4 75.5,401.1 C75.9,399.7 76.9,398.6 77.6,397.4 C78.3,396.2 79.0,395.1 79.7,394.0 C80.4,392.8 81.1,391.5 82.0,390.6 C82.9,389.6 84.1,389.1 85.1,388.3 C86.1,387.5 87.1,386.6 88.2,385.9 C89.2,385.2 90.4,384.5 91.5,384.0 C92.7,383.5 94.0,383.1 95.2,382.9 C96.5,382.8 97.7,382.9 99.0,383.0 C100.3,383.0 101.5,383.1 102.7,383.3 C104.0,383.5 105.2,383.9 106.4,384.3 C107.6,384.7 108.8,385.0 110.0,385.6 C111.1,386.2 112.1,387.1 113.1,388.0 C114.0,388.9 114.7,390.1 115.7,391.0 C116.7,391.9 118.1,392.4 118.9,393.5 C119.7,394.5 120.1,396.0 120.6,397.3 C121.2,398.6 121.9,399.8 122.2,401.2 C122.5,402.6 122.4,404.0 122.5,405.4 C122.6,406.8 122.6,408.2 122.8,409.6 Z" fill="#c83447" stroke="#dc4c5f" stroke-width="2.2"/>
<path d="M85,393.6 C95,387.6 109,389.6 115,399.6" fill="none" stroke="#b82c3f" stroke-width="3" opacity="0.6"/>
<path d="M87,412.6 C85,401.6 93,399.6 96,405.6 C99,411.6 93,413.6 90,417.6 Z" fill="#d85466" opacity="0.9"/>
<path d="M103,424.6 C102,417.6 109,415.6 113,418.6 C115,421.6 110,422.6 108,426.6 Z" fill="#d85466" opacity="0.9"/>
<path d="M79.8,415.6 C77.8,407.6 79.8,401.6 83.8,396.6" fill="none" stroke="#f2c3c9" stroke-width="1.2"/>
<circle cx="101.6" cy="439.2" r="1.0" fill="#9e1b2e"/>
<circle cx="115.4" cy="433.7" r="1.0" fill="#9e1b2e"/>
<circle cx="135.2" cy="389.1" r="1.3" fill="#9e1b2e"/>
<circle cx="105.5" cy="446.1" r="0.9" fill="#9e1b2e"/>
<circle cx="112.9" cy="436.0" r="0.9" fill="#9e1b2e"/>
<circle cx="136.8" cy="391.1" r="1.3" fill="#9e1b2e"/>
<circle cx="108.8" cy="379.9" r="0.9" fill="#9e1b2e"/>
<circle cx="70.8" cy="380.7" r="1.4" fill="#9e1b2e"/>
<circle cx="120.5" cy="389.4" r="1.2" fill="#9e1b2e"/>
<circle cx="81.7" cy="377.3" r="0.8" fill="#9e1b2e"/>
<circle cx="69.9" cy="414.5" r="1.4" fill="#9e1b2e"/>
<circle cx="123.8" cy="381.7" r="0.9" fill="#9e1b2e"/>
<circle cx="130.7" cy="389.2" r="1.4" fill="#9e1b2e"/>
<circle cx="120.2" cy="379.7" r="1.0" fill="#9e1b2e"/>
<circle cx="70.3" cy="389.0" r="0.8" fill="#9e1b2e"/>
<circle cx="84.8" cy="448.9" r="0.7" fill="#9e1b2e"/>
<circle cx="136.0" cy="420.7" r="0.9" fill="#9e1b2e"/>
<circle cx="63.8" cy="401.8" r="1.0" fill="#9e1b2e"/>
<circle cx="130.3" cy="409.1" r="1.0" fill="#9e1b2e"/>
<circle cx="110.4" cy="446.7" r="0.9" fill="#9e1b2e"/>
<circle cx="73.9" cy="441.6" r="1.0" fill="#9e1b2e"/>
<circle cx="58.5" cy="394.0" r="0.8" fill="#9e1b2e"/>
<circle cx="128.5" cy="421.6" r="1.3" fill="#9e1b2e"/>
<circle cx="75.0" cy="388.3" r="1.0" fill="#9e1b2e"/>
<circle cx="114.7" cy="441.8" r="0.7" fill="#9e1b2e"/>
<circle cx="84.9" cy="368.7" r="1.5" fill="#9e1b2e"/>
<circle cx="94.8" cy="365.5" r="0.7" fill="#9e1b2e"/>
<circle cx="88.2" cy="452.7" r="1.3" fill="#9e1b2e"/>
<circle cx="61.8" cy="433.1" r="1.2" fill="#9e1b2e"/>
<circle cx="112.7" cy="379.6" r="0.9" fill="#9e1b2e"/>
<circle cx="70.5" cy="420.0" r="1.0" fill="#9e1b2e"/>
<circle cx="131.7" cy="401.6" r="0.7" fill="#9e1b2e"/>
<circle cx="128.7" cy="418.2" r="1.3" fill="#9e1b2e"/>
<circle cx="77.6" cy="434.6" r="0.8" fill="#9e1b2e"/>
<circle cx="134.0" cy="405.6" r="0.9" fill="#9e1b2e"/>
<circle cx="126.0" cy="420.1" r="0.8" fill="#9e1b2e"/>
<circle cx="85.4" cy="382.2" r="0.7" fill="#9e1b2e"/>
<circle cx="66.8" cy="411.5" r="1.5" fill="#9e1b2e"/>
<circle cx="125.6" cy="435.3" r="1.3" fill="#9e1b2e"/>
<circle cx="61.3" cy="433.8" r="1.1" fill="#9e1b2e"/>
<path d="M770.0,346.0 C768.0,344.3 766.3,339.0 765.0,336.0 C763.7,333.0 762.8,330.7 762.0,328.0 C761.2,325.3 759.8,322.3 760.0,320.0 C760.2,317.7 761.5,315.5 763.0,314.0 C764.5,312.5 767.0,311.3 769.0,311.0 C771.0,310.7 773.2,311.0 775.0,312.0 C776.8,313.0 778.2,316.3 780.0,317.0 C781.8,317.7 783.8,316.5 786.0,316.0 C788.2,315.5 790.7,314.2 793.0,314.0 C795.3,313.8 798.0,314.3 800.0,315.0 C802.0,315.7 804.0,316.5 805.0,318.0 C806.0,319.5 806.7,322.2 806.0,324.0 C805.3,325.8 803.3,327.5 801.0,329.0 C798.7,330.5 794.7,331.7 792.0,333.0 C789.3,334.3 787.2,335.7 785.0,337.0 C782.8,338.3 780.3,339.5 779.0,341.0 C777.7,342.5 778.5,345.2 777.0,346.0 C775.5,346.8 772.0,347.7 770.0,346.0 Z" fill="#f4b3bc" stroke="#f4b3bc" stroke-width="2.5" stroke-linejoin="round"/>
<path d="M770.0,346.0 C768.0,344.3 766.3,339.0 765.0,336.0 C763.7,333.0 762.8,330.7 762.0,328.0 C761.2,325.3 759.8,322.3 760.0,320.0 C760.2,317.7 761.5,315.5 763.0,314.0 C764.5,312.5 767.0,311.3 769.0,311.0 C771.0,310.7 773.2,311.0 775.0,312.0 C776.8,313.0 778.2,316.3 780.0,317.0 C781.8,317.7 783.8,316.5 786.0,316.0 C788.2,315.5 790.7,314.2 793.0,314.0 C795.3,313.8 798.0,314.3 800.0,315.0 C802.0,315.7 804.0,316.5 805.0,318.0 C806.0,319.5 806.7,322.2 806.0,324.0 C805.3,325.8 803.3,327.5 801.0,329.0 C798.7,330.5 794.7,331.7 792.0,333.0 C789.3,334.3 787.2,335.7 785.0,337.0 C782.8,338.3 780.3,339.5 779.0,341.0 C777.7,342.5 778.5,345.2 777.0,346.0 C775.5,346.8 772.0,347.7 770.0,346.0 Z" fill="#ea7f8e"/>
<path d="M741.0,382.0 C739.8,381.0 738.8,384.0 737.0,384.0 C735.2,384.0 732.5,382.0 730.0,382.0 C727.5,382.0 724.3,382.7 722.0,384.0 C719.7,385.3 716.3,388.0 716.0,390.0 C715.7,392.0 718.0,394.3 720.0,396.0 C722.0,397.7 725.3,398.8 728.0,400.0 C730.7,401.2 733.8,403.3 736.0,403.0 C738.2,402.7 739.7,400.2 741.0,398.0 C742.3,395.8 744.0,392.7 744.0,390.0 C744.0,387.3 742.2,383.0 741.0,382.0 Z" fill="#f4b3bc" stroke="#f4b3bc" stroke-width="2.5" stroke-linejoin="round"/>
<path d="M741.0,382.0 C739.8,381.0 738.8,384.0 737.0,384.0 C735.2,384.0 732.5,382.0 730.0,382.0 C727.5,382.0 724.3,382.7 722.0,384.0 C719.7,385.3 716.3,388.0 716.0,390.0 C715.7,392.0 718.0,394.3 720.0,396.0 C722.0,397.7 725.3,398.8 728.0,400.0 C730.7,401.2 733.8,403.3 736.0,403.0 C738.2,402.7 739.7,400.2 741.0,398.0 C742.3,395.8 744.0,392.7 744.0,390.0 C744.0,387.3 742.2,383.0 741.0,382.0 Z" fill="#ea7f8e"/>
<path d="M786.0,382.0 C787.0,379.8 790.3,380.8 793.0,381.0 C795.7,381.2 800.8,381.8 802.0,383.0 C803.2,384.2 801.2,386.5 800.0,388.0 C798.8,389.5 795.2,390.0 795.0,392.0 C794.8,394.0 799.3,398.3 799.0,400.0 C798.7,401.7 795.0,403.0 793.0,402.0 C791.0,401.0 788.2,397.3 787.0,394.0 C785.8,390.7 785.0,384.2 786.0,382.0 Z" fill="#f4b3bc" stroke="#f4b3bc" stroke-width="2.5" stroke-linejoin="round"/>
<path d="M786.0,382.0 C787.0,379.8 790.3,380.8 793.0,381.0 C795.7,381.2 800.8,381.8 802.0,383.0 C803.2,384.2 801.2,386.5 800.0,388.0 C798.8,389.5 795.2,390.0 795.0,392.0 C794.8,394.0 799.3,398.3 799.0,400.0 C798.7,401.7 795.0,403.0 793.0,402.0 C791.0,401.0 788.2,397.3 787.0,394.0 C785.8,390.7 785.0,384.2 786.0,382.0 Z" fill="#ea7f8e"/>
<ellipse cx="775" cy="306" rx="3.5" ry="2" transform="rotate(25 775 306)" fill="#ee95a1"/>
<ellipse cx="809" cy="322" rx="1.8" ry="3.8" transform="rotate(20 809 322)" fill="#ee95a1"/>
<ellipse cx="810" cy="378" rx="2.5" ry="1.5" transform="rotate(0 810 378)" fill="#ee95a1"/>
<ellipse cx="741" cy="414" rx="1.6" ry="2.8" transform="rotate(10 741 414)" fill="#ee95a1"/>
<ellipse cx="801" cy="407" rx="1.3" ry="2.5" transform="rotate(-30 801 407)" fill="#ee95a1"/>
<path d="M790.3,368.6 C790.5,369.9 791.0,371.3 790.9,372.6 C790.8,373.9 790.4,375.3 789.9,376.5 C789.3,377.7 788.4,378.8 787.7,379.9 C787.0,381.1 786.6,382.4 785.8,383.5 C785.1,384.6 784.1,385.5 783.1,386.4 C782.2,387.4 781.3,388.4 780.2,389.2 C779.1,390.1 778.0,391.0 776.8,391.5 C775.5,392.0 774.0,391.9 772.7,392.2 C771.3,392.4 770.1,392.6 768.8,393.0 C767.5,393.4 766.1,394.2 764.8,394.3 C763.5,394.4 762.1,393.7 760.7,393.5 C759.4,393.3 757.9,393.5 756.7,393.0 C755.4,392.5 754.5,391.2 753.3,390.6 C752.1,389.9 750.7,389.7 749.6,389.0 C748.4,388.4 747.1,387.6 746.2,386.7 C745.3,385.7 744.9,384.3 744.1,383.3 C743.2,382.2 741.9,381.5 741.1,380.3 C740.4,379.2 739.8,377.9 739.6,376.6 C739.3,375.3 739.7,373.8 739.7,372.5 C739.7,371.1 739.5,369.9 739.4,368.6 C739.3,367.3 739.0,366.0 739.1,364.6 C739.1,363.3 739.1,361.9 739.5,360.6 C740.0,359.4 741.0,358.3 741.8,357.2 C742.5,356.1 743.3,355.0 744.1,353.9 C744.8,352.9 745.5,351.7 746.5,350.8 C747.5,349.9 748.8,349.3 749.9,348.6 C751.0,347.9 752.0,347.0 753.2,346.4 C754.3,345.7 755.5,345.1 756.8,344.6 C758.1,344.2 759.4,343.8 760.7,343.6 C762.1,343.5 763.5,343.6 764.8,343.6 C766.1,343.7 767.5,343.7 768.8,343.9 C770.1,344.2 771.4,344.5 772.7,344.9 C774.0,345.2 775.4,345.5 776.6,346.1 C777.8,346.7 778.9,347.5 779.9,348.3 C780.9,349.2 781.7,350.3 782.7,351.1 C783.8,352.0 785.3,352.5 786.2,353.5 C787.1,354.5 787.4,355.9 788.0,357.1 C788.6,358.3 789.4,359.5 789.7,360.7 C790.0,362.0 790.0,363.4 790.1,364.7 C790.2,366.0 790.2,367.3 790.3,368.6 Z" fill="#c83447" stroke="#dc4c5f" stroke-width="2.2"/>
<path d="M750.8,352.6 C760.8,346.6 774.8,348.6 780.8,358.6" fill="none" stroke="#b82c3f" stroke-width="3" opacity="0.6"/>
<path d="M752.8,371.6 C750.8,360.6 758.8,358.6 761.8,364.6 C764.8,370.6 758.8,372.6 755.8,376.6 Z" fill="#d85466" opacity="0.9"/>
<path d="M768.8,383.6 C767.8,376.6 774.8,374.6 778.8,377.6 C780.8,380.6 775.8,381.6 773.8,385.6 Z" fill="#d85466" opacity="0.9"/>
<path d="M743.8,374.6 C741.8,366.6 743.8,360.6 747.8,355.6" fill="none" stroke="#f2c3c9" stroke-width="1.2"/>
<circle cx="731.1" cy="376.6" r="0.8" fill="#9e1b2e"/>
<circle cx="784.3" cy="347.0" r="1.1" fill="#9e1b2e"/>
<circle cx="789.1" cy="350.6" r="1.1" fill="#9e1b2e"/>
<circle cx="742.8" cy="348.8" r="1.0" fill="#9e1b2e"/>
<circle cx="754.5" cy="334.3" r="1.3" fill="#9e1b2e"/>
<circle cx="782.7" cy="395.8" r="0.8" fill="#9e1b2e"/>
<circle cx="722.0" cy="366.9" r="1.2" fill="#9e1b2e"/>
<circle cx="770.1" cy="334.2" r="1.3" fill="#9e1b2e"/>
<circle cx="791.6" cy="388.5" r="1.2" fill="#9e1b2e"/>
<circle cx="759.4" cy="333.7" r="0.8" fill="#9e1b2e"/>
<circle cx="761.4" cy="400.6" r="0.9" fill="#9e1b2e"/>
<circle cx="776.5" cy="338.8" r="1.4" fill="#9e1b2e"/>
<circle cx="786.5" cy="348.1" r="1.0" fill="#9e1b2e"/>
<circle cx="735.5" cy="370.1" r="1.0" fill="#9e1b2e"/>
<circle cx="790.3" cy="351.6" r="1.2" fill="#9e1b2e"/>
<circle cx="792.1" cy="394.6" r="1.4" fill="#9e1b2e"/>
<circle cx="773.3" cy="396.5" r="0.8" fill="#9e1b2e"/>
<circle cx="736.4" cy="361.4" r="0.8" fill="#9e1b2e"/>
<circle cx="722.0" cy="369.5" r="1.0" fill="#9e1b2e"/>
<circle cx="733.9" cy="391.6" r="0.8" fill="#9e1b2e"/>
<circle cx="737.1" cy="353.4" r="1.2" fill="#9e1b2e"/>
<circle cx="793.6" cy="360.9" r="1.1" fill="#9e1b2e"/>
<circle cx="740.3" cy="349.2" r="0.9" fill="#9e1b2e"/>
<circle cx="808.7" cy="367.2" r="0.8" fill="#9e1b2e"/>
<circle cx="752.9" cy="327.0" r="0.9" fill="#9e1b2e"/>
<circle cx="742.1" cy="349.5" r="1.0" fill="#9e1b2e"/>
<circle cx="747.4" cy="335.0" r="1.3" fill="#9e1b2e"/>
<circle cx="794.1" cy="386.3" r="1.4" fill="#9e1b2e"/>
<circle cx="733.9" cy="350.6" r="1.0" fill="#9e1b2e"/>
<circle cx="802.3" cy="365.3" r="0.7" fill="#9e1b2e"/>
<circle cx="775.2" cy="336.3" r="1.0" fill="#9e1b2e"/>
<circle cx="772.9" cy="403.3" r="1.0" fill="#9e1b2e"/>
<circle cx="797.4" cy="389.0" r="0.8" fill="#9e1b2e"/>
<circle cx="771.0" cy="339.9" r="1.3" fill="#9e1b2e"/>
<circle cx="777.7" cy="334.5" r="1.3" fill="#9e1b2e"/>
<circle cx="765.2" cy="408.7" r="1.0" fill="#9e1b2e"/>
<circle cx="770.0" cy="411.8" r="1.0" fill="#9e1b2e"/>
<circle cx="735.6" cy="398.6" r="1.0" fill="#9e1b2e"/>
<circle cx="749.2" cy="341.2" r="1.4" fill="#9e1b2e"/>
<circle cx="763.1" cy="398.3" r="1.5" fill="#9e1b2e"/>
<g transform="translate(210.5 368.2) rotate(-20)">
<path d="M-7,-21 Q0,-17 7,-21 L7,21 Q0,17 -7,21 Z" fill="#4a8eaf"/>
<path d="M-3,-18 L-3,18" stroke="#3f7fa0" stroke-width="2" opacity="0.5"/>
<rect x="-16.5" y="-24" width="11" height="48" rx="5.5" fill="#6ea8c8" stroke="#4f8fb2" stroke-width="1"/>
<rect x="5.5" y="-24" width="11" height="48" rx="5.5" fill="#6ea8c8" stroke="#4f8fb2" stroke-width="1"/>
</g>
<circle cx="193.4" cy="328" r="9.5" fill="#8a471c"/>
<circle cx="193.4" cy="328" r="8.6" fill="#9c5523"/>
<text x="185.18" y="331.7" font-size="10.5" fill="#f3e6dc" stroke="#f3e6dc" stroke-width="0.12" font-weight="bold" textLength="17.34" lengthAdjust="spacingAndGlyphs" >OXA</text>
<circle cx="210.5" cy="368" r="9" fill="#8a471c"/>
<circle cx="210.5" cy="368" r="8.1" fill="#9c5523"/>
<text x="202.28" y="371.7" font-size="10.5" fill="#f3e6dc" stroke="#f3e6dc" stroke-width="0.12" font-weight="bold" textLength="17.34" lengthAdjust="spacingAndGlyphs" >OXA</text>
<circle cx="187" cy="419.7" r="9.5" fill="#8a471c"/>
<circle cx="187" cy="419.7" r="8.6" fill="#9c5523"/>
<text x="178.78" y="423.4" font-size="10.5" fill="#f3e6dc" stroke="#f3e6dc" stroke-width="0.12" font-weight="bold" textLength="17.34" lengthAdjust="spacingAndGlyphs" >OXA</text>
<path d="M208.7,400 C210,425 190,442 168,448" fill="none" stroke="#222" stroke-width="3"/>
<path d="M159.7,449.5 L170.7,441.9 L172.4,453.8 Z" fill="#222"/>
<line x1="203" y1="493" x2="203" y2="446" stroke="#222" stroke-width="2.6"/>
<path d="M203.0,437.3 L209.0,448.3 L197.0,448.3 Z" fill="#222"/>
<circle cx="203" cy="465.5" r="9.5" fill="none" stroke="#d42a2f" stroke-width="2.2"/>
<line x1="196.3" y1="458.8" x2="209.7" y2="472.2" stroke="#d42a2f" stroke-width="2.2"/>
<rect x="172.15" y="496.15" width="70.20" height="30.70" rx="15.35" ry="15.35" fill="#fcefc1" stroke="#c99d38" stroke-width="2.3"/>
<text x="181.48" y="517.4" font-size="15" fill="#111" stroke="#111" stroke-width="0.32" font-weight="bold" textLength="52.55" lengthAdjust="spacingAndGlyphs" >PCBP2</text>
<path d="M250,513.5 C285,513 290,530 290.3,560 L290.3,584" fill="none" stroke="#222" stroke-width="2.6"/>
<path d="M290.3,594.3 L284.8,583.3 L295.8,583.3 Z" fill="#222"/>
<circle cx="240.2" cy="657.9" r="7.8" fill="#fbf5d6" stroke="#ac8d3c" stroke-width="1.6"/>
<text x="235.57" y="660.8" font-size="8" fill="#404040" stroke="#404040" stroke-width="0.12" font-weight="bold" textLength="9.54" lengthAdjust="spacingAndGlyphs" >Ub</text>
<circle cx="240.2" cy="647.8" r="7.8" fill="#fbf5d6" stroke="#ac8d3c" stroke-width="1.6"/>
<text x="235.57" y="650.7" font-size="8" fill="#404040" stroke="#404040" stroke-width="0.12" font-weight="bold" textLength="9.54" lengthAdjust="spacingAndGlyphs" >Ub</text>
<circle cx="249.6" cy="631" r="7.8" fill="#fbf5d6" stroke="#ac8d3c" stroke-width="1.6"/>
<text x="244.97" y="633.9" font-size="8" fill="#404040" stroke="#404040" stroke-width="0.12" font-weight="bold" textLength="9.54" lengthAdjust="spacingAndGlyphs" >Ub</text>
<circle cx="250.3" cy="640.8" r="7.8" fill="#fbf5d6" stroke="#ac8d3c" stroke-width="1.6"/>
<text x="245.67" y="643.7" font-size="8" fill="#404040" stroke="#404040" stroke-width="0.12" font-weight="bold" textLength="9.54" lengthAdjust="spacingAndGlyphs" >Ub</text>
<rect x="255.00" y="637.60" width="73.40" height="33.60" rx="16.80" ry="16.80" fill="#c6ebe2" stroke="#2e8a4b" stroke-width="2.0"/>
<text x="268.61" y="659.7" font-size="15.5" fill="#111" stroke="#111" stroke-width="0.32" font-weight="bold" textLength="47.03" lengthAdjust="spacingAndGlyphs" >ARIH2</text>
<rect x="257.15" y="604.95" width="69.70" height="31.20" rx="15.60" ry="15.60" fill="#fcefc1" stroke="#c99d38" stroke-width="2.3"/>
<text x="265.77" y="626.5" font-size="15.5" fill="#111" stroke="#111" stroke-width="0.32" font-weight="bold" textLength="52.75" lengthAdjust="spacingAndGlyphs" >PCBP2</text>
<circle cx="307.2" cy="680.3" r="5.0" fill="#5cb6d9" stroke="#45a0c6" stroke-width="0.7"/>
<circle cx="300.7" cy="684.1" r="5.0" fill="#5cb6d9" stroke="#45a0c6" stroke-width="0.7"/>
<circle cx="297.5" cy="689.5" r="5.0" fill="#5cb6d9" stroke="#45a0c6" stroke-width="0.7"/>
<circle cx="297.0" cy="694.5" r="5.0" fill="#5cb6d9" stroke="#45a0c6" stroke-width="0.7"/>
<circle cx="306.7" cy="693.3" r="5.0" fill="#5cb6d9" stroke="#45a0c6" stroke-width="0.7"/>
<circle cx="316.4" cy="693.3" r="5.0" fill="#5cb6d9" stroke="#45a0c6" stroke-width="0.7"/>
<circle cx="326.1" cy="693.3" r="5.0" fill="#5cb6d9" stroke="#45a0c6" stroke-width="0.7"/>
<circle cx="297.0" cy="697.7" r="5.0" fill="#5cb6d9" stroke="#45a0c6" stroke-width="0.7"/>
<circle cx="304.5" cy="699.7" r="5.0" fill="#5cb6d9" stroke="#45a0c6" stroke-width="0.7"/>
<circle cx="312.0" cy="700.7" r="5.0" fill="#5cb6d9" stroke="#45a0c6" stroke-width="0.7"/>
<circle cx="319.5" cy="699.7" r="5.0" fill="#5cb6d9" stroke="#45a0c6" stroke-width="0.7"/>
<circle cx="327.0" cy="697.7" r="5.0" fill="#5cb6d9" stroke="#45a0c6" stroke-width="0.7"/>
<circle cx="297.0" cy="704.8" r="5.0" fill="#5b72b9" stroke="#4a60a5" stroke-width="0.7"/>
<circle cx="304.5" cy="706.8" r="5.0" fill="#5b72b9" stroke="#4a60a5" stroke-width="0.7"/>
<circle cx="312.0" cy="707.8" r="5.0" fill="#5b72b9" stroke="#4a60a5" stroke-width="0.7"/>
<circle cx="319.5" cy="706.8" r="5.0" fill="#5b72b9" stroke="#4a60a5" stroke-width="0.7"/>
<circle cx="327.0" cy="704.8" r="5.0" fill="#5b72b9" stroke="#4a60a5" stroke-width="0.7"/>
<circle cx="297.0" cy="711.3" r="5.0" fill="#6cc47d" stroke="#57b06a" stroke-width="0.7"/>
<circle cx="304.5" cy="713.3" r="5.0" fill="#6cc47d" stroke="#57b06a" stroke-width="0.7"/>
<circle cx="312.0" cy="714.3" r="5.0" fill="#6cc47d" stroke="#57b06a" stroke-width="0.7"/>
<circle cx="319.5" cy="713.3" r="5.0" fill="#6cc47d" stroke="#57b06a" stroke-width="0.7"/>
<circle cx="327.0" cy="711.3" r="5.0" fill="#6cc47d" stroke="#57b06a" stroke-width="0.7"/>
<circle cx="297.0" cy="718.3" r="5.0" fill="#6cc47d" stroke="#57b06a" stroke-width="0.7"/>
<circle cx="304.5" cy="720.3" r="5.0" fill="#6cc47d" stroke="#57b06a" stroke-width="0.7"/>
<circle cx="312.0" cy="721.3" r="5.0" fill="#6cc47d" stroke="#57b06a" stroke-width="0.7"/>
<circle cx="319.5" cy="720.3" r="5.0" fill="#6cc47d" stroke="#57b06a" stroke-width="0.7"/>
<circle cx="327.0" cy="718.3" r="5.0" fill="#6cc47d" stroke="#57b06a" stroke-width="0.7"/>
<circle cx="297.0" cy="727.0" r="5.0" fill="#5b72b9" stroke="#4a60a5" stroke-width="0.7"/>
<circle cx="304.5" cy="729.0" r="5.0" fill="#5b72b9" stroke="#4a60a5" stroke-width="0.7"/>
<circle cx="312.0" cy="730.0" r="5.0" fill="#5b72b9" stroke="#4a60a5" stroke-width="0.7"/>
<circle cx="319.5" cy="729.0" r="5.0" fill="#5b72b9" stroke="#4a60a5" stroke-width="0.7"/>
<circle cx="327.0" cy="727.0" r="5.0" fill="#5b72b9" stroke="#4a60a5" stroke-width="0.7"/>
<circle cx="297.0" cy="734.0" r="5.0" fill="#5cb6d9" stroke="#45a0c6" stroke-width="0.7"/>
<circle cx="304.5" cy="736.0" r="5.0" fill="#5cb6d9" stroke="#45a0c6" stroke-width="0.7"/>
<circle cx="312.0" cy="737.0" r="5.0" fill="#5cb6d9" stroke="#45a0c6" stroke-width="0.7"/>
<circle cx="319.5" cy="736.0" r="5.0" fill="#5cb6d9" stroke="#45a0c6" stroke-width="0.7"/>
<circle cx="327.0" cy="734.0" r="5.0" fill="#5cb6d9" stroke="#45a0c6" stroke-width="0.7"/>
<circle cx="327.8" cy="739.3" r="5.3" fill="#5cb6d9" stroke="#45a0c6" stroke-width="0.7"/>
<circle cx="322.9" cy="744.7" r="5.3" fill="#5cb6d9" stroke="#45a0c6" stroke-width="0.7"/>
<circle cx="316.4" cy="748.5" r="5.3" fill="#5cb6d9" stroke="#45a0c6" stroke-width="0.7"/>
<path d="M290.6,689 C292,712 272,727 252,728.6" fill="none" stroke="#222" stroke-width="2.6"/>
<path d="M244.0,728.6 L254.0,723.1 L254.0,734.1 Z" fill="#222"/>
<path d="M-3.5,-2.1 L3.5,-2.4 L0.4,3.1 Z" transform="translate(188.8 701.7) rotate(20)" fill="#f6e2b0" stroke="#c8a463" stroke-width="1.1" stroke-linejoin="round" opacity="1"/>
<path d="M-3.2,-1.9 L3.2,-2.2 L0.3,2.9 Z" transform="translate(207 703.6) rotate(200)" fill="#f6e2b0" stroke="#c8a463" stroke-width="1.1" stroke-linejoin="round" opacity="0.45"/>
<path d="M-5.5,-1.1 C-5.5,6.1 5.5,6.1 5.5,-1.1 C2.8,0.6 -2.8,0.6 -5.5,-1.1 Z" transform="translate(226.3 710.3) rotate(-150)" fill="#f6e2b0" stroke="#c8a463" stroke-width="1.1" stroke-linejoin="round" opacity="1"/>
<path d="M-4.8,-1.0 C-4.8,5.3 4.8,5.3 4.8,-1.0 C2.4,0.5 -2.4,0.5 -4.8,-1.0 Z" transform="translate(189.8 719) rotate(160)" fill="#f6e2b0" stroke="#c8a463" stroke-width="1.1" stroke-linejoin="round" opacity="1"/>
<path d="M-6.5,-1.3 C-6.5,7.2 6.5,7.2 6.5,-1.3 C3.2,0.7 -3.2,0.7 -6.5,-1.3 Z" transform="translate(206 719) rotate(0)" fill="#f6e2b0" stroke="#c8a463" stroke-width="1.1" stroke-linejoin="round" opacity="1"/>
<path d="M-4.2,-0.8 C-4.2,4.6 4.2,4.6 4.2,-0.8 C2.1,0.4 -2.1,0.4 -4.2,-0.8 Z" transform="translate(217.6 721.9) rotate(-60)" fill="#f6e2b0" stroke="#c8a463" stroke-width="1.1" stroke-linejoin="round" opacity="1"/>
<path d="M-3.2,-1.9 L3.2,-2.2 L0.3,2.9 Z" transform="translate(168.6 721.5) rotate(90)" fill="#f6e2b0" stroke="#c8a463" stroke-width="1.1" stroke-linejoin="round" opacity="0.45"/>
<path d="M-4.2,-0.8 C-4.2,4.6 4.2,4.6 4.2,-0.8 C2.1,0.4 -2.1,0.4 -4.2,-0.8 Z" transform="translate(198.4 729.5) rotate(110)" fill="#f6e2b0" stroke="#c8a463" stroke-width="1.1" stroke-linejoin="round" opacity="1"/>
<path d="M-5.2,-3.1 L5.2,-3.6 L0.5,4.7 Z" transform="translate(214.7 733.4) rotate(30)" fill="#f6e2b0" stroke="#c8a463" stroke-width="1.1" stroke-linejoin="round" opacity="1"/>
<path d="M-4.8,-1.0 C-4.8,5.3 4.8,5.3 4.8,-1.0 C2.4,0.5 -2.4,0.5 -4.8,-1.0 Z" transform="translate(228.2 728.6) rotate(170)" fill="#f6e2b0" stroke="#c8a463" stroke-width="1.1" stroke-linejoin="round" opacity="1"/>
<path d="M-3.8,-2.3 L3.8,-2.7 L0.4,3.4 Z" transform="translate(186 733.4) rotate(100)" fill="#f6e2b0" stroke="#c8a463" stroke-width="1.1" stroke-linejoin="round" opacity="1"/>
<path d="M-6.0,-1.2 C-6.0,6.6 6.0,6.6 6.0,-1.2 C3.0,0.6 -3.0,0.6 -6.0,-1.2 Z" transform="translate(206 743) rotate(180)" fill="#f6e2b0" stroke="#c8a463" stroke-width="1.1" stroke-linejoin="round" opacity="1"/>
<path d="M-3.8,-2.3 L3.8,-2.7 L0.4,3.4 Z" transform="translate(227.2 748.8) rotate(-20)" fill="#f6e2b0" stroke="#c8a463" stroke-width="1.1" stroke-linejoin="round" opacity="1"/>
<path d="M-3.2,-1.9 L3.2,-2.2 L0.3,2.9 Z" transform="translate(186 752.6) rotate(60)" fill="#f6e2b0" stroke="#c8a463" stroke-width="1.1" stroke-linejoin="round" opacity="0.45"/>
<path d="M-3.8,-2.3 L3.8,-2.7 L0.4,3.4 Z" transform="translate(208 756.4) rotate(200)" fill="#f6e2b0" stroke="#c8a463" stroke-width="1.1" stroke-linejoin="round" opacity="1"/>
<text x="235.58" y="759.3" font-size="13.5" fill="#333" stroke="#333" stroke-width="0.32" font-weight="bold" textLength="65.17" lengthAdjust="spacingAndGlyphs" >Degraded</text>
<text x="243.58" y="774.7" font-size="13.5" fill="#333" stroke="#333" stroke-width="0.32" font-weight="bold" textLength="47.18" lengthAdjust="spacingAndGlyphs" >PCBP2</text>
<rect x="6.20" y="765.80" width="138.00" height="36.20" rx="18.10" ry="18.10" fill="#eef3fb" stroke="#9db3d9" stroke-width="1.6"/>
<text x="16.90" y="790" font-size="15.5" fill="#111" stroke="#111" stroke-width="0.32" font-weight="bold" textLength="118.14" lengthAdjust="spacingAndGlyphs" >Warbuger effect</text>
<line x1="156.5" y1="772" x2="156.5" y2="795" stroke="#8aa5d5" stroke-width="2"/>
<path d="M156.5,801.0 L151.5,793.0 L161.5,793.0 Z" fill="#8aa5d5"/>
<line x1="372.2" y1="356.6" x2="372.2" y2="379.8" stroke="#8aa5d5" stroke-width="2"/>
<path d="M372.2,385.8 L367.2,377.8 L377.2,377.8 Z" fill="#8aa5d5"/>
<g transform="">
<polygon points="407.9,372 414.1,372 414.5,375.5 407.7,375.5" fill="#f3cbe9"/>
<polygon points="407.6,380.5 414.8,380.5 414.8,385 407.6,385" fill="#f3cbe9"/>
<polygon points="424.7,368 431.3,368 429.7,376 422.4,376" fill="#f3cbe9"/>
<polygon points="441,365 447.6,365 445.2,376 437.4,376" fill="#f3cbe9"/>
<line x1="385.0" y1="387" x2="385.0" y2="390.2" stroke="#eaa8dc" stroke-width="0.9"/>
<line x1="386.9" y1="387" x2="386.9" y2="390.2" stroke="#eaa8dc" stroke-width="0.9"/>
<line x1="388.8" y1="387" x2="388.8" y2="390.2" stroke="#eaa8dc" stroke-width="0.9"/>
<line x1="390.7" y1="387" x2="390.7" y2="390.2" stroke="#eaa8dc" stroke-width="0.9"/>
<line x1="392.6" y1="387" x2="392.6" y2="390.2" stroke="#eaa8dc" stroke-width="0.9"/>
<line x1="394.5" y1="387" x2="394.5" y2="390.2" stroke="#eaa8dc" stroke-width="0.9"/>
<line x1="396.4" y1="387" x2="396.4" y2="390.2" stroke="#eaa8dc" stroke-width="0.9"/>
<line x1="398.3" y1="387" x2="398.3" y2="390.2" stroke="#eaa8dc" stroke-width="0.9"/>
<line x1="400.2" y1="387" x2="400.2" y2="390.2" stroke="#eaa8dc" stroke-width="0.9"/>
<line x1="402.1" y1="387" x2="402.1" y2="390.2" stroke="#eaa8dc" stroke-width="0.9"/>
<line x1="404.0" y1="387" x2="404.0" y2="390.2" stroke="#eaa8dc" stroke-width="0.9"/>
<line x1="405.9" y1="387" x2="405.9" y2="390.2" stroke="#eaa8dc" stroke-width="0.9"/>
<path d="M379.1,385.9 L407.2,385.9 C407.5,381 407.6,375 407.6,371 A5.4,5.4 0 1 1 414,371 C414.3,373.5 417.8,375 417.5,377.5 C417.2,380 414.6,380.5 414.8,383.5 C415,386.5 419.5,387.5 420.4,383 L425.3,366 A5.4,5.4 0 1 1 431.7,366 L429.5,377 C429,381 435,383 436.7,378 L441.7,362.8 A5.4,5.4 0 1 1 448.1,362.8 L444.6,378.5 C444.5,382 446,383.5 448.5,384 L456.7,386.1" fill="none" stroke="#cd7dc4" stroke-width="1.9"/>
</g>
<text x="364.50" y="405.2" font-size="15" fill="#111" stroke="#111" stroke-width="0.32" font-weight="bold" textLength="86.13" lengthAdjust="spacingAndGlyphs" >BASP1-AS1</text>
<path d="M411.7,413.5 L411.7,428 Q411.7,434 405,434 L378,434" fill="none" stroke="#222" stroke-width="2.8"/>
<path d="M366.0,434.3 L379.0,428.1 L379.0,440.6 Z" fill="#222"/>
<circle cx="400.6" cy="433.6" r="9" fill="none" stroke="#d42a2f" stroke-width="2.2"/>
<line x1="394.2" y1="427.2" x2="407.0" y2="440.0" stroke="#d42a2f" stroke-width="2.2"/>
<g transform="translate(935.5 -1) scale(-1 1)">
<polygon points="407.9,372 414.1,372 414.5,375.5 407.7,375.5" fill="#f3cbe9"/>
<polygon points="407.6,380.5 414.8,380.5 414.8,385 407.6,385" fill="#f3cbe9"/>
<polygon points="424.7,368 431.3,368 429.7,376 422.4,376" fill="#f3cbe9"/>
<polygon points="441,365 447.6,365 445.2,376 437.4,376" fill="#f3cbe9"/>
<line x1="385.0" y1="387" x2="385.0" y2="390.2" stroke="#eaa8dc" stroke-width="0.9"/>
<line x1="386.9" y1="387" x2="386.9" y2="390.2" stroke="#eaa8dc" stroke-width="0.9"/>
<line x1="388.8" y1="387" x2="388.8" y2="390.2" stroke="#eaa8dc" stroke-width="0.9"/>
<line x1="390.7" y1="387" x2="390.7" y2="390.2" stroke="#eaa8dc" stroke-width="0.9"/>
<line x1="392.6" y1="387" x2="392.6" y2="390.2" stroke="#eaa8dc" stroke-width="0.9"/>
<line x1="394.5" y1="387" x2="394.5" y2="390.2" stroke="#eaa8dc" stroke-width="0.9"/>
<line x1="396.4" y1="387" x2="396.4" y2="390.2" stroke="#eaa8dc" stroke-width="0.9"/>
<line x1="398.3" y1="387" x2="398.3" y2="390.2" stroke="#eaa8dc" stroke-width="0.9"/>
<line x1="400.2" y1="387" x2="400.2" y2="390.2" stroke="#eaa8dc" stroke-width="0.9"/>
<line x1="402.1" y1="387" x2="402.1" y2="390.2" stroke="#eaa8dc" stroke-width="0.9"/>
<line x1="404.0" y1="387" x2="404.0" y2="390.2" stroke="#eaa8dc" stroke-width="0.9"/>
<line x1="405.9" y1="387" x2="405.9" y2="390.2" stroke="#eaa8dc" stroke-width="0.9"/>
<path d="M379.1,385.9 L407.2,385.9 C407.5,381 407.6,375 407.6,371 A5.4,5.4 0 1 1 414,371 C414.3,373.5 417.8,375 417.5,377.5 C417.2,380 414.6,380.5 414.8,383.5 C415,386.5 419.5,387.5 420.4,383 L425.3,366 A5.4,5.4 0 1 1 431.7,366 L429.5,377 C429,381 435,383 436.7,378 L441.7,362.8 A5.4,5.4 0 1 1 448.1,362.8 L444.6,378.5 C444.5,382 446,383.5 448.5,384 L456.7,386.1" fill="none" stroke="#cd7dc4" stroke-width="1.9"/>
</g>
<line x1="564" y1="385.3" x2="564" y2="362.5" stroke="#e4121b" stroke-width="2.6"/>
<path d="M564.0,355.5 L569.0,364.5 L559.0,364.5 Z" fill="#e4121b"/>
<text x="482.30" y="405.3" font-size="15" fill="#111" stroke="#111" stroke-width="0.32" font-weight="bold" textLength="86.13" lengthAdjust="spacingAndGlyphs" >BASP1-AS1</text>
<path d="M527,408 L527,412 Q527,420 535,420 L622,420" fill="none" stroke="#222" stroke-width="2.6"/>
<path d="M629.4,420.4 L622.4,424.4 L622.4,416.4 Z" fill="#222"/>
<rect x="590.10" y="365.00" width="71.90" height="26.90" rx="13.45" ry="13.45" fill="#d8eef5" stroke="#2f6f85" stroke-width="2.0"/>
<text x="604.98" y="384.7" font-size="15" fill="#111" stroke="#111" stroke-width="0.32" font-weight="bold" textLength="43.65" lengthAdjust="spacingAndGlyphs" >LDHA</text>
<line x1="631.3" y1="401.3" x2="631.3" y2="454" stroke="#222" stroke-width="2.6"/>
<path d="M631.3,462.6 L626.5,453.1 L636.0,453.1 Z" fill="#222"/>
<rect x="549.40" y="430.60" width="57.30" height="26.10" rx="13.05" ry="13.05" fill="#d5e4e2" stroke="#4f6b66" stroke-width="2.0"/>
<text x="558.07" y="450" font-size="15" fill="#111" stroke="#111" stroke-width="0.32" font-weight="bold" textLength="40.33" lengthAdjust="spacingAndGlyphs" >ULK1</text>
<rect x="594.00" y="465.80" width="67.30" height="46.10" rx="23.05" ry="23.05" fill="#e0f3da" stroke="#3f7f3c" stroke-width="2.0"/>
<text x="599.00" y="495.1" font-size="15" fill="#111" stroke="#111" stroke-width="0.32" font-weight="bold" textLength="57.20" lengthAdjust="spacingAndGlyphs" >p-LDHA</text>
<path d="M586.4,490.8 L556,490.8 Q543.1,490.8 543.1,502 L543.1,505" fill="none" stroke="#222" stroke-width="2.6"/>
<path d="M543.1,512.4 L538.6,503.9 L547.6,503.9 Z" fill="#222"/>
<rect x="506.20" y="519.40" width="72.00" height="34.10" rx="17.05" ry="17.05" fill="#c6ebe2" stroke="#2e8a4b" stroke-width="2.0"/>
<text x="518.48" y="542.2" font-size="15.4" fill="#111" stroke="#111" stroke-width="0.32" font-weight="bold" textLength="50.53" lengthAdjust="spacingAndGlyphs" >lactate</text>
<line x1="544.5" y1="556.3" x2="544.5" y2="625" stroke="#222" stroke-width="2.6"/>
<path d="M544.5,633.2 L539.5,623.7 L549.5,623.7 Z" fill="#222"/>
<path d="M544.5,592 C545,577 555,566 571,564" fill="none" stroke="#222" stroke-width="2.6"/>
<path d="M578.3,563.9 L570.5,569.5 L569.3,560.6 Z" fill="#222"/>
<rect x="589.00" y="537.30" width="72.20" height="33.90" rx="16.95" ry="16.95" fill="#c6ebe2" stroke="#2e8a4b" stroke-width="2.0"/>
<text x="599.10" y="559.4" font-size="15.4" fill="#111" stroke="#111" stroke-width="0.32" font-weight="bold" textLength="49.70" lengthAdjust="spacingAndGlyphs" >lactate</text>
<rect x="640.65" y="558.65" width="76.50" height="34.70" rx="17.35" ry="17.35" fill="#fcefc1" stroke="#c99d38" stroke-width="2.3"/>
<text x="650.38" y="581.9" font-size="16.5" fill="#111" stroke="#111" stroke-width="0.32" font-weight="bold" textLength="57.50" lengthAdjust="spacingAndGlyphs" >PCBP2</text>
<line x1="720" y1="574.2" x2="812" y2="574.2" stroke="#222" stroke-width="2.6"/>
<path d="M819.9,574.2 L809.9,579.7 L809.9,568.7 Z" fill="#222"/>
<path d="M776,574 C760,572 749,562 747.5,550" fill="none" stroke="#222" stroke-width="2.6"/>
<path d="M747.2,541.7 L753.0,550.2 L743.0,551.1 Z" fill="#222"/>
<circle cx="797.4" cy="574" r="9.5" fill="none" stroke="#d42a2f" stroke-width="2.2"/>
<line x1="790.7" y1="567.3" x2="804.1" y2="580.7" stroke="#d42a2f" stroke-width="2.2"/>
<rect x="693.45" y="498.15" width="107.40" height="36.10" rx="18.05" ry="18.05" fill="#fcefc1" stroke="#c99d38" stroke-width="2.3"/>
<text x="700.47" y="521.7" font-size="14.5" fill="#e8202a" stroke="#e8202a" stroke-width="0.32" font-weight="bold" textLength="93.25" lengthAdjust="spacingAndGlyphs" >PCBP2K115la</text>
<line x1="747.2" y1="497" x2="747.2" y2="428" stroke="#222" stroke-width="2.6"/>
<path d="M747.2,418.0 L752.7,429.0 L741.7,429.0 Z" fill="#222"/>
<circle cx="747.2" cy="455" r="9" fill="none" stroke="#d42a2f" stroke-width="2.2"/>
<line x1="740.8" y1="448.6" x2="753.6" y2="461.4" stroke="#d42a2f" stroke-width="2.2"/>
<rect x="845.40" y="574.10" width="73.10" height="33.90" rx="16.95" ry="16.95" fill="#c6ebe2" stroke="#2e8a4b" stroke-width="2.0"/>
<text x="859.01" y="596.1" font-size="15.5" fill="#111" stroke="#111" stroke-width="0.32" font-weight="bold" textLength="47.33" lengthAdjust="spacingAndGlyphs" >ARIH2</text>
<rect x="847.15" y="541.55" width="70.10" height="31.00" rx="15.50" ry="15.50" fill="#fcefc1" stroke="#c99d38" stroke-width="2.3"/>
<text x="856.28" y="562.5" font-size="15.5" fill="#111" stroke="#111" stroke-width="0.32" font-weight="bold" textLength="52.34" lengthAdjust="spacingAndGlyphs" >PCBP2</text>
<circle cx="830.3" cy="584.9" r="7.7" fill="#fbf5d6" stroke="#ac8d3c" stroke-width="1.6"/>
<text x="825.67" y="587.8" font-size="8" fill="#404040" stroke="#404040" stroke-width="0.12" font-weight="bold" textLength="9.54" lengthAdjust="spacingAndGlyphs" >Ub</text>
<circle cx="840.4" cy="567.5" r="7.7" fill="#fbf5d6" stroke="#ac8d3c" stroke-width="1.6"/>
<text x="835.77" y="570.4" font-size="8" fill="#404040" stroke="#404040" stroke-width="0.12" font-weight="bold" textLength="9.54" lengthAdjust="spacingAndGlyphs" >Ub</text>
<circle cx="840.4" cy="577.6" r="7.7" fill="#fbf5d6" stroke="#ac8d3c" stroke-width="1.6"/>
<text x="835.77" y="580.5" font-size="8" fill="#404040" stroke="#404040" stroke-width="0.12" font-weight="bold" textLength="9.54" lengthAdjust="spacingAndGlyphs" >Ub</text>
<g transform="translate(862.3 409.4) rotate(31)">
<path d="M-7,-21 Q0,-17 7,-21 L7,21 Q0,17 -7,21 Z" fill="#4a8eaf"/>
<path d="M-3,-18 L-3,18" stroke="#3f7fa0" stroke-width="2" opacity="0.5"/>
<rect x="-16.5" y="-24" width="11" height="48" rx="5.5" fill="#6ea8c8" stroke="#4f8fb2" stroke-width="1"/>
<rect x="5.5" y="-24" width="11" height="48" rx="5.5" fill="#6ea8c8" stroke="#4f8fb2" stroke-width="1"/>
</g>
<circle cx="888.3" cy="369.5" r="9.5" fill="#8a471c"/>
<circle cx="888.3" cy="369.5" r="8.6" fill="#9c5523"/>
<text x="880.08" y="373.2" font-size="10.5" fill="#f3e6dc" stroke="#f3e6dc" stroke-width="0.12" font-weight="bold" textLength="17.34" lengthAdjust="spacingAndGlyphs" >OXA</text>
<circle cx="862.1" cy="409.4" r="9" fill="#8a471c"/>
<circle cx="862.1" cy="409.4" r="8.1" fill="#9c5523"/>
<text x="853.88" y="413.1" font-size="10.5" fill="#f3e6dc" stroke="#f3e6dc" stroke-width="0.12" font-weight="bold" textLength="17.34" lengthAdjust="spacingAndGlyphs" >OXA</text>
<circle cx="812" cy="453" r="9.5" fill="#8a471c"/>
<circle cx="812" cy="453" r="8.6" fill="#9c5523"/>
<text x="803.78" y="456.7" font-size="10.5" fill="#f3e6dc" stroke="#f3e6dc" stroke-width="0.12" font-weight="bold" textLength="17.34" lengthAdjust="spacingAndGlyphs" >OXA</text>
<path d="M841.5,424 C830,431 813,433 803,421" fill="none" stroke="#222" stroke-width="3"/>
<path d="M797.5,413.8 L808.0,418.3 L799.3,425.1 Z" fill="#222"/>
<circle cx="816.6" cy="427.5" r="9.6" fill="none" stroke="#d42a2f" stroke-width="2.2"/>
<line x1="809.8" y1="420.7" x2="823.4" y2="434.3" stroke="#d42a2f" stroke-width="2.2"/>
<path d="M470,683 C480,683 486,684 490,684.5 L496,684.5 C505,685 510,685 530,685 L540,685 C550,685 560,685 575,685 L585,685 C595,685 610,685 625,685 L635,685 C640,685 645,685 651.4,684.5" fill="none" stroke="#857fb0" stroke-width="1.8"/>
<g transform="translate(495.2 673) rotate(22)">
<rect x="-4" y="-11" width="12" height="22" fill="#38a6cf"/>
<ellipse cx="8" cy="0" rx="4" ry="11" fill="#2f93c3"/>
<path d="M1.5,-10.6 A4,11 0 0 1 1.5,10.6" fill="none" stroke="#1b6c9e" stroke-width="1.5"/>
<path d="M5,-10.6 A4,11 0 0 1 5,10.6" fill="none" stroke="#1b6c9e" stroke-width="1.5"/>
<ellipse cx="-4" cy="0" rx="5" ry="11" fill="#5ec5dc"/>
</g>
<g transform="translate(539.4 673) rotate(22)">
<rect x="-4" y="-11" width="12" height="22" fill="#38a6cf"/>
<ellipse cx="8" cy="0" rx="4" ry="11" fill="#2f93c3"/>
<path d="M1.5,-10.6 A4,11 0 0 1 1.5,10.6" fill="none" stroke="#1b6c9e" stroke-width="1.5"/>
<path d="M5,-10.6 A4,11 0 0 1 5,10.6" fill="none" stroke="#1b6c9e" stroke-width="1.5"/>
<ellipse cx="-4" cy="0" rx="5" ry="11" fill="#5ec5dc"/>
</g>
<g transform="translate(584.2 673) rotate(22)">
<rect x="-4" y="-11" width="12" height="22" fill="#38a6cf"/>
<ellipse cx="8" cy="0" rx="4" ry="11" fill="#2f93c3"/>
<path d="M1.5,-10.6 A4,11 0 0 1 1.5,10.6" fill="none" stroke="#1b6c9e" stroke-width="1.5"/>
<path d="M5,-10.6 A4,11 0 0 1 5,10.6" fill="none" stroke="#1b6c9e" stroke-width="1.5"/>
<ellipse cx="-4" cy="0" rx="5" ry="11" fill="#5ec5dc"/>
</g>
<g transform="translate(630.1 673) rotate(22)">
<rect x="-4" y="-11" width="12" height="22" fill="#38a6cf"/>
<ellipse cx="8" cy="0" rx="4" ry="11" fill="#2f93c3"/>
<path d="M1.5,-10.6 A4,11 0 0 1 1.5,10.6" fill="none" stroke="#1b6c9e" stroke-width="1.5"/>
<path d="M5,-10.6 A4,11 0 0 1 5,10.6" fill="none" stroke="#1b6c9e" stroke-width="1.5"/>
<ellipse cx="-4" cy="0" rx="5" ry="11" fill="#5ec5dc"/>
</g>
<ellipse cx="518.9" cy="668" rx="6.4" ry="10" transform="rotate(15 518.9 668)" fill="#f8a3d3" stroke="#d463a6" stroke-width="0.9"/>
<line x1="524.9" y1="670.5" x2="529.9" y2="673.5" stroke="#5e9c58" stroke-width="1.3"/>
<circle cx="523.6" cy="669.3" r="3.4" fill="#e2f5dd" stroke="#6aa86a" stroke-width="0.9"/>
<line x1="538.9" y1="657" x2="538.9" y2="661" stroke="#5e9c58" stroke-width="1.3"/>
<ellipse cx="536.9" cy="651" rx="9.5" ry="6.8" fill="#c9a8f3" stroke="#a486d6" stroke-width="0.6"/>
<ellipse cx="531.4" cy="647.5" rx="5.2" ry="4.2" fill="#5ea566"/>
<ellipse cx="536.4" cy="646" rx="4.6" ry="3.8" fill="#66ad6c"/>
<ellipse cx="533.8" cy="641.6" rx="2.2" ry="2.7" fill="#4a1d6d"/>
<circle cx="539.8" cy="654.8" r="3.3" fill="#e2f5dd" stroke="#6aa86a" stroke-width="0.9"/>
<ellipse cx="561.5" cy="669" rx="6.4" ry="10" transform="rotate(15 561.5 669)" fill="#f8a3d3" stroke="#d463a6" stroke-width="0.9"/>
<line x1="567.5" y1="671.5" x2="572.5" y2="674.5" stroke="#5e9c58" stroke-width="1.3"/>
<circle cx="566.2" cy="670.3" r="3.4" fill="#e2f5dd" stroke="#6aa86a" stroke-width="0.9"/>
<line x1="577.5" y1="657.5" x2="577.5" y2="661.5" stroke="#5e9c58" stroke-width="1.3"/>
<ellipse cx="575.5" cy="651.5" rx="9.5" ry="6.8" fill="#c9a8f3" stroke="#a486d6" stroke-width="0.6"/>
<ellipse cx="570" cy="648.0" rx="5.2" ry="4.2" fill="#5ea566"/>
<ellipse cx="575" cy="646.5" rx="4.6" ry="3.8" fill="#66ad6c"/>
<ellipse cx="572.4" cy="642.1" rx="2.2" ry="2.7" fill="#4a1d6d"/>
<circle cx="578.4" cy="655.3" r="3.3" fill="#e2f5dd" stroke="#6aa86a" stroke-width="0.9"/>
<line x1="653.1" y1="680.8" x2="653.1" y2="659" stroke="#e4121b" stroke-width="2.6"/>
<path d="M653.1,652.0 L658.1,661.0 L648.1,661.0 Z" fill="#e4121b"/>
<text x="517.58" y="706.4" font-size="16" fill="#333" stroke="#333" stroke-width="0.32" font-weight="bold" textLength="68.07" lengthAdjust="spacingAndGlyphs" >H3K14la</text>
<polyline points="437.5,738.30 438.3,737.39 439.1,736.51 439.9,735.68 440.7,734.91 441.5,734.24 442.3,733.67 443.1,733.22 443.9,732.91 444.7,732.73 445.5,732.71 446.3,732.83 447.1,733.09 447.9,733.50 448.7,734.02 449.5,734.66 450.3,735.40 451.1,736.21 451.9,737.08 452.7,737.98 453.5,738.89 454.3,739.78 455.1,740.63 455.9,741.43 456.7,742.14 457.5,742.75 458.3,743.24 459.1,743.60 459.9,743.82 460.7,743.90 461.5,743.83 462.3,743.62 463.1,743.26 463.9,742.78 464.7,742.17 465.5,741.47 466.3,740.68 467.1,739.83 467.9,738.94 468.7,738.03 469.5,737.13 470.3,736.26 471.1,735.44 471.9,734.70 472.7,734.06 473.5,733.52 474.3,733.11 475.1,732.84 475.9,732.71 476.7,732.73 477.5,732.89 478.3,733.20 479.2,733.64 480.0,734.20 480.8,734.87 481.6,735.64 482.4,736.47 483.2,737.35 484.0,738.25 484.8,739.16 485.6,740.04 486.4,740.88 487.2,741.65 488.0,742.33 488.8,742.90 489.6,743.36 490.4,743.68 491.2,743.86 492.0,743.89 492.8,743.78 493.6,743.52 494.4,743.13 495.2,742.61 496.0,741.97 496.8,741.24 497.6,740.43 498.4,739.57 499.2,738.67 500.0,737.76 500.8,736.87 501.6,736.01 502.4,735.21 503.2,734.50 504.0,733.89 504.8,733.39 505.6,733.02 506.4,732.79 507.2,732.70 508.0,732.76 508.8,732.97 509.6,733.32 510.4,733.80 511.2,734.39 512.0,735.09 512.8,735.88 513.6,736.72 514.4,737.61 515.2,738.52 516.0,739.42 516.8,740.29 517.6,741.11 518.4,741.86 519.2,742.51 520.0,743.05 520.8,743.47 521.6,743.75 522.4,743.89 523.2,743.88 524.0,743.72 524.8,743.42 525.6,742.99 526.4,742.43 527.2,741.76 528.0,741.01 528.8,740.18 529.6,739.30 530.4,738.40 531.2,737.49 532.0,736.61 532.8,735.77 533.6,734.99 534.4,734.31 535.2,733.72 536.0,733.26 536.8,732.93 537.6,732.75 538.4,732.70 539.2,732.81 540.0,733.06 540.8,733.45 541.6,733.96 542.4,734.59 543.2,735.32 544.0,736.12 544.8,736.98 545.6,737.88 546.4,738.79 547.2,739.68 548.0,740.54 548.8,741.34 549.6,742.06 550.4,742.68 551.2,743.19 552.0,743.57 552.8,743.80 553.6,743.90 554.4,743.85 555.2,743.65 556.0,743.31 556.8,742.83 557.6,742.24 558.4,741.55 559.2,740.77 560.0,739.92 560.8,739.04 561.7,738.13 562.5,737.23 563.3,736.35 564.1,735.53 564.9,734.78 565.7,734.12 566.5,733.57 567.3,733.15 568.1,732.86 568.9,732.72 569.7,732.72 570.5,732.87 571.3,733.16 572.1,733.59 572.9,734.14 573.7,734.80 574.5,735.55 575.3,736.37 576.1,737.25 576.9,738.15 577.7,739.06 578.5,739.94 579.3,740.79 580.1,741.57 580.9,742.26 581.7,742.85 582.5,743.32 583.3,743.65 584.1,743.85 584.9,743.90 585.7,743.80 586.5,743.56 587.3,743.18 588.1,742.67 588.9,742.05 589.7,741.33 590.5,740.52 591.3,739.66 592.1,738.77 592.9,737.86 593.7,736.96 594.5,736.10 595.3,735.30 596.1,734.57 596.9,733.95 597.7,733.43 598.5,733.05 599.3,732.80 600.1,732.70 600.9,732.75 601.7,732.94 602.5,733.27 603.3,733.74 604.1,734.32 604.9,735.01 605.7,735.79 606.5,736.63 607.3,737.51 608.1,738.42 608.9,739.32 609.7,740.20 610.5,741.03 611.3,741.78 612.1,742.45 612.9,743.00 613.7,743.43 614.5,743.73 615.3,743.88 616.1,743.88 616.9,743.74 617.7,743.46 618.5,743.04 619.3,742.50 620.1,741.84 620.9,741.09 621.7,740.27 622.5,739.40 623.3,738.50 624.1,737.59 624.9,736.70 625.7,735.86 626.5,735.07 627.3,734.38 628.1,733.78 628.9,733.31 629.7,732.96 630.5,732.76 631.3,732.70 632.1,732.79 632.9,733.02 633.7,733.40 634.5,733.90 635.3,734.52 636.1,735.23 636.9,736.03 637.7,736.89 638.5,737.78 639.3,738.69 640.1,739.59 640.9,740.45 641.7,741.26 642.5,741.99 643.3,742.62 644.2,743.14 645.0,743.53 645.8,743.79 646.6,743.90 647.4,743.86 648.2,743.67 649.0,743.35 649.8,742.89 650.6,742.31 651.4,741.63 652.2,740.86 653.0,740.02 653.8,739.13 654.6,738.23 655.4,737.32 656.2,736.45 657.0,735.62 657.8,734.86 658.6,734.19 659.4,733.63 660.2,733.19 661.0,732.89 661.8,732.73 662.6,732.71 663.4,732.84 664.2,733.12 665.0,733.53 665.8,734.07 666.6,734.72 667.4,735.46 668.2,736.28 669.0,737.15 669.8,738.05 670.6,738.96 671.4,739.85 672.2,740.70 673.0,741.49 673.8,742.19 674.6,742.79 675.4,743.27 676.2,743.62 677.0,743.83 677.8,743.90 678.6,743.82 679.4,743.59 680.2,743.23 681.0,742.73 681.8,742.12 682.6,741.41 683.4,740.61 684.2,739.76 685.0,738.87" fill="none" stroke="#616161" stroke-width="2.6"/>
<polyline points="437.5,738.30 438.3,739.21 439.1,740.09 439.9,740.92 440.7,741.69 441.5,742.36 442.3,742.93 443.1,743.38 443.9,743.69 444.7,743.87 445.5,743.89 446.3,743.77 447.1,743.51 447.9,743.10 448.7,742.58 449.5,741.94 450.3,741.20 451.1,740.39 451.9,739.52 452.7,738.62 453.5,737.71 454.3,736.82 455.1,735.97 455.9,735.17 456.7,734.46 457.5,733.85 458.3,733.36 459.1,733.00 459.9,732.78 460.7,732.70 461.5,732.77 462.3,732.98 463.1,733.34 463.9,733.82 464.7,734.43 465.5,735.13 466.3,735.92 467.1,736.77 467.9,737.66 468.7,738.57 469.5,739.47 470.3,740.34 471.1,741.16 471.9,741.90 472.7,742.54 473.5,743.08 474.3,743.49 475.1,743.76 475.9,743.89 476.7,743.87 477.5,743.71 478.3,743.40 479.2,742.96 480.0,742.40 480.8,741.73 481.6,740.96 482.4,740.13 483.2,739.25 484.0,738.35 484.8,737.44 485.6,736.56 486.4,735.72 487.2,734.95 488.0,734.27 488.8,733.70 489.6,733.24 490.4,732.92 491.2,732.74 492.0,732.71 492.8,732.82 493.6,733.08 494.4,733.47 495.2,733.99 496.0,734.63 496.8,735.36 497.6,736.17 498.4,737.03 499.2,737.93 500.0,738.84 500.8,739.73 501.6,740.59 502.4,741.39 503.2,742.10 504.0,742.71 504.8,743.21 505.6,743.58 506.4,743.81 507.2,743.90 508.0,743.84 508.8,743.63 509.6,743.28 510.4,742.80 511.2,742.21 512.0,741.51 512.8,740.72 513.6,739.88 514.4,738.99 515.2,738.08 516.0,737.18 516.8,736.31 517.6,735.49 518.4,734.74 519.2,734.09 520.0,733.55 520.8,733.13 521.6,732.85 522.4,732.71 523.2,732.72 524.0,732.88 524.8,733.18 525.6,733.61 526.4,734.17 527.2,734.84 528.0,735.59 528.8,736.42 529.6,737.30 530.4,738.20 531.2,739.11 532.0,739.99 532.8,740.83 533.6,741.61 534.4,742.29 535.2,742.88 536.0,743.34 536.8,743.67 537.6,743.85 538.4,743.90 539.2,743.79 540.0,743.54 540.8,743.15 541.6,742.64 542.4,742.01 543.2,741.28 544.0,740.48 544.8,739.62 545.6,738.72 546.4,737.81 547.2,736.92 548.0,736.06 548.8,735.26 549.6,734.54 550.4,733.92 551.2,733.41 552.0,733.03 552.8,732.80 553.6,732.70 554.4,732.75 555.2,732.95 556.0,733.29 556.8,733.77 557.6,734.36 558.4,735.05 559.2,735.83 560.0,736.68 560.8,737.56 561.7,738.47 562.5,739.37 563.3,740.25 564.1,741.07 564.9,741.82 565.7,742.48 566.5,743.03 567.3,743.45 568.1,743.74 568.9,743.88 569.7,743.88 570.5,743.73 571.3,743.44 572.1,743.01 572.9,742.46 573.7,741.80 574.5,741.05 575.3,740.23 576.1,739.35 576.9,738.45 577.7,737.54 578.5,736.66 579.3,735.81 580.1,735.03 580.9,734.34 581.7,733.75 582.5,733.28 583.3,732.95 584.1,732.75 584.9,732.70 585.7,732.80 586.5,733.04 587.3,733.42 588.1,733.93 588.9,734.55 589.7,735.27 590.5,736.08 591.3,736.94 592.1,737.83 592.9,738.74 593.7,739.64 594.5,740.50 595.3,741.30 596.1,742.03 596.9,742.65 597.7,743.17 598.5,743.55 599.3,743.80 600.1,743.90 600.9,743.85 601.7,743.66 602.5,743.33 603.3,742.86 604.1,742.28 604.9,741.59 605.7,740.81 606.5,739.97 607.3,739.09 608.1,738.18 608.9,737.28 609.7,736.40 610.5,735.57 611.3,734.82 612.1,734.15 612.9,733.60 613.7,733.17 614.5,732.87 615.3,732.72 616.1,732.72 616.9,732.86 617.7,733.14 618.5,733.56 619.3,734.10 620.1,734.76 620.9,735.51 621.7,736.33 622.5,737.20 623.3,738.10 624.1,739.01 624.9,739.90 625.7,740.74 626.5,741.53 627.3,742.22 628.1,742.82 628.9,743.29 629.7,743.64 630.5,743.84 631.3,743.90 632.1,743.81 632.9,743.58 633.7,743.20 634.5,742.70 635.3,742.08 636.1,741.37 636.9,740.57 637.7,739.71 638.5,738.82 639.3,737.91 640.1,737.01 640.9,736.15 641.7,735.34 642.5,734.61 643.3,733.98 644.2,733.46 645.0,733.07 645.8,732.81 646.6,732.70 647.4,732.74 648.2,732.93 649.0,733.25 649.8,733.71 650.6,734.29 651.4,734.97 652.2,735.74 653.0,736.58 653.8,737.47 654.6,738.37 655.4,739.28 656.2,740.15 657.0,740.98 657.8,741.74 658.6,742.41 659.4,742.97 660.2,743.41 661.0,743.71 661.8,743.87 662.6,743.89 663.4,743.76 664.2,743.48 665.0,743.07 665.8,742.53 666.6,741.88 667.4,741.14 668.2,740.32 669.0,739.45 669.8,738.55 670.6,737.64 671.4,736.75 672.2,735.90 673.0,735.11 673.8,734.41 674.6,733.81 675.4,733.33 676.2,732.98 677.0,732.77 677.8,732.70 678.6,732.78 679.4,733.01 680.2,733.37 681.0,733.87 681.8,734.48 682.6,735.19 683.4,735.99 684.2,736.84 685.0,737.73" fill="none" stroke="#8d8d8d" stroke-width="2.6"/>
<polyline points="445.5,732.71 446.3,732.83 447.1,733.09 447.9,733.50 448.7,734.02 449.5,734.66 450.3,735.40 451.1,736.21 451.9,737.08 452.7,737.98 453.5,738.89 454.3,739.78 455.1,740.63 455.9,741.43 456.7,742.14 457.5,742.75 458.3,743.24 459.1,743.60 459.9,743.82 460.7,743.90 461.5,743.83" fill="none" stroke="#616161" stroke-width="2.6"/>
<polyline points="476.7,732.73 477.5,732.89 478.3,733.20 479.2,733.64 480.0,734.20 480.8,734.87 481.6,735.64 482.4,736.47 483.2,737.35 484.0,738.25 484.8,739.16 485.6,740.04 486.4,740.88 487.2,741.65 488.0,742.33 488.8,742.90 489.6,743.36 490.4,743.68 491.2,743.86 492.0,743.89" fill="none" stroke="#616161" stroke-width="2.6"/>
<polyline points="508.0,732.76 508.8,732.97 509.6,733.32 510.4,733.80 511.2,734.39 512.0,735.09 512.8,735.88 513.6,736.72 514.4,737.61 515.2,738.52 516.0,739.42 516.8,740.29 517.6,741.11 518.4,741.86 519.2,742.51 520.0,743.05 520.8,743.47 521.6,743.75 522.4,743.89 523.2,743.88" fill="none" stroke="#616161" stroke-width="2.6"/>
<polyline points="538.4,732.70 539.2,732.81 540.0,733.06 540.8,733.45 541.6,733.96 542.4,734.59 543.2,735.32 544.0,736.12 544.8,736.98 545.6,737.88 546.4,738.79 547.2,739.68 548.0,740.54 548.8,741.34 549.6,742.06 550.4,742.68 551.2,743.19 552.0,743.57 552.8,743.80 553.6,743.90 554.4,743.85" fill="none" stroke="#616161" stroke-width="2.6"/>
<polyline points="569.7,732.72 570.5,732.87 571.3,733.16 572.1,733.59 572.9,734.14 573.7,734.80 574.5,735.55 575.3,736.37 576.1,737.25 576.9,738.15 577.7,739.06 578.5,739.94 579.3,740.79 580.1,741.57 580.9,742.26 581.7,742.85 582.5,743.32 583.3,743.65 584.1,743.85 584.9,743.90" fill="none" stroke="#616161" stroke-width="2.6"/>
<polyline points="600.9,732.75 601.7,732.94 602.5,733.27 603.3,733.74 604.1,734.32 604.9,735.01 605.7,735.79 606.5,736.63 607.3,737.51 608.1,738.42 608.9,739.32 609.7,740.20 610.5,741.03 611.3,741.78 612.1,742.45 612.9,743.00 613.7,743.43 614.5,743.73 615.3,743.88 616.1,743.88" fill="none" stroke="#616161" stroke-width="2.6"/>
<polyline points="631.3,732.70 632.1,732.79 632.9,733.02 633.7,733.40 634.5,733.90 635.3,734.52 636.1,735.23 636.9,736.03 637.7,736.89 638.5,737.78 639.3,738.69 640.1,739.59 640.9,740.45 641.7,741.26 642.5,741.99 643.3,742.62 644.2,743.14 645.0,743.53 645.8,743.79 646.6,743.90 647.4,743.86" fill="none" stroke="#616161" stroke-width="2.6"/>
<polyline points="662.6,732.71 663.4,732.84 664.2,733.12 665.0,733.53 665.8,734.07 666.6,734.72 667.4,735.46 668.2,736.28 669.0,737.15 669.8,738.05 670.6,738.96 671.4,739.85 672.2,740.70 673.0,741.49 673.8,742.19 674.6,742.79 675.4,743.27 676.2,743.62 677.0,743.83 677.8,743.90" fill="none" stroke="#616161" stroke-width="2.6"/>
<polyline points="511.0,732.78 511.8,732.70 512.6,732.77 513.4,732.98 514.2,733.33 515.0,733.81 515.8,734.41 516.6,735.11 517.4,735.90 518.2,736.75 519.0,737.63 519.8,738.54 520.6,739.44 521.4,740.31 522.2,741.13 523.0,741.87 523.8,742.52 524.6,743.06 525.4,743.48 526.2,743.75 527.0,743.89 527.8,743.87 528.6,743.72 529.4,743.41 530.2,742.98 531.0,742.42 531.8,741.75 532.6,741.00 533.4,740.17 534.2,739.29 535.0,738.39 535.8,737.48 536.6,736.60 537.4,735.76 538.2,734.99 539.0,734.30 539.8,733.72 540.6,733.26 541.4,732.93 542.2,732.74 543.0,732.70 543.8,732.81 544.6,733.06 545.4,733.45 546.2,733.96 547.0,734.59 547.8,735.32 548.6,736.12 549.4,736.99 550.2,737.88 551.0,738.79 551.8,739.69 552.6,740.54 553.4,741.34 554.2,742.06 555.0,742.68 555.8,743.19 556.6,743.57 557.4,743.80 558.2,743.90 559.0,743.85 559.8,743.65 560.6,743.31 561.4,742.84 562.2,742.25 563.0,741.55 563.8,740.78 564.6,739.93 565.4,739.04 566.2,738.14 567.0,737.24 567.8,736.36 568.6,735.54 569.4,734.79 570.2,734.13 571.0,733.58 571.8,733.16 572.6,732.87 573.4,732.72 574.2,732.72 575.0,732.86 575.8,733.15 576.6,733.58 577.4,734.13 578.2,734.78 579.0,735.53 579.8,736.36 580.6,737.23 581.4,738.13 582.2,739.04 583.0,739.93 583.8,740.77 584.6,741.55 585.4,742.24 586.2,742.83 587.0,743.31 587.8,743.65 588.6,743.84 589.5,743.90 590.3,743.81 591.1,743.57 591.9,743.19 592.7,742.69 593.5,742.07 594.3,741.35 595.1,740.55 595.9,739.69 596.7,738.80 597.5,737.89 598.3,736.99 599.1,736.13 599.9,735.32 600.7,734.60 601.5,733.97 602.3,733.45 603.1,733.06 603.9,732.81 604.7,732.70 605.5,732.74 606.3,732.93 607.1,733.26 607.9,733.72 608.7,734.30 609.5,734.98 610.3,735.75 611.1,736.59 611.9,737.48 612.7,738.38 613.5,739.29 614.3,740.16 615.1,740.99 615.9,741.75 616.7,742.42 617.5,742.98 618.3,743.41 619.1,743.71 619.9,743.87 620.7,743.89 621.5,743.75 622.3,743.48 623.1,743.06 623.9,742.53 624.7,741.88 625.5,741.13 626.3,740.32 627.1,739.45 627.9,738.55 628.7,737.64 629.5,736.75 630.3,735.90 631.1,735.12 631.9,734.41 632.7,733.81 633.5,733.33 634.3,732.98 635.1,732.77 635.9,732.70 636.7,732.78 637.5,733.01 638.3,733.37 639.1,733.86 639.9,734.48 640.7,735.19 641.5,735.98 642.3,736.83 643.1,737.72 643.9,738.63 644.7,739.53 645.5,740.40 646.3,741.21 647.1,741.94 647.9,742.58 648.7,743.11 649.5,743.51 650.3,743.77 651.1,743.89 651.9,743.87 652.7,743.69 653.5,743.38 654.3,742.93 655.1,742.36 655.9,741.68 656.7,740.92 657.5,740.08 658.3,739.20 659.1,738.30 659.9,737.39 660.7,736.51 661.5,735.68 662.3,734.91 663.1,734.24 663.9,733.67 664.7,733.22 665.5,732.91 666.3,732.73" fill="none" stroke="#7a0f18" stroke-width="2.6"/>
<polyline points="511.0,743.82 511.8,743.90 512.6,743.83 513.4,743.62 514.2,743.27 515.0,742.79 515.8,742.19 516.6,741.49 517.4,740.70 518.2,739.85 519.0,738.97 519.8,738.06 520.6,737.16 521.4,736.29 522.2,735.47 523.0,734.73 523.8,734.08 524.6,733.54 525.4,733.12 526.2,732.85 527.0,732.71 527.8,732.73 528.6,732.88 529.4,733.19 530.2,733.62 531.0,734.18 531.8,734.85 532.6,735.60 533.4,736.43 534.2,737.31 535.0,738.21 535.8,739.12 536.6,740.00 537.4,740.84 538.2,741.61 539.0,742.30 539.8,742.88 540.6,743.34 541.4,743.67 542.2,743.86 543.0,743.90 543.8,743.79 544.6,743.54 545.4,743.15 546.2,742.64 547.0,742.01 547.8,741.28 548.6,740.48 549.4,739.61 550.2,738.72 551.0,737.81 551.8,736.91 552.6,736.06 553.4,735.26 554.2,734.54 555.0,733.92 555.8,733.41 556.6,733.03 557.4,732.80 558.2,732.70 559.0,732.75 559.8,732.95 560.6,733.29 561.4,733.76 562.2,734.35 563.0,735.05 563.8,735.82 564.6,736.67 565.4,737.56 566.2,738.46 567.0,739.36 567.8,740.24 568.6,741.06 569.4,741.81 570.2,742.47 571.0,743.02 571.8,743.44 572.6,743.73 573.4,743.88 574.2,743.88 575.0,743.74 575.8,743.45 576.6,743.02 577.4,742.47 578.2,741.82 579.0,741.07 579.8,740.24 580.6,739.37 581.4,738.47 582.2,737.56 583.0,736.67 583.8,735.83 584.6,735.05 585.4,734.36 586.2,733.77 587.0,733.29 587.8,732.95 588.6,732.76 589.5,732.70 590.3,732.79 591.1,733.03 591.9,733.41 592.7,733.91 593.5,734.53 594.3,735.25 595.1,736.05 595.9,736.91 596.7,737.80 597.5,738.71 598.3,739.61 599.1,740.47 599.9,741.28 600.7,742.00 601.5,742.63 602.3,743.15 603.1,743.54 603.9,743.79 604.7,743.90 605.5,743.86 606.3,743.67 607.1,743.34 607.9,742.88 608.7,742.30 609.5,741.62 610.3,740.85 611.1,740.01 611.9,739.12 612.7,738.22 613.5,737.31 614.3,736.44 615.1,735.61 615.9,734.85 616.7,734.18 617.5,733.62 618.3,733.19 619.1,732.89 619.9,732.73 620.7,732.71 621.5,732.85 622.3,733.12 623.1,733.54 623.9,734.07 624.7,734.72 625.5,735.47 626.3,736.28 627.1,737.15 627.9,738.05 628.7,738.96 629.5,739.85 630.3,740.70 631.1,741.48 631.9,742.19 632.7,742.79 633.5,743.27 634.3,743.62 635.1,743.83 635.9,743.90 636.7,743.82 637.5,743.59 638.3,743.23 639.1,742.74 639.9,742.12 640.7,741.41 641.5,740.62 642.3,739.77 643.1,738.88 643.9,737.97 644.7,737.07 645.5,736.20 646.3,735.39 647.1,734.66 647.9,734.02 648.7,733.49 649.5,733.09 650.3,732.83 651.1,732.71 651.9,732.73 652.7,732.91 653.5,733.22 654.3,733.67 655.1,734.24 655.9,734.92 656.7,735.68 657.5,736.52 658.3,737.40 659.1,738.30 659.9,739.21 660.7,740.09 661.5,740.92 662.3,741.69 663.1,742.36 663.9,742.93 664.7,743.38 665.5,743.69 666.3,743.87" fill="none" stroke="#d0222a" stroke-width="2.6"/>
<polyline points="512.6,732.77 513.4,732.98 514.2,733.33 515.0,733.81 515.8,734.41 516.6,735.11 517.4,735.90 518.2,736.75 519.0,737.63 519.8,738.54 520.6,739.44 521.4,740.31 522.2,741.13 523.0,741.87 523.8,742.52 524.6,743.06 525.4,743.48 526.2,743.75 527.0,743.89 527.8,743.87" fill="none" stroke="#7a0f18" stroke-width="2.6"/>
<polyline points="543.0,732.70 543.8,732.81 544.6,733.06 545.4,733.45 546.2,733.96 547.0,734.59 547.8,735.32 548.6,736.12 549.4,736.99 550.2,737.88 551.0,738.79 551.8,739.69 552.6,740.54 553.4,741.34 554.2,742.06 555.0,742.68 555.8,743.19 556.6,743.57 557.4,743.80 558.2,743.90 559.0,743.85" fill="none" stroke="#7a0f18" stroke-width="2.6"/>
<polyline points="574.2,732.72 575.0,732.86 575.8,733.15 576.6,733.58 577.4,734.13 578.2,734.78 579.0,735.53 579.8,736.36 580.6,737.23 581.4,738.13 582.2,739.04 583.0,739.93 583.8,740.77 584.6,741.55 585.4,742.24 586.2,742.83 587.0,743.31 587.8,743.65 588.6,743.84 589.5,743.90" fill="none" stroke="#7a0f18" stroke-width="2.6"/>
<polyline points="605.5,732.74 606.3,732.93 607.1,733.26 607.9,733.72 608.7,734.30 609.5,734.98 610.3,735.75 611.1,736.59 611.9,737.48 612.7,738.38 613.5,739.29 614.3,740.16 615.1,740.99 615.9,741.75 616.7,742.42 617.5,742.98 618.3,743.41 619.1,743.71 619.9,743.87 620.7,743.89" fill="none" stroke="#7a0f18" stroke-width="2.6"/>
<polyline points="635.9,732.70 636.7,732.78 637.5,733.01 638.3,733.37 639.1,733.86 639.9,734.48 640.7,735.19 641.5,735.98 642.3,736.83 643.1,737.72 643.9,738.63 644.7,739.53 645.5,740.40 646.3,741.21 647.1,741.94 647.9,742.58 648.7,743.11 649.5,743.51 650.3,743.77 651.1,743.89 651.9,743.87" fill="none" stroke="#7a0f18" stroke-width="2.6"/>
<path d="M588.5,759 L588.5,793 L630,793" fill="none" stroke="#5d1d20" stroke-width="6"/>
<path d="M643.3,793.0 L627.3,801.5 L627.3,784.5 Z" fill="#5d1d20"/>
<path d="M668.5,720.8 L668.5,687 L708,687" fill="none" stroke="#5d1d20" stroke-width="6"/>
<path d="M723.0,687.0 L707.0,696.5 L707.0,677.5 Z" fill="#5d1d20"/>
<rect x="731.75" y="668.55" width="70.20" height="31.90" rx="15.95" ry="15.95" fill="#fcefc1" stroke="#c99d38" stroke-width="2.3"/>
<text x="741.29" y="690.2" font-size="16" fill="#111" stroke="#111" stroke-width="0.32" font-weight="bold" textLength="51.93" lengthAdjust="spacingAndGlyphs" >PCBP2</text>
<line x1="810.5" y1="698.6" x2="810.5" y2="677" stroke="#e4121b" stroke-width="2.6"/>
<path d="M810.5,670.0 L815.5,679.0 L805.5,679.0 Z" fill="#e4121b"/>
<path d="M740.8,662.2 C715,650 704,633 704,615" fill="none" stroke="#222" stroke-width="3"/>
<path d="M704.0,606.4 L709.5,616.4 L698.5,616.4 Z" fill="#222"/>
<rect x="648.00" y="778.20" width="72.50" height="29.80" rx="14.90" ry="14.90" fill="#d8eef5" stroke="#2f6f85" stroke-width="2.0"/>
<text x="662.78" y="799.4" font-size="15" fill="#111" stroke="#111" stroke-width="0.32" font-weight="bold" textLength="43.65" lengthAdjust="spacingAndGlyphs" >LDHA</text>
<line x1="732" y1="807.4" x2="732" y2="786.5" stroke="#e4121b" stroke-width="2.6"/>
<path d="M732.0,779.5 L737.0,788.5 L727.0,788.5 Z" fill="#e4121b"/>
<path d="M709,762 C730,748 755,748 770,757" fill="none" stroke="#222" stroke-width="2.6"/>
<path d="M777.9,761.0 L766.6,759.8 L772.9,750.8 Z" fill="#222"/>
<rect x="775.50" y="772.30" width="136.90" height="34.90" rx="17.45" ry="17.45" fill="#fdf3f3" stroke="#e9c5c9" stroke-width="1.6"/>
<text x="785.20" y="796.3" font-size="15.5" fill="#111" stroke="#111" stroke-width="0.32" font-weight="bold" textLength="118.04" lengthAdjust="spacingAndGlyphs" >Warbuger effect</text>
<line x1="926.2" y1="805.8" x2="926.2" y2="783.3" stroke="#e4121b" stroke-width="2.6"/>
<path d="M926.2,776.3 L931.2,785.3 L921.2,785.3 Z" fill="#e4121b"/>
<line x1="469.6" y1="327.5" x2="469.6" y2="829" stroke="#ffffff" stroke-width="4.5" opacity="0.55"/>
<line x1="469.6" y1="327.5" x2="469.6" y2="829" stroke="#1a1a1a" stroke-width="2.5" stroke-dasharray="0 5.235" stroke-linecap="round"/>
<rect x="0" y="300" width="1" height="531" fill="#ffffff" opacity="0.5"/>
<rect x="936" y="300" width="1" height="531" fill="#ffffff" opacity="0.5"/>
<rect x="0" y="830" width="937" height="1" fill="#ffffff" opacity="0.5"/>
</svg>
</body></html>
